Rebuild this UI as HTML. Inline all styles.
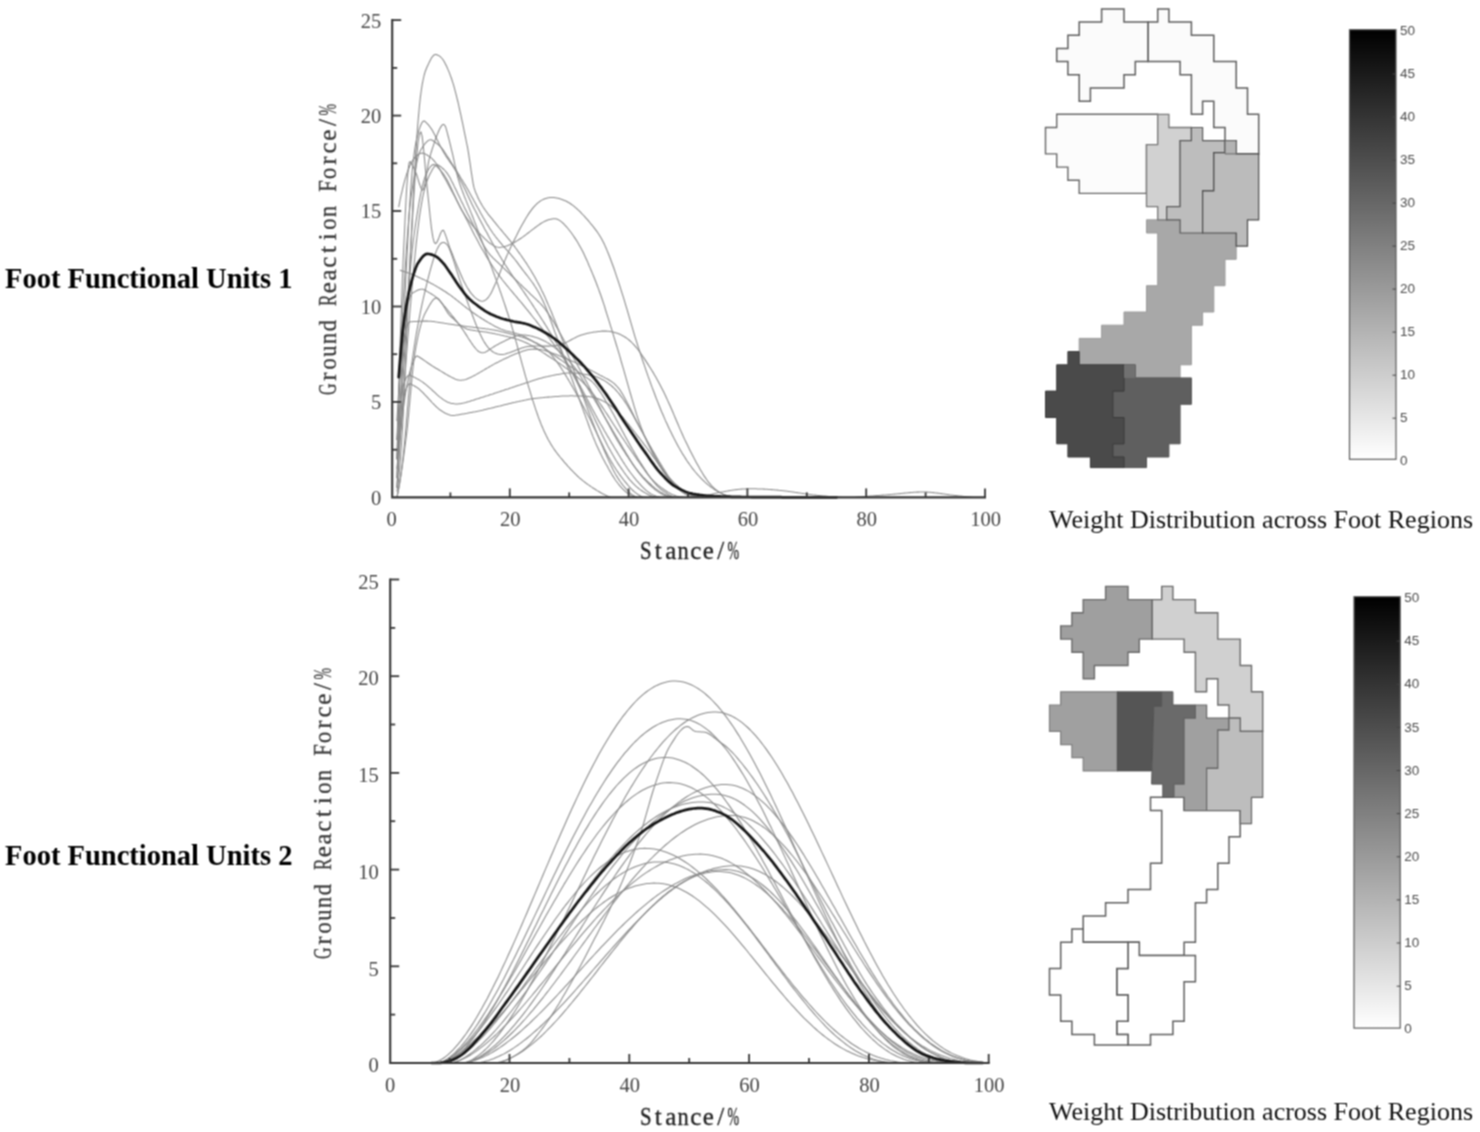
<!DOCTYPE html>
<html><head><meta charset="utf-8"><title>Foot Functional Units</title>
<style>html,body{margin:0;padding:0;background:#fff}#fig{width:1480px;height:1132px;overflow:hidden}svg{display:block}</style></head>
<body>
<div id="fig">
<svg width="1480" height="1132" viewBox="0 0 1480 1132">
<defs><linearGradient id="cb" x1="0" y1="0" x2="0" y2="1"><stop offset="0" stop-color="#000"/><stop offset="1" stop-color="#fff"/></linearGradient><filter id="bl" x="0" y="0" width="1480" height="1132" filterUnits="userSpaceOnUse" color-interpolation-filters="sRGB"><feConvolveMatrix order="3" kernelMatrix="1 2 1 2 4 2 1 2 1" divisor="16" edgeMode="duplicate" preserveAlpha="true"/></filter></defs>
<g filter="url(#bl)">
<rect width="1480" height="1132" fill="#fff"/>
<text x="5" y="287.5" font-family="'Liberation Serif','Noto Serif CJK SC',serif" font-weight="bold" font-size="28.5" fill="#000">Foot Functional Units 1</text>
<text x="5" y="865" font-family="'Liberation Serif','Noto Serif CJK SC',serif" font-weight="bold" font-size="28.5" fill="#000">Foot Functional Units 2</text>
<g fill="none" stroke="#888888" stroke-width="1.05" stroke-linejoin="round">
<path d="M396.9,491.7 L397.9,485.0 L398.8,477.0 L399.8,467.6 L400.7,456.2 L401.6,442.7 L402.6,426.7 L403.5,408.0 L404.5,387.4 L405.4,365.6 L406.3,343.3 L407.3,321.2 L408.2,300.0 L409.2,280.4 L410.1,261.0 L411.0,241.8 L412.0,222.9 L412.9,204.4 L413.9,186.7 L414.8,169.8 L415.7,154.0 L416.7,139.5 L417.6,126.5 L418.6,115.1 L419.5,105.3 L420.4,96.9 L421.4,89.8 L422.3,83.9 L423.3,79.0 L424.2,75.0 L425.1,71.8 L426.1,69.2 L427.0,67.0 L428.0,64.9 L428.9,62.9 L429.9,61.0 L430.8,59.2 L431.7,57.6 L432.7,56.3 L433.6,55.3 L434.6,54.7 L435.5,54.4 L436.4,54.6 L437.4,55.0 L438.3,55.4 L439.3,55.9 L440.2,56.6 L441.1,57.5 L442.1,58.5 L443.0,59.7 L444.0,61.2 L444.9,63.0 L445.8,64.8 L446.8,66.8 L447.7,68.9 L448.7,71.1 L449.6,73.4 L450.5,75.9 L451.5,78.5 L452.4,81.4 L453.4,84.4 L454.3,87.7 L455.2,91.1 L456.2,94.8 L457.1,98.6 L458.1,102.5 L459.0,106.6 L459.9,110.8 L460.9,115.2 L461.8,119.6 L462.8,124.1 L463.7,128.6 L464.6,133.2 L465.6,137.9 L466.5,142.5 L467.5,147.2 L468.4,152.3 L469.3,158.3 L470.3,164.8 L471.2,171.4 L472.2,177.7 L473.1,183.3 L474.0,187.7 L475.0,190.6 L475.9,193.0 L476.9,195.1 L477.8,197.2 L478.7,199.2 L479.7,201.0 L480.6,202.8 L481.6,204.4 L482.5,206.0 L483.4,207.5 L484.4,208.9 L485.3,210.3 L486.3,211.6 L487.2,212.8 L488.1,214.1 L489.1,215.3 L490.0,216.4 L491.0,217.6 L491.9,218.7 L492.9,219.9 L493.8,221.1 L494.7,222.2 L495.7,223.4 L496.6,224.6 L497.6,225.7 L498.5,226.9 L499.4,228.0 L500.4,229.1 L501.3,230.2 L502.3,231.4 L503.2,232.5 L504.1,233.6 L505.1,234.7 L506.0,235.8 L507.0,236.9 L507.9,238.1 L508.8,239.2 L509.8,240.4 L510.7,241.5 L511.7,242.7 L512.6,243.9 L513.5,245.2 L514.5,246.4 L515.4,247.7 L516.4,249.0 L517.3,250.3 L518.2,251.6 L519.2,252.9 L520.1,254.2 L521.1,255.5 L522.0,256.9 L522.9,258.2 L523.9,259.6 L524.8,261.0 L525.8,262.4 L526.7,263.8 L527.6,265.3 L528.6,266.8 L529.5,268.3 L530.5,269.8 L531.4,271.3 L532.3,272.9 L533.3,274.5 L534.2,276.1 L535.2,277.8 L536.1,279.5 L537.0,281.2 L538.0,282.9 L538.9,284.7 L539.9,286.6 L540.8,288.4 L541.7,290.4 L542.7,292.3 L543.6,294.3 L544.6,296.3 L545.5,298.4 L546.4,300.5 L547.4,302.7 L548.3,304.9 L549.3,307.1 L550.2,309.3 L551.2,311.5 L552.1,313.8 L553.0,316.1 L554.0,318.4 L554.9,320.7 L555.9,323.1 L556.8,325.5 L557.7,327.9 L558.7,330.3 L559.6,332.7 L560.6,335.1 L561.5,337.6 L562.4,340.1 L563.4,342.5 L564.3,345.0 L565.3,347.5 L566.2,350.0 L567.1,352.5 L568.1,355.0 L569.0,357.6 L570.0,360.1 L570.9,362.6 L571.8,365.2 L572.8,367.8 L573.7,370.3 L574.7,372.9 L575.6,375.5 L576.5,378.2 L577.5,380.8 L578.4,383.4 L579.4,386.0 L580.3,388.7 L581.2,391.3 L582.2,393.9 L583.1,396.5 L584.1,399.1 L585.0,401.7 L585.9,404.3 L586.9,406.9 L587.8,409.5 L588.8,412.0 L589.7,414.5 L590.6,417.1 L591.6,419.5 L592.5,422.0 L593.5,424.4 L594.4,426.8 L595.3,429.2 L596.3,431.5 L597.2,433.9 L598.2,436.2 L599.1,438.4 L600.0,440.7 L601.0,442.9 L601.9,445.1 L602.9,447.3 L603.8,449.5 L604.7,451.6 L605.7,453.7 L606.6,455.9 L607.6,457.9 L608.5,460.0 L609.4,462.1 L610.4,464.1 L611.3,466.1 L612.3,468.1 L613.2,469.9 L614.2,471.7 L615.1,473.4 L616.0,475.0 L617.0,476.6 L617.9,478.1 L618.9,479.6 L619.8,481.0 L620.7,482.3 L621.7,483.6 L622.6,484.8 L623.6,486.0 L624.5,487.1 L625.4,488.2 L626.4,489.3 L627.3,490.3 L628.3,491.3 L629.2,492.3 L630.1,493.1 L631.1,493.9 L632.0,494.6 L633.0,495.2 L633.9,495.8 L634.8,496.2 L635.8,496.6 L636.7,496.9 L637.7,497.2 L638.6,497.3 L639.5,497.4 L640.5,497.4"/>
<path d="M396.9,478.3 L397.9,455.0 L399.0,432.1 L400.0,409.5 L401.0,387.0 L402.0,364.6 L403.0,342.1 L404.0,319.8 L405.0,297.9 L406.0,276.6 L407.0,255.8 L408.0,235.6 L409.0,216.3 L410.1,199.2 L411.1,184.6 L412.1,172.4 L413.1,162.2 L414.1,153.8 L415.1,147.0 L416.1,141.4 L417.1,137.0 L418.1,133.3 L419.1,129.9 L420.1,126.8 L421.2,124.3 L422.2,122.3 L423.2,121.2 L424.2,120.9 L425.2,121.7 L426.2,122.6 L427.2,123.6 L428.2,124.7 L429.2,125.9 L430.2,127.2 L431.2,128.6 L432.3,130.3 L433.3,132.2 L434.3,134.1 L435.3,136.1 L436.3,138.1 L437.3,140.1 L438.3,142.1 L439.3,144.2 L440.3,146.2 L441.3,148.1 L442.4,150.0 L443.4,151.9 L444.4,153.6 L445.4,155.3 L446.4,156.9 L447.4,158.3 L448.4,159.8 L449.4,161.2 L450.4,162.6 L451.4,164.0 L452.4,165.5 L453.5,167.1 L454.5,168.7 L455.5,170.5 L456.5,172.3 L457.5,174.2 L458.5,176.2 L459.5,178.2 L460.5,180.2 L461.5,182.3 L462.5,184.3 L463.5,186.4 L464.6,188.5 L465.6,190.6 L466.6,192.8 L467.6,194.9 L468.6,197.0 L469.6,199.2 L470.6,201.3 L471.6,203.4 L472.6,205.5 L473.6,207.6 L474.6,209.6 L475.7,211.6 L476.7,213.6 L477.7,215.5 L478.7,217.5 L479.7,219.4 L480.7,221.3 L481.7,223.2 L482.7,225.1 L483.7,227.0 L484.7,228.9 L485.7,230.7 L486.8,232.6 L487.8,234.5 L488.8,236.4 L489.8,238.2 L490.8,240.1 L491.8,241.9 L492.8,243.7 L493.8,245.5 L494.8,247.3 L495.8,249.1 L496.8,250.9 L497.9,252.6 L498.9,254.4 L499.9,256.1 L500.9,257.7 L501.9,259.4 L502.9,261.1 L503.9,262.7 L504.9,264.3 L505.9,265.8 L506.9,267.4 L507.9,268.9 L509.0,270.5 L510.0,272.0 L511.0,273.5 L512.0,275.0 L513.0,276.5 L514.0,277.9 L515.0,279.4 L516.0,280.8 L517.0,282.3 L518.0,283.8 L519.0,285.2 L520.1,286.6 L521.1,288.1 L522.1,289.5 L523.1,291.0 L524.1,292.4 L525.1,293.9 L526.1,295.4 L527.1,296.8 L528.1,298.3 L529.1,299.8 L530.1,301.3 L531.2,302.8 L532.2,304.4 L533.2,305.9 L534.2,307.5 L535.2,309.0 L536.2,310.6 L537.2,312.1 L538.2,313.7 L539.2,315.2 L540.2,316.8 L541.2,318.4 L542.3,320.0 L543.3,321.5 L544.3,323.1 L545.3,324.7 L546.3,326.3 L547.3,327.9 L548.3,329.6 L549.3,331.2 L550.3,332.8 L551.3,334.5 L552.3,336.2 L553.4,337.9 L554.4,339.6 L555.4,341.3 L556.4,343.0 L557.4,344.8 L558.4,346.6 L559.4,348.4 L560.4,350.2 L561.4,352.1 L562.4,353.9 L563.4,355.8 L564.5,357.7 L565.5,359.6 L566.5,361.6 L567.5,363.5 L568.5,365.5 L569.5,367.5 L570.5,369.4 L571.5,371.4 L572.5,373.4 L573.5,375.4 L574.5,377.4 L575.6,379.5 L576.6,381.5 L577.6,383.5 L578.6,385.5 L579.6,387.5 L580.6,389.5 L581.6,391.6 L582.6,393.6 L583.6,395.6 L584.6,397.7 L585.6,399.8 L586.7,401.9 L587.7,404.0 L588.7,406.2 L589.7,408.3 L590.7,410.4 L591.7,412.6 L592.7,414.7 L593.7,416.9 L594.7,419.0 L595.7,421.2 L596.7,423.3 L597.8,425.5 L598.8,427.6 L599.8,429.7 L600.8,431.8 L601.8,433.9 L602.8,436.0 L603.8,438.1 L604.8,440.1 L605.8,442.1 L606.8,444.1 L607.8,446.0 L608.9,447.9 L609.9,449.7 L610.9,451.6 L611.9,453.3 L612.9,455.1 L613.9,456.8 L614.9,458.5 L615.9,460.2 L616.9,461.8 L617.9,463.4 L618.9,464.9 L620.0,466.5 L621.0,467.9 L622.0,469.4 L623.0,470.8 L624.0,472.3 L625.0,473.6 L626.0,475.0 L627.0,476.3 L628.0,477.6 L629.0,478.9 L630.0,480.1 L631.1,481.2 L632.1,482.3 L633.1,483.4 L634.1,484.4 L635.1,485.4 L636.1,486.3 L637.1,487.2 L638.1,488.0 L639.1,488.8 L640.1,489.6 L641.1,490.3 L642.2,491.0 L643.2,491.7 L644.2,492.3 L645.2,492.9 L646.2,493.5 L647.2,494.0 L648.2,494.5 L649.2,495.0 L650.2,495.4 L651.2,495.8 L652.2,496.2 L653.3,496.5 L654.3,496.8 L655.3,497.0 L656.3,497.2 L657.3,497.3 L658.3,497.4"/>
<path d="M396.9,459.2 L397.8,426.6 L398.6,395.9 L399.4,367.2 L400.2,340.5 L401.1,315.7 L401.9,292.9 L402.7,272.1 L403.5,252.8 L404.4,234.0 L405.2,216.3 L406.0,200.2 L406.8,186.2 L407.7,174.9 L408.5,166.7 L409.3,162.1 L410.2,161.6 L411.0,162.8 L411.8,164.1 L412.6,165.6 L413.5,167.2 L414.3,169.0 L415.1,170.9 L415.9,172.8 L416.8,175.0 L417.6,177.6 L418.4,180.3 L419.2,183.0 L420.1,185.6 L420.9,187.7 L421.7,189.3 L422.5,190.1 L423.4,189.4 L424.2,186.9 L425.0,183.2 L425.8,178.5 L426.7,173.4 L427.5,168.2 L428.3,163.4 L429.1,159.4 L430.0,156.4 L430.8,153.7 L431.6,151.0 L432.4,148.4 L433.3,145.8 L434.1,143.3 L434.9,140.8 L435.7,138.5 L436.6,136.2 L437.4,134.1 L438.2,132.2 L439.0,130.3 L439.9,128.6 L440.7,127.1 L441.5,125.8 L442.4,124.8 L443.2,124.4 L444.0,124.5 L444.8,125.4 L445.7,127.1 L446.5,129.8 L447.3,132.9 L448.1,136.0 L449.0,139.3 L449.8,142.6 L450.6,145.9 L451.4,149.3 L452.3,152.8 L453.1,156.4 L453.9,160.2 L454.7,164.0 L455.6,167.7 L456.4,171.4 L457.2,174.9 L458.0,178.1 L458.9,181.0 L459.7,183.6 L460.5,186.0 L461.3,188.3 L462.2,190.6 L463.0,192.8 L463.8,194.9 L464.6,197.0 L465.5,199.1 L466.3,201.1 L467.1,203.1 L467.9,205.1 L468.8,207.1 L469.6,209.1 L470.4,211.1 L471.2,213.1 L472.1,215.2 L472.9,217.3 L473.7,219.4 L474.5,221.6 L475.4,223.8 L476.2,226.0 L477.0,228.2 L477.9,230.4 L478.7,232.6 L479.5,234.8 L480.3,237.0 L481.2,239.2 L482.0,241.5 L482.8,243.7 L483.6,245.9 L484.5,248.1 L485.3,250.3 L486.1,252.5 L486.9,254.7 L487.8,256.9 L488.6,259.2 L489.4,261.4 L490.2,263.6 L491.1,265.8 L491.9,268.1 L492.7,270.3 L493.5,272.6 L494.4,274.8 L495.2,277.1 L496.0,279.4 L496.8,281.7 L497.7,284.0 L498.5,286.3 L499.3,288.7 L500.1,291.0 L501.0,293.4 L501.8,295.8 L502.6,298.2 L503.4,300.6 L504.3,303.1 L505.1,305.5 L505.9,308.0 L506.7,310.5 L507.6,313.0 L508.4,315.5 L509.2,318.1 L510.1,320.7 L510.9,323.3 L511.7,326.0 L512.5,328.8 L513.4,331.7 L514.2,334.7 L515.0,337.6 L515.8,340.7 L516.7,343.7 L517.5,346.8 L518.3,349.9 L519.1,353.0 L520.0,356.1 L520.8,359.2 L521.6,362.2 L522.4,365.2 L523.3,368.2 L524.1,371.2 L524.9,374.1 L525.7,376.9 L526.6,379.8 L527.4,382.6 L528.2,385.4 L529.0,388.1 L529.9,390.9 L530.7,393.6 L531.5,396.3 L532.3,399.0 L533.2,401.6 L534.0,404.2 L534.8,406.7 L535.6,409.2 L536.5,411.6 L537.3,414.0 L538.1,416.3 L538.9,418.6 L539.8,420.8 L540.6,422.9 L541.4,425.0 L542.3,427.0 L543.1,428.9 L543.9,430.8 L544.7,432.6 L545.6,434.3 L546.4,436.0 L547.2,437.6 L548.0,439.2 L548.9,440.7 L549.7,442.1 L550.5,443.5 L551.3,444.9 L552.2,446.2 L553.0,447.5 L553.8,448.7 L554.6,449.9 L555.5,451.1 L556.3,452.2 L557.1,453.3 L557.9,454.4 L558.8,455.4 L559.6,456.5 L560.4,457.5 L561.2,458.4 L562.1,459.4 L562.9,460.4 L563.7,461.4 L564.5,462.3 L565.4,463.3 L566.2,464.2 L567.0,465.1 L567.8,466.1 L568.7,467.0 L569.5,467.9 L570.3,468.8 L571.1,469.7 L572.0,470.5 L572.8,471.4 L573.6,472.2 L574.5,473.1 L575.3,473.9 L576.1,474.7 L576.9,475.5 L577.8,476.3 L578.6,477.0 L579.4,477.8 L580.2,478.5 L581.1,479.2 L581.9,479.9 L582.7,480.6 L583.5,481.2 L584.4,481.9 L585.2,482.5 L586.0,483.1 L586.8,483.7 L587.7,484.3 L588.5,484.9 L589.3,485.4 L590.1,486.0 L591.0,486.6 L591.8,487.1 L592.6,487.7 L593.4,488.2 L594.3,488.8 L595.1,489.3 L595.9,489.8 L596.7,490.4 L597.6,490.9 L598.4,491.3 L599.2,491.8 L600.0,492.3 L600.9,492.8 L601.7,493.2 L602.5,493.7 L603.3,494.1 L604.2,494.5 L605.0,494.9 L605.8,495.3 L606.7,495.7 L607.5,496.1 L608.3,496.4 L609.1,496.8 L610.0,497.1 L610.8,497.4"/>
<path d="M396.9,487.9 L398.3,464.1 L399.6,440.6 L400.9,417.2 L402.3,393.8 L403.6,370.4 L404.9,347.2 L406.3,324.2 L407.6,301.5 L408.9,278.8 L410.2,256.3 L411.6,233.8 L412.9,211.5 L414.2,190.1 L415.6,170.7 L416.9,154.2 L418.2,141.5 L419.6,133.8 L420.9,131.8 L422.2,136.6 L423.5,148.2 L424.9,163.1 L426.2,178.1 L427.5,191.1 L428.9,204.5 L430.2,217.3 L431.5,228.6 L432.9,237.4 L434.2,242.3 L435.5,243.7 L436.8,242.5 L438.2,239.6 L439.5,236.1 L440.8,232.7 L442.2,230.5 L443.5,230.3 L444.8,233.1 L446.2,236.9 L447.5,241.0 L448.8,244.9 L450.1,248.6 L451.5,252.0 L452.8,255.3 L454.1,258.6 L455.5,261.9 L456.8,265.2 L458.1,268.3 L459.5,271.5 L460.8,274.5 L462.1,277.5 L463.4,280.4 L464.8,283.0 L466.1,285.5 L467.4,287.8 L468.8,289.9 L470.1,291.9 L471.4,293.6 L472.8,295.2 L474.1,296.6 L475.4,297.8 L476.8,298.9 L478.1,299.8 L479.4,300.5 L480.7,301.0 L482.1,301.2 L483.4,301.0 L484.7,300.5 L486.1,299.6 L487.4,298.4 L488.7,296.8 L490.1,294.8 L491.4,292.4 L492.7,289.7 L494.0,286.8 L495.4,283.8 L496.7,280.6 L498.0,277.4 L499.4,274.1 L500.7,270.8 L502.0,267.4 L503.4,264.1 L504.7,260.9 L506.0,257.7 L507.3,254.6 L508.7,251.6 L510.0,248.8 L511.3,246.1 L512.7,243.3 L514.0,240.6 L515.3,237.9 L516.7,235.3 L518.0,232.6 L519.3,230.1 L520.6,227.6 L522.0,225.1 L523.3,222.7 L524.6,220.4 L526.0,218.1 L527.3,216.0 L528.6,213.9 L530.0,211.9 L531.3,210.1 L532.6,208.4 L533.9,206.8 L535.3,205.3 L536.6,204.0 L537.9,202.9 L539.3,201.8 L540.6,200.9 L541.9,200.1 L543.3,199.4 L544.6,198.8 L545.9,198.4 L547.3,198.0 L548.6,197.8 L549.9,197.6 L551.2,197.5 L552.6,197.5 L553.9,197.6 L555.2,197.8 L556.6,198.0 L557.9,198.3 L559.2,198.6 L560.6,199.0 L561.9,199.4 L563.2,199.9 L564.5,200.5 L565.9,201.1 L567.2,201.7 L568.5,202.5 L569.9,203.3 L571.2,204.2 L572.5,205.1 L573.9,206.2 L575.2,207.3 L576.5,208.4 L577.8,209.7 L579.2,210.9 L580.5,212.2 L581.8,213.6 L583.2,215.0 L584.5,216.4 L585.8,217.9 L587.2,219.4 L588.5,220.9 L589.8,222.5 L591.1,224.1 L592.5,225.7 L593.8,227.4 L595.1,229.1 L596.5,230.9 L597.8,232.8 L599.1,234.8 L600.5,237.0 L601.8,239.3 L603.1,241.8 L604.5,244.6 L605.8,247.5 L607.1,250.6 L608.4,253.8 L609.8,257.2 L611.1,260.7 L612.4,264.3 L613.8,268.0 L615.1,271.9 L616.4,275.8 L617.8,279.8 L619.1,283.8 L620.4,287.9 L621.7,292.1 L623.1,296.4 L624.4,300.7 L625.7,305.1 L627.1,309.6 L628.4,314.2 L629.7,318.7 L631.1,323.3 L632.4,327.8 L633.7,332.3 L635.0,336.8 L636.4,341.1 L637.7,345.3 L639.0,349.4 L640.4,353.5 L641.7,357.5 L643.0,361.5 L644.4,365.4 L645.7,369.3 L647.0,373.1 L648.3,376.9 L649.7,380.6 L651.0,384.3 L652.3,387.9 L653.7,391.5 L655.0,395.0 L656.3,398.5 L657.7,401.9 L659.0,405.2 L660.3,408.5 L661.6,411.7 L663.0,414.8 L664.3,417.9 L665.6,420.9 L667.0,423.8 L668.3,426.7 L669.6,429.5 L671.0,432.2 L672.3,434.9 L673.6,437.6 L675.0,440.2 L676.3,442.7 L677.6,445.2 L678.9,447.6 L680.3,449.9 L681.6,452.2 L682.9,454.4 L684.3,456.5 L685.6,458.6 L686.9,460.7 L688.3,462.6 L689.6,464.5 L690.9,466.3 L692.2,468.1 L693.6,469.8 L694.9,471.5 L696.2,473.0 L697.6,474.6 L698.9,476.0 L700.2,477.4 L701.6,478.8 L702.9,480.1 L704.2,481.4 L705.5,482.6 L706.9,483.8 L708.2,484.9 L709.5,485.9 L710.9,487.0 L712.2,487.9 L713.5,488.8 L714.9,489.7 L716.2,490.5 L717.5,491.3 L718.8,492.0 L720.2,492.7 L721.5,493.3 L722.8,493.9 L724.2,494.4 L725.5,494.9 L726.8,495.4 L728.2,495.8 L729.5,496.2 L730.8,496.5 L732.1,496.8 L733.5,497.0 L734.8,497.2 L736.1,497.3 L737.5,497.4 L738.8,497.4 L740.1,497.4 L741.5,497.4"/>
<path d="M396.9,478.3 L398.1,451.4 L399.3,426.3 L400.5,403.2 L401.7,382.2 L402.9,363.4 L404.1,346.1 L405.3,329.5 L406.5,313.7 L407.7,298.8 L408.9,284.7 L410.1,271.6 L411.3,259.5 L412.4,248.4 L413.6,238.5 L414.8,229.7 L416.0,221.6 L417.2,213.8 L418.4,206.5 L419.6,199.7 L420.8,193.5 L422.0,187.8 L423.2,182.9 L424.4,178.7 L425.6,175.2 L426.8,172.7 L427.9,170.5 L429.1,168.5 L430.3,166.8 L431.5,165.5 L432.7,164.7 L433.9,164.4 L435.1,164.9 L436.3,165.9 L437.5,167.1 L438.7,168.3 L439.9,169.6 L441.1,171.0 L442.3,172.5 L443.5,174.1 L444.6,175.8 L445.8,177.7 L447.0,179.8 L448.2,182.0 L449.4,184.4 L450.6,186.9 L451.8,189.4 L453.0,192.1 L454.2,194.7 L455.4,197.3 L456.6,200.0 L457.8,202.5 L459.0,204.9 L460.1,207.3 L461.3,209.5 L462.5,211.5 L463.7,213.4 L464.9,215.2 L466.1,217.0 L467.3,218.7 L468.5,220.3 L469.7,221.9 L470.9,223.4 L472.1,224.9 L473.3,226.4 L474.5,227.8 L475.7,229.2 L476.8,230.5 L478.0,231.8 L479.2,233.1 L480.4,234.3 L481.6,235.5 L482.8,236.7 L484.0,237.9 L485.2,239.1 L486.4,240.2 L487.6,241.3 L488.8,242.3 L490.0,243.3 L491.2,244.1 L492.3,244.9 L493.5,245.6 L494.7,246.2 L495.9,246.7 L497.1,247.1 L498.3,247.3 L499.5,247.4 L500.7,247.3 L501.9,247.1 L503.1,246.9 L504.3,246.6 L505.5,246.3 L506.7,245.9 L507.9,245.5 L509.0,245.0 L510.2,244.5 L511.4,243.9 L512.6,243.3 L513.8,242.7 L515.0,242.0 L516.2,241.3 L517.4,240.6 L518.6,239.8 L519.8,239.0 L521.0,238.3 L522.2,237.4 L523.4,236.6 L524.5,235.7 L525.7,234.9 L526.9,233.9 L528.1,233.0 L529.3,232.1 L530.5,231.2 L531.7,230.2 L532.9,229.3 L534.1,228.4 L535.3,227.5 L536.5,226.6 L537.7,225.7 L538.9,224.9 L540.1,224.0 L541.2,223.3 L542.4,222.6 L543.6,221.9 L544.8,221.3 L546.0,220.8 L547.2,220.3 L548.4,219.8 L549.6,219.5 L550.8,219.2 L552.0,218.9 L553.2,218.7 L554.4,218.7 L555.6,218.8 L556.7,219.0 L557.9,219.5 L559.1,220.1 L560.3,220.9 L561.5,221.8 L562.7,222.9 L563.9,224.0 L565.1,225.3 L566.3,226.6 L567.5,228.0 L568.7,229.5 L569.9,231.0 L571.1,232.5 L572.3,234.2 L573.4,235.8 L574.6,237.6 L575.8,239.4 L577.0,241.3 L578.2,243.3 L579.4,245.4 L580.6,247.5 L581.8,249.8 L583.0,252.1 L584.2,254.6 L585.4,257.2 L586.6,259.8 L587.8,262.4 L588.9,265.2 L590.1,267.9 L591.3,270.7 L592.5,273.6 L593.7,276.5 L594.9,279.5 L596.1,282.5 L597.3,285.7 L598.5,288.9 L599.7,292.2 L600.9,295.5 L602.1,299.0 L603.3,302.6 L604.5,306.2 L605.6,310.0 L606.8,313.8 L608.0,317.6 L609.2,321.4 L610.4,325.3 L611.6,329.2 L612.8,333.1 L614.0,337.1 L615.2,341.0 L616.4,345.0 L617.6,348.9 L618.8,352.9 L620.0,356.9 L621.1,361.0 L622.3,365.1 L623.5,369.2 L624.7,373.4 L625.9,377.6 L627.1,381.9 L628.3,386.1 L629.5,390.3 L630.7,394.5 L631.9,398.7 L633.1,402.7 L634.3,406.8 L635.5,410.7 L636.6,414.4 L637.8,418.1 L639.0,421.5 L640.2,424.9 L641.4,428.1 L642.6,431.2 L643.8,434.2 L645.0,437.0 L646.2,439.8 L647.4,442.5 L648.6,445.1 L649.8,447.6 L651.0,450.0 L652.2,452.4 L653.3,454.7 L654.5,456.9 L655.7,459.1 L656.9,461.3 L658.1,463.4 L659.3,465.4 L660.5,467.3 L661.7,469.2 L662.9,471.1 L664.1,472.8 L665.3,474.5 L666.5,476.1 L667.7,477.6 L668.8,479.1 L670.0,480.4 L671.2,481.7 L672.4,482.8 L673.6,483.9 L674.8,484.9 L676.0,485.8 L677.2,486.7 L678.4,487.5 L679.6,488.4 L680.8,489.2 L682.0,489.9 L683.2,490.6 L684.4,491.3 L685.5,492.0 L686.7,492.6 L687.9,493.2 L689.1,493.7 L690.3,494.2 L691.5,494.7 L692.7,495.1 L693.9,495.5 L695.1,495.8 L696.3,496.1 L697.5,496.4 L698.7,496.7 L699.9,496.9 L701.0,497.1 L702.2,497.3 L703.4,497.4 L704.6,497.4 L705.8,497.4"/>
<path d="M396.9,459.2 L397.9,430.1 L398.8,402.7 L399.7,377.1 L400.7,353.5 L401.6,332.2 L402.5,313.3 L403.4,296.6 L404.4,280.9 L405.3,266.0 L406.2,252.0 L407.2,239.1 L408.1,227.2 L409.0,216.5 L409.9,206.9 L410.9,198.7 L411.8,191.9 L412.7,185.8 L413.7,179.9 L414.6,174.3 L415.5,169.1 L416.4,164.3 L417.4,160.0 L418.3,156.2 L419.2,153.2 L420.2,150.9 L421.1,149.4 L422.0,148.0 L422.9,146.6 L423.9,145.3 L424.8,144.0 L425.7,142.9 L426.7,141.9 L427.6,141.0 L428.5,140.4 L429.4,139.9 L430.4,139.7 L431.3,139.8 L432.2,140.2 L433.2,140.8 L434.1,141.5 L435.0,142.2 L436.0,142.8 L436.9,143.5 L437.8,144.3 L438.7,145.1 L439.7,146.0 L440.6,146.9 L441.5,147.9 L442.5,149.1 L443.4,150.3 L444.3,151.6 L445.2,153.1 L446.2,154.5 L447.1,156.0 L448.0,157.4 L449.0,158.9 L449.9,160.3 L450.8,161.8 L451.7,163.2 L452.7,164.7 L453.6,166.2 L454.5,167.7 L455.5,169.1 L456.4,170.6 L457.3,172.1 L458.2,173.6 L459.2,175.1 L460.1,176.7 L461.0,178.2 L462.0,179.7 L462.9,181.3 L463.8,182.8 L464.7,184.4 L465.7,185.9 L466.6,187.5 L467.5,189.1 L468.5,190.8 L469.4,192.4 L470.3,194.1 L471.2,195.7 L472.2,197.4 L473.1,199.1 L474.0,200.8 L475.0,202.5 L475.9,204.2 L476.8,205.9 L477.7,207.6 L478.7,209.3 L479.6,211.0 L480.5,212.7 L481.5,214.4 L482.4,216.0 L483.3,217.7 L484.3,219.3 L485.2,220.9 L486.1,222.5 L487.0,224.1 L488.0,225.6 L488.9,227.1 L489.8,228.6 L490.8,230.0 L491.7,231.3 L492.6,232.7 L493.5,234.0 L494.5,235.2 L495.4,236.5 L496.3,237.7 L497.3,238.8 L498.2,240.0 L499.1,241.1 L500.0,242.2 L501.0,243.3 L501.9,244.4 L502.8,245.5 L503.8,246.5 L504.7,247.6 L505.6,248.6 L506.5,249.7 L507.5,250.7 L508.4,251.8 L509.3,252.8 L510.3,253.9 L511.2,255.0 L512.1,256.1 L513.0,257.2 L514.0,258.3 L514.9,259.5 L515.8,260.7 L516.8,261.9 L517.7,263.1 L518.6,264.4 L519.5,265.7 L520.5,266.9 L521.4,268.1 L522.3,269.4 L523.3,270.6 L524.2,271.8 L525.1,272.9 L526.0,274.1 L527.0,275.3 L527.9,276.5 L528.8,277.7 L529.8,279.0 L530.7,280.2 L531.6,281.5 L532.6,282.8 L533.5,284.1 L534.4,285.5 L535.3,287.0 L536.3,288.4 L537.2,290.0 L538.1,291.5 L539.1,293.2 L540.0,294.9 L540.9,296.7 L541.8,298.5 L542.8,300.5 L543.7,302.5 L544.6,304.6 L545.6,306.8 L546.5,309.1 L547.4,311.5 L548.3,313.9 L549.3,316.5 L550.2,319.1 L551.1,321.6 L552.1,324.2 L553.0,326.7 L553.9,329.3 L554.8,331.9 L555.8,334.4 L556.7,337.0 L557.6,339.5 L558.6,342.1 L559.5,344.7 L560.4,347.2 L561.3,349.8 L562.3,352.3 L563.2,354.9 L564.1,357.4 L565.1,360.0 L566.0,362.6 L566.9,365.1 L567.8,367.7 L568.8,370.2 L569.7,372.8 L570.6,375.4 L571.6,377.9 L572.5,380.5 L573.4,383.0 L574.3,385.6 L575.3,388.1 L576.2,390.7 L577.1,393.3 L578.1,395.8 L579.0,398.4 L579.9,400.9 L580.9,403.5 L581.8,406.1 L582.7,408.6 L583.6,411.2 L584.6,413.7 L585.5,416.3 L586.4,418.9 L587.4,421.4 L588.3,424.0 L589.2,426.5 L590.1,429.1 L591.1,431.6 L592.0,434.0 L592.9,436.4 L593.9,438.7 L594.8,440.9 L595.7,443.1 L596.6,445.2 L597.6,447.3 L598.5,449.3 L599.4,451.3 L600.4,453.2 L601.3,455.1 L602.2,456.9 L603.1,458.7 L604.1,460.5 L605.0,462.2 L605.9,463.9 L606.9,465.6 L607.8,467.3 L608.7,469.0 L609.6,470.6 L610.6,472.2 L611.5,473.8 L612.4,475.4 L613.4,476.9 L614.3,478.3 L615.2,479.7 L616.1,481.0 L617.1,482.3 L618.0,483.5 L618.9,484.6 L619.9,485.8 L620.8,486.8 L621.7,487.9 L622.6,488.8 L623.6,489.8 L624.5,490.7 L625.4,491.5 L626.4,492.3 L627.3,493.0 L628.2,493.7 L629.2,494.4 L630.1,494.9 L631.0,495.4 L631.9,495.9 L632.9,496.3 L633.8,496.6 L634.7,496.9 L635.7,497.1 L636.6,497.3 L637.5,497.4"/>
<path d="M398.7,207.2 L399.7,201.9 L400.7,196.9 L401.8,192.3 L402.8,187.9 L403.8,183.8 L404.8,180.1 L405.8,176.8 L406.8,173.7 L407.8,170.9 L408.9,168.2 L409.9,165.8 L410.9,163.6 L411.9,161.7 L412.9,160.0 L413.9,158.6 L414.9,157.4 L416.0,156.4 L417.0,155.5 L418.0,154.7 L419.0,154.1 L420.0,153.6 L421.0,153.3 L422.0,153.1 L423.1,153.2 L424.1,153.4 L425.1,153.9 L426.1,154.5 L427.1,155.0 L428.1,155.7 L429.1,156.4 L430.1,157.1 L431.2,157.9 L432.2,158.8 L433.2,159.8 L434.2,160.9 L435.2,162.2 L436.2,163.5 L437.2,165.0 L438.3,166.7 L439.3,168.5 L440.3,170.3 L441.3,172.1 L442.3,173.9 L443.3,175.7 L444.3,177.5 L445.4,179.3 L446.4,181.1 L447.4,183.0 L448.4,184.8 L449.4,186.7 L450.4,188.5 L451.4,190.4 L452.4,192.3 L453.5,194.2 L454.5,196.1 L455.5,198.0 L456.5,199.9 L457.5,201.8 L458.5,203.8 L459.5,205.7 L460.6,207.7 L461.6,209.7 L462.6,211.6 L463.6,213.6 L464.6,215.6 L465.6,217.6 L466.6,219.6 L467.7,221.6 L468.7,223.6 L469.7,225.6 L470.7,227.5 L471.7,229.5 L472.7,231.5 L473.7,233.4 L474.7,235.4 L475.8,237.3 L476.8,239.2 L477.8,241.1 L478.8,243.0 L479.8,244.9 L480.8,246.7 L481.8,248.6 L482.9,250.3 L483.9,252.1 L484.9,253.8 L485.9,255.6 L486.9,257.2 L487.9,258.9 L488.9,260.5 L490.0,262.1 L491.0,263.7 L492.0,265.2 L493.0,266.8 L494.0,268.3 L495.0,269.7 L496.0,271.2 L497.1,272.6 L498.1,274.0 L499.1,275.4 L500.1,276.8 L501.1,278.1 L502.1,279.5 L503.1,280.8 L504.1,282.0 L505.2,283.3 L506.2,284.6 L507.2,285.8 L508.2,287.0 L509.2,288.3 L510.2,289.5 L511.2,290.7 L512.3,291.9 L513.3,293.1 L514.3,294.3 L515.3,295.5 L516.3,296.7 L517.3,297.9 L518.3,299.1 L519.4,300.3 L520.4,301.5 L521.4,302.7 L522.4,303.9 L523.4,305.1 L524.4,306.4 L525.4,307.6 L526.4,308.9 L527.5,310.1 L528.5,311.4 L529.5,312.7 L530.5,313.9 L531.5,315.2 L532.5,316.5 L533.5,317.8 L534.6,319.0 L535.6,320.3 L536.6,321.6 L537.6,322.9 L538.6,324.2 L539.6,325.5 L540.6,326.8 L541.7,328.1 L542.7,329.4 L543.7,330.7 L544.7,332.1 L545.7,333.4 L546.7,334.7 L547.7,336.0 L548.7,337.4 L549.8,338.7 L550.8,340.1 L551.8,341.4 L552.8,342.8 L553.8,344.2 L554.8,345.6 L555.8,347.0 L556.9,348.4 L557.9,349.9 L558.9,351.3 L559.9,352.8 L560.9,354.3 L561.9,355.8 L562.9,357.4 L564.0,358.9 L565.0,360.5 L566.0,362.1 L567.0,363.7 L568.0,365.3 L569.0,366.9 L570.0,368.6 L571.1,370.2 L572.1,371.9 L573.1,373.6 L574.1,375.3 L575.1,377.1 L576.1,378.8 L577.1,380.6 L578.1,382.4 L579.2,384.2 L580.2,386.1 L581.2,388.0 L582.2,389.8 L583.2,391.7 L584.2,393.6 L585.2,395.5 L586.3,397.5 L587.3,399.4 L588.3,401.3 L589.3,403.2 L590.3,405.2 L591.3,407.1 L592.3,409.0 L593.4,410.9 L594.4,412.8 L595.4,414.7 L596.4,416.5 L597.4,418.4 L598.4,420.2 L599.4,422.0 L600.4,423.8 L601.5,425.6 L602.5,427.3 L603.5,429.1 L604.5,430.9 L605.5,432.6 L606.5,434.3 L607.5,436.1 L608.6,437.8 L609.6,439.5 L610.6,441.2 L611.6,442.9 L612.6,444.6 L613.6,446.3 L614.6,448.0 L615.7,449.7 L616.7,451.4 L617.7,453.0 L618.7,454.7 L619.7,456.3 L620.7,458.0 L621.7,459.6 L622.7,461.3 L623.8,462.9 L624.8,464.5 L625.8,466.0 L626.8,467.5 L627.8,469.0 L628.8,470.4 L629.8,471.8 L630.9,473.2 L631.9,474.5 L632.9,475.8 L633.9,477.1 L634.9,478.3 L635.9,479.6 L636.9,480.8 L638.0,481.9 L639.0,483.1 L640.0,484.2 L641.0,485.3 L642.0,486.4 L643.0,487.4 L644.0,488.4 L645.1,489.4 L646.1,490.3 L647.1,491.1 L648.1,491.9 L649.1,492.6 L650.1,493.3 L651.1,493.9 L652.1,494.4 L653.2,494.9 L654.2,495.4 L655.2,495.8 L656.2,496.2 L657.2,496.5 L658.2,496.8 L659.2,497.0 L660.3,497.2 L661.3,497.4"/>
<path d="M396.9,487.9 L398.0,471.8 L399.1,456.2 L400.1,441.0 L401.2,426.1 L402.3,411.5 L403.3,397.1 L404.4,382.8 L405.5,368.8 L406.5,354.8 L407.6,341.0 L408.7,327.5 L409.7,314.3 L410.8,301.5 L411.9,289.0 L412.9,277.1 L414.0,265.6 L415.1,254.7 L416.1,244.4 L417.2,234.7 L418.3,225.7 L419.3,217.6 L420.4,210.4 L421.5,203.9 L422.5,198.2 L423.6,193.2 L424.7,188.7 L425.7,184.9 L426.8,181.5 L427.9,178.7 L428.9,176.2 L430.0,174.0 L431.1,172.0 L432.1,170.0 L433.2,168.3 L434.3,166.8 L435.3,165.7 L436.4,165.0 L437.5,164.8 L438.5,165.2 L439.6,166.0 L440.7,166.7 L441.7,167.6 L442.8,168.5 L443.9,169.5 L444.9,170.5 L446.0,171.8 L447.1,173.1 L448.1,174.7 L449.2,176.4 L450.3,178.3 L451.3,180.4 L452.4,182.5 L453.5,184.7 L454.5,186.9 L455.6,189.1 L456.7,191.3 L457.7,193.5 L458.8,195.7 L459.9,198.0 L460.9,200.2 L462.0,202.4 L463.1,204.6 L464.1,206.8 L465.2,209.0 L466.3,211.1 L467.3,213.2 L468.4,215.2 L469.5,217.2 L470.5,219.3 L471.6,221.5 L472.7,223.6 L473.7,225.8 L474.8,228.0 L475.9,230.1 L476.9,232.3 L478.0,234.5 L479.1,236.6 L480.1,238.7 L481.2,240.7 L482.3,242.7 L483.3,244.6 L484.4,246.5 L485.5,248.3 L486.5,249.9 L487.6,251.5 L488.7,253.0 L489.7,254.4 L490.8,255.6 L491.9,256.7 L492.9,257.8 L494.0,258.8 L495.1,259.8 L496.1,260.9 L497.2,261.9 L498.3,262.9 L499.3,263.9 L500.4,265.0 L501.5,266.0 L502.5,267.0 L503.6,268.1 L504.7,269.1 L505.7,270.1 L506.8,271.1 L507.9,272.2 L508.9,273.2 L510.0,274.2 L511.0,275.3 L512.1,276.3 L513.2,277.3 L514.2,278.3 L515.3,279.4 L516.4,280.4 L517.4,281.4 L518.5,282.4 L519.6,283.5 L520.6,284.5 L521.7,285.5 L522.8,286.6 L523.8,287.6 L524.9,288.6 L526.0,289.6 L527.0,290.7 L528.1,291.7 L529.2,292.7 L530.2,293.8 L531.3,294.8 L532.4,295.8 L533.4,296.8 L534.5,297.9 L535.6,298.9 L536.6,299.9 L537.7,301.0 L538.8,302.0 L539.8,303.0 L540.9,304.1 L542.0,305.3 L543.0,306.5 L544.1,307.8 L545.2,309.2 L546.2,310.6 L547.3,312.1 L548.4,313.7 L549.4,315.3 L550.5,316.9 L551.6,318.6 L552.6,320.4 L553.7,322.1 L554.8,323.9 L555.8,325.7 L556.9,327.6 L558.0,329.5 L559.0,331.4 L560.1,333.3 L561.2,335.2 L562.2,337.1 L563.3,339.0 L564.4,341.0 L565.4,342.9 L566.5,344.8 L567.6,346.8 L568.6,348.7 L569.7,350.7 L570.8,352.6 L571.8,354.6 L572.9,356.5 L574.0,358.5 L575.0,360.5 L576.1,362.4 L577.2,364.4 L578.2,366.4 L579.3,368.4 L580.4,370.4 L581.4,372.4 L582.5,374.4 L583.6,376.4 L584.6,378.4 L585.7,380.4 L586.8,382.4 L587.8,384.4 L588.9,386.4 L590.0,388.5 L591.0,390.5 L592.1,392.6 L593.2,394.6 L594.2,396.7 L595.3,398.8 L596.4,400.8 L597.4,402.9 L598.5,405.0 L599.6,407.1 L600.6,409.2 L601.7,411.2 L602.8,413.3 L603.8,415.4 L604.9,417.4 L606.0,419.5 L607.0,421.5 L608.1,423.6 L609.2,425.6 L610.2,427.6 L611.3,429.6 L612.4,431.6 L613.4,433.6 L614.5,435.5 L615.6,437.3 L616.6,439.2 L617.7,441.0 L618.8,442.8 L619.8,444.5 L620.9,446.3 L622.0,448.0 L623.0,449.7 L624.1,451.3 L625.2,453.0 L626.2,454.6 L627.3,456.2 L628.4,457.8 L629.4,459.4 L630.5,461.0 L631.6,462.5 L632.6,464.1 L633.7,465.6 L634.8,467.2 L635.8,468.7 L636.9,470.1 L638.0,471.6 L639.0,473.0 L640.1,474.3 L641.2,475.6 L642.2,476.9 L643.3,478.1 L644.4,479.3 L645.4,480.5 L646.5,481.6 L647.6,482.7 L648.6,483.8 L649.7,484.8 L650.8,485.8 L651.8,486.8 L652.9,487.7 L654.0,488.6 L655.0,489.5 L656.1,490.4 L657.2,491.2 L658.2,491.9 L659.3,492.6 L660.4,493.3 L661.4,493.8 L662.5,494.4 L663.6,494.9 L664.6,495.3 L665.7,495.7 L666.8,496.1 L667.8,496.4 L668.9,496.7 L670.0,496.9 L671.0,497.1 L672.1,497.3 L673.2,497.4"/>
<path d="M396.9,497.4 L398.2,491.1 L399.6,483.6 L400.9,474.9 L402.2,465.0 L403.5,453.9 L404.8,440.4 L406.1,425.3 L407.4,409.4 L408.7,393.8 L410.0,379.5 L411.3,367.4 L412.6,357.8 L413.9,349.0 L415.2,340.7 L416.5,332.8 L417.9,325.3 L419.2,318.3 L420.5,311.7 L421.8,305.4 L423.1,299.5 L424.4,293.9 L425.7,288.4 L427.0,283.0 L428.3,277.7 L429.6,272.7 L430.9,267.8 L432.2,263.3 L433.5,259.0 L434.9,255.0 L436.2,251.4 L437.5,248.4 L438.8,246.0 L440.1,244.2 L441.4,243.0 L442.7,242.5 L444.0,242.6 L445.3,243.1 L446.6,244.1 L447.9,245.8 L449.2,248.2 L450.5,251.5 L451.8,255.3 L453.2,259.3 L454.5,263.4 L455.8,267.5 L457.1,271.6 L458.4,275.7 L459.7,279.8 L461.0,283.7 L462.3,287.5 L463.6,291.1 L464.9,294.8 L466.2,298.4 L467.5,302.0 L468.8,305.6 L470.1,309.2 L471.5,312.7 L472.8,316.2 L474.1,319.6 L475.4,323.0 L476.7,326.2 L478.0,329.4 L479.3,332.3 L480.6,335.1 L481.9,337.7 L483.2,340.2 L484.5,342.4 L485.8,344.4 L487.1,346.2 L488.4,347.8 L489.8,349.2 L491.1,350.4 L492.4,351.5 L493.7,352.4 L495.0,353.1 L496.3,353.6 L497.6,354.1 L498.9,354.3 L500.2,354.5 L501.5,354.5 L502.8,354.4 L504.1,354.2 L505.4,353.9 L506.7,353.5 L508.1,353.1 L509.4,352.7 L510.7,352.2 L512.0,351.7 L513.3,351.2 L514.6,350.7 L515.9,350.2 L517.2,349.7 L518.5,349.2 L519.8,348.7 L521.1,348.2 L522.4,347.8 L523.7,347.4 L525.1,347.1 L526.4,346.8 L527.7,346.6 L529.0,346.4 L530.3,346.3 L531.6,346.2 L532.9,346.1 L534.2,346.1 L535.5,346.0 L536.8,346.0 L538.1,346.0 L539.4,346.0 L540.7,346.1 L542.0,346.1 L543.4,346.1 L544.7,346.1 L546.0,346.1 L547.3,346.1 L548.6,346.1 L549.9,346.1 L551.2,346.0 L552.5,345.9 L553.8,345.8 L555.1,345.7 L556.4,345.5 L557.7,345.3 L559.0,345.0 L560.3,344.7 L561.7,344.3 L563.0,343.8 L564.3,343.3 L565.6,342.7 L566.9,342.1 L568.2,341.4 L569.5,340.7 L570.8,340.0 L572.1,339.3 L573.4,338.6 L574.7,337.9 L576.0,337.3 L577.3,336.6 L578.6,336.1 L580.0,335.5 L581.3,335.1 L582.6,334.7 L583.9,334.3 L585.2,333.9 L586.5,333.6 L587.8,333.3 L589.1,333.0 L590.4,332.7 L591.7,332.5 L593.0,332.2 L594.3,332.0 L595.6,331.9 L597.0,331.7 L598.3,331.5 L599.6,331.4 L600.9,331.2 L602.2,331.1 L603.5,331.1 L604.8,331.1 L606.1,331.1 L607.4,331.2 L608.7,331.3 L610.0,331.5 L611.3,331.7 L612.6,332.0 L613.9,332.3 L615.3,332.7 L616.6,333.1 L617.9,333.6 L619.2,334.1 L620.5,334.6 L621.8,335.3 L623.1,335.9 L624.4,336.7 L625.7,337.5 L627.0,338.4 L628.3,339.4 L629.6,340.5 L630.9,341.7 L632.2,343.0 L633.6,344.4 L634.9,345.8 L636.2,347.4 L637.5,349.0 L638.8,350.7 L640.1,352.5 L641.4,354.3 L642.7,356.2 L644.0,358.1 L645.3,360.1 L646.6,362.1 L647.9,364.1 L649.2,366.2 L650.5,368.3 L651.9,370.5 L653.2,372.6 L654.5,374.9 L655.8,377.1 L657.1,379.4 L658.4,381.8 L659.7,384.2 L661.0,386.7 L662.3,389.2 L663.6,391.8 L664.9,394.5 L666.2,397.3 L667.5,400.1 L668.8,403.0 L670.2,406.0 L671.5,409.0 L672.8,412.0 L674.1,415.1 L675.4,418.2 L676.7,421.3 L678.0,424.3 L679.3,427.4 L680.6,430.4 L681.9,433.3 L683.2,436.3 L684.5,439.1 L685.8,441.8 L687.2,444.6 L688.5,447.2 L689.8,449.9 L691.1,452.5 L692.4,455.0 L693.7,457.6 L695.0,460.0 L696.3,462.4 L697.6,464.8 L698.9,467.1 L700.2,469.4 L701.5,471.6 L702.8,473.8 L704.1,475.9 L705.5,477.9 L706.8,479.8 L708.1,481.6 L709.4,483.2 L710.7,484.7 L712.0,486.1 L713.3,487.4 L714.6,488.6 L715.9,489.7 L717.2,490.7 L718.5,491.6 L719.8,492.5 L721.1,493.3 L722.4,494.0 L723.8,494.7 L725.1,495.3 L726.4,495.8 L727.7,496.3 L729.0,496.7 L730.3,497.0 L731.6,497.2 L732.9,497.3 L734.2,497.4 L735.5,497.4"/>
<path d="M396.9,459.2 L398.1,444.4 L399.3,430.9 L400.4,419.1 L401.6,409.5 L402.8,402.4 L404.0,397.1 L405.1,392.5 L406.3,388.7 L407.5,385.8 L408.6,384.1 L409.8,383.7 L411.0,384.3 L412.1,384.8 L413.3,385.4 L414.5,386.0 L415.7,386.7 L416.8,387.4 L418.0,388.2 L419.2,389.1 L420.3,390.2 L421.5,391.3 L422.7,392.4 L423.8,393.6 L425.0,394.9 L426.2,396.1 L427.4,397.4 L428.5,398.7 L429.7,399.9 L430.9,401.2 L432.0,402.5 L433.2,403.7 L434.4,404.9 L435.5,406.0 L436.7,407.1 L437.9,408.1 L439.0,409.1 L440.2,410.0 L441.4,410.8 L442.6,411.6 L443.7,412.3 L444.9,413.0 L446.1,413.6 L447.2,414.1 L448.4,414.6 L449.6,414.9 L450.7,415.2 L451.9,415.4 L453.1,415.5 L454.3,415.4 L455.4,415.3 L456.6,415.1 L457.8,414.9 L458.9,414.7 L460.1,414.5 L461.3,414.3 L462.4,414.1 L463.6,413.9 L464.8,413.7 L465.9,413.5 L467.1,413.3 L468.3,413.0 L469.5,412.8 L470.6,412.6 L471.8,412.4 L473.0,412.1 L474.1,411.9 L475.3,411.7 L476.5,411.4 L477.6,411.2 L478.8,410.9 L480.0,410.7 L481.2,410.4 L482.3,410.2 L483.5,409.9 L484.7,409.6 L485.8,409.4 L487.0,409.1 L488.2,408.8 L489.3,408.5 L490.5,408.3 L491.7,408.0 L492.9,407.7 L494.0,407.4 L495.2,407.1 L496.4,406.8 L497.5,406.5 L498.7,406.2 L499.9,406.0 L501.0,405.7 L502.2,405.4 L503.4,405.1 L504.5,404.8 L505.7,404.5 L506.9,404.2 L508.1,403.9 L509.2,403.6 L510.4,403.4 L511.6,403.1 L512.7,402.8 L513.9,402.5 L515.1,402.3 L516.2,402.0 L517.4,401.7 L518.6,401.5 L519.8,401.2 L520.9,400.9 L522.1,400.7 L523.3,400.4 L524.4,400.2 L525.6,400.0 L526.8,399.7 L527.9,399.5 L529.1,399.3 L530.3,399.1 L531.5,399.0 L532.6,398.8 L533.8,398.6 L535.0,398.5 L536.1,398.3 L537.3,398.2 L538.5,398.0 L539.6,397.9 L540.8,397.8 L542.0,397.7 L543.1,397.6 L544.3,397.4 L545.5,397.3 L546.7,397.2 L547.8,397.1 L549.0,397.1 L550.2,397.0 L551.3,396.9 L552.5,396.8 L553.7,396.7 L554.8,396.6 L556.0,396.5 L557.2,396.5 L558.4,396.4 L559.5,396.3 L560.7,396.2 L561.9,396.1 L563.0,396.0 L564.2,396.0 L565.4,395.9 L566.5,395.9 L567.7,395.9 L568.9,395.9 L570.0,395.8 L571.2,395.8 L572.4,395.8 L573.6,395.9 L574.7,395.9 L575.9,395.9 L577.1,395.9 L578.2,396.0 L579.4,396.0 L580.6,396.0 L581.7,396.1 L582.9,396.1 L584.1,396.2 L585.3,396.2 L586.4,396.3 L587.6,396.4 L588.8,396.5 L589.9,396.7 L591.1,396.9 L592.3,397.1 L593.4,397.4 L594.6,397.7 L595.8,398.1 L597.0,398.4 L598.1,398.8 L599.3,399.3 L600.5,399.8 L601.6,400.3 L602.8,400.9 L604.0,401.5 L605.1,402.1 L606.3,402.8 L607.5,403.5 L608.6,404.3 L609.8,405.1 L611.0,406.0 L612.2,406.9 L613.3,407.9 L614.5,408.9 L615.7,410.0 L616.8,411.1 L618.0,412.2 L619.2,413.4 L620.3,414.7 L621.5,416.0 L622.7,417.3 L623.9,418.7 L625.0,420.1 L626.2,421.5 L627.4,423.0 L628.5,424.4 L629.7,425.9 L630.9,427.3 L632.0,428.8 L633.2,430.3 L634.4,431.8 L635.5,433.3 L636.7,434.8 L637.9,436.3 L639.1,437.8 L640.2,439.3 L641.4,440.8 L642.6,442.4 L643.7,443.9 L644.9,445.4 L646.1,447.0 L647.2,448.5 L648.4,450.1 L649.6,451.7 L650.8,453.3 L651.9,454.9 L653.1,456.6 L654.3,458.2 L655.4,459.8 L656.6,461.4 L657.8,463.0 L658.9,464.7 L660.1,466.3 L661.3,467.8 L662.5,469.4 L663.6,471.0 L664.8,472.5 L666.0,474.0 L667.1,475.5 L668.3,476.8 L669.5,478.2 L670.6,479.4 L671.8,480.6 L673.0,481.8 L674.1,482.9 L675.3,484.0 L676.5,485.0 L677.7,486.0 L678.8,487.0 L680.0,487.9 L681.2,488.8 L682.3,489.7 L683.5,490.6 L684.7,491.4 L685.8,492.2 L687.0,493.0 L688.2,493.7 L689.4,494.3 L690.5,494.8 L691.7,495.4 L692.9,495.8 L694.0,496.2 L695.2,496.5 L696.4,496.8 L697.5,497.1 L698.7,497.3 L699.9,497.4"/>
<path d="M396.9,440.1 L398.1,425.8 L399.3,412.7 L400.4,401.5 L401.6,392.8 L402.8,387.0 L404.0,383.4 L405.1,380.3 L406.3,377.8 L407.5,376.1 L408.6,375.2 L409.8,375.1 L411.0,375.7 L412.1,376.3 L413.3,376.8 L414.5,377.4 L415.7,378.0 L416.8,378.6 L418.0,379.2 L419.2,379.9 L420.3,380.6 L421.5,381.4 L422.7,382.1 L423.8,383.0 L425.0,383.9 L426.2,384.8 L427.4,385.8 L428.5,386.8 L429.7,387.9 L430.9,388.9 L432.0,390.0 L433.2,391.1 L434.4,392.2 L435.5,393.2 L436.7,394.3 L437.9,395.3 L439.0,396.3 L440.2,397.3 L441.4,398.2 L442.6,399.1 L443.7,399.9 L444.9,400.6 L446.1,401.3 L447.2,401.9 L448.4,402.4 L449.6,402.8 L450.7,403.2 L451.9,403.4 L453.1,403.6 L454.3,403.8 L455.4,403.9 L456.6,403.9 L457.8,403.9 L458.9,403.8 L460.1,403.7 L461.3,403.5 L462.4,403.3 L463.6,403.1 L464.8,402.8 L465.9,402.5 L467.1,402.1 L468.3,401.7 L469.5,401.4 L470.6,401.0 L471.8,400.6 L473.0,400.3 L474.1,399.9 L475.3,399.5 L476.5,399.1 L477.6,398.8 L478.8,398.4 L480.0,398.0 L481.2,397.6 L482.3,397.3 L483.5,396.9 L484.7,396.5 L485.8,396.1 L487.0,395.8 L488.2,395.4 L489.3,395.0 L490.5,394.6 L491.7,394.3 L492.9,393.9 L494.0,393.5 L495.2,393.1 L496.4,392.7 L497.5,392.3 L498.7,392.0 L499.9,391.6 L501.0,391.2 L502.2,390.8 L503.4,390.4 L504.5,390.0 L505.7,389.6 L506.9,389.2 L508.1,388.9 L509.2,388.5 L510.4,388.1 L511.6,387.7 L512.7,387.3 L513.9,386.9 L515.1,386.5 L516.2,386.1 L517.4,385.7 L518.6,385.3 L519.8,385.0 L520.9,384.6 L522.1,384.2 L523.3,383.8 L524.4,383.4 L525.6,383.0 L526.8,382.6 L527.9,382.2 L529.1,381.9 L530.3,381.5 L531.5,381.1 L532.6,380.7 L533.8,380.3 L535.0,379.9 L536.1,379.6 L537.3,379.2 L538.5,378.8 L539.6,378.5 L540.8,378.2 L542.0,377.9 L543.1,377.6 L544.3,377.3 L545.5,377.0 L546.7,376.7 L547.8,376.5 L549.0,376.2 L550.2,375.9 L551.3,375.7 L552.5,375.5 L553.7,375.2 L554.8,375.0 L556.0,374.8 L557.2,374.6 L558.4,374.4 L559.5,374.2 L560.7,374.0 L561.9,373.8 L563.0,373.6 L564.2,373.4 L565.4,373.3 L566.5,373.1 L567.7,373.0 L568.9,372.9 L570.0,372.9 L571.2,372.9 L572.4,372.9 L573.6,372.9 L574.7,373.0 L575.9,373.1 L577.1,373.2 L578.2,373.3 L579.4,373.4 L580.6,373.6 L581.7,373.8 L582.9,374.0 L584.1,374.2 L585.3,374.4 L586.4,374.6 L587.6,374.8 L588.8,375.0 L589.9,375.2 L591.1,375.4 L592.3,375.7 L593.4,376.0 L594.6,376.3 L595.8,376.7 L597.0,377.1 L598.1,377.6 L599.3,378.1 L600.5,378.6 L601.6,379.2 L602.8,379.8 L604.0,380.4 L605.1,381.1 L606.3,381.9 L607.5,382.7 L608.6,383.6 L609.8,384.5 L611.0,385.4 L612.2,386.5 L613.3,387.5 L614.5,388.7 L615.7,389.9 L616.8,391.2 L618.0,392.5 L619.2,393.9 L620.3,395.4 L621.5,396.9 L622.7,398.5 L623.9,400.2 L625.0,401.9 L626.2,403.7 L627.4,405.5 L628.5,407.5 L629.7,409.4 L630.9,411.5 L632.0,413.5 L633.2,415.6 L634.4,417.7 L635.5,419.8 L636.7,421.9 L637.9,424.0 L639.1,426.2 L640.2,428.3 L641.4,430.4 L642.6,432.6 L643.7,434.7 L644.9,436.8 L646.1,438.9 L647.2,441.0 L648.4,443.1 L649.6,445.2 L650.8,447.2 L651.9,449.2 L653.1,451.2 L654.3,453.3 L655.4,455.3 L656.6,457.3 L657.8,459.2 L658.9,461.2 L660.1,463.1 L661.3,465.1 L662.5,467.0 L663.6,468.9 L664.8,470.7 L666.0,472.6 L667.1,474.4 L668.3,476.1 L669.5,477.7 L670.6,479.2 L671.8,480.6 L673.0,481.9 L674.1,483.2 L675.3,484.3 L676.5,485.4 L677.7,486.4 L678.8,487.3 L680.0,488.2 L681.2,489.1 L682.3,489.9 L683.5,490.7 L684.7,491.4 L685.8,492.2 L687.0,492.9 L688.2,493.6 L689.4,494.2 L690.5,494.7 L691.7,495.2 L692.9,495.7 L694.0,496.1 L695.2,496.5 L696.4,496.8 L697.5,497.1 L698.7,497.3 L699.9,497.4"/>
<path d="M396.9,468.8 L398.1,455.8 L399.2,443.8 L400.4,432.6 L401.5,422.4 L402.7,413.1 L403.8,404.6 L405.0,396.8 L406.1,389.7 L407.3,383.3 L408.4,377.8 L409.6,373.0 L410.7,369.1 L411.8,365.4 L413.0,362.1 L414.1,359.3 L415.3,357.3 L416.4,356.1 L417.6,356.1 L418.7,356.7 L419.9,357.5 L421.0,358.2 L422.2,359.0 L423.3,359.8 L424.5,360.6 L425.6,361.4 L426.8,362.2 L427.9,363.0 L429.0,363.8 L430.2,364.5 L431.3,365.3 L432.5,366.1 L433.6,366.8 L434.8,367.5 L435.9,368.2 L437.1,368.8 L438.2,369.5 L439.4,370.2 L440.5,370.9 L441.7,371.6 L442.8,372.3 L444.0,373.0 L445.1,373.7 L446.2,374.4 L447.4,375.0 L448.5,375.7 L449.7,376.3 L450.8,376.9 L452.0,377.5 L453.1,378.1 L454.3,378.6 L455.4,379.2 L456.6,379.6 L457.7,379.9 L458.9,380.1 L460.0,380.2 L461.2,380.2 L462.3,380.1 L463.4,379.9 L464.6,379.7 L465.7,379.4 L466.9,379.0 L468.0,378.5 L469.2,378.1 L470.3,377.5 L471.5,377.0 L472.6,376.4 L473.8,375.8 L474.9,375.2 L476.1,374.6 L477.2,373.9 L478.4,373.3 L479.5,372.6 L480.7,371.9 L481.8,371.3 L482.9,370.6 L484.1,369.9 L485.2,369.2 L486.4,368.5 L487.5,367.9 L488.7,367.2 L489.8,366.5 L491.0,365.9 L492.1,365.2 L493.3,364.6 L494.4,363.9 L495.6,363.3 L496.7,362.7 L497.9,362.2 L499.0,361.6 L500.1,361.0 L501.3,360.5 L502.4,359.9 L503.6,359.3 L504.7,358.8 L505.9,358.2 L507.0,357.7 L508.2,357.2 L509.3,356.6 L510.5,356.1 L511.6,355.6 L512.8,355.1 L513.9,354.6 L515.1,354.1 L516.2,353.6 L517.3,353.2 L518.5,352.7 L519.6,352.3 L520.8,351.9 L521.9,351.5 L523.1,351.1 L524.2,350.7 L525.4,350.4 L526.5,350.1 L527.7,349.8 L528.8,349.6 L530.0,349.4 L531.1,349.2 L532.3,349.2 L533.4,349.1 L534.5,349.1 L535.7,349.1 L536.8,349.2 L538.0,349.3 L539.1,349.4 L540.3,349.6 L541.4,349.8 L542.6,350.1 L543.7,350.3 L544.9,350.6 L546.0,351.0 L547.2,351.3 L548.3,351.7 L549.5,352.1 L550.6,352.5 L551.7,352.9 L552.9,353.3 L554.0,353.7 L555.2,354.1 L556.3,354.6 L557.5,355.0 L558.6,355.4 L559.8,355.9 L560.9,356.3 L562.1,356.8 L563.2,357.3 L564.4,357.7 L565.5,358.2 L566.7,358.7 L567.8,359.2 L568.9,359.7 L570.1,360.2 L571.2,360.7 L572.4,361.2 L573.5,361.7 L574.7,362.2 L575.8,362.7 L577.0,363.3 L578.1,363.8 L579.3,364.4 L580.4,364.9 L581.6,365.5 L582.7,366.1 L583.9,366.6 L585.0,367.2 L586.1,367.8 L587.3,368.4 L588.4,369.0 L589.6,369.6 L590.7,370.2 L591.9,370.8 L593.0,371.4 L594.2,372.0 L595.3,372.6 L596.5,373.3 L597.6,373.9 L598.8,374.5 L599.9,375.1 L601.1,375.7 L602.2,376.3 L603.3,376.9 L604.5,377.5 L605.6,378.1 L606.8,378.7 L607.9,379.3 L609.1,380.0 L610.2,380.7 L611.4,381.4 L612.5,382.3 L613.7,383.2 L614.8,384.2 L616.0,385.3 L617.1,386.5 L618.3,387.9 L619.4,389.3 L620.6,390.9 L621.7,392.7 L622.8,394.6 L624.0,396.7 L625.1,398.7 L626.3,400.9 L627.4,403.1 L628.6,405.3 L629.7,407.5 L630.9,409.8 L632.0,412.1 L633.2,414.4 L634.3,416.7 L635.5,418.9 L636.6,421.2 L637.8,423.5 L638.9,425.7 L640.0,427.8 L641.2,430.0 L642.3,432.1 L643.5,434.3 L644.6,436.4 L645.8,438.6 L646.9,440.7 L648.1,442.9 L649.2,445.0 L650.4,447.1 L651.5,449.3 L652.7,451.4 L653.8,453.5 L655.0,455.6 L656.1,457.7 L657.2,459.8 L658.4,461.9 L659.5,464.0 L660.7,466.0 L661.8,468.0 L663.0,469.9 L664.1,471.7 L665.3,473.4 L666.4,475.0 L667.6,476.6 L668.7,478.1 L669.9,479.6 L671.0,481.0 L672.2,482.3 L673.3,483.6 L674.4,484.9 L675.6,486.1 L676.7,487.3 L677.9,488.4 L679.0,489.5 L680.2,490.5 L681.3,491.5 L682.5,492.3 L683.6,493.1 L684.8,493.8 L685.9,494.5 L687.1,495.1 L688.2,495.6 L689.4,496.1 L690.5,496.5 L691.6,496.8 L692.8,497.2 L693.9,497.4"/>
<path d="M396.9,440.1 L398.0,414.4 L399.1,390.7 L400.2,369.8 L401.3,352.5 L402.4,339.4 L403.5,330.7 L404.6,323.1 L405.7,316.2 L406.7,310.1 L407.8,304.8 L408.9,300.4 L410.0,297.0 L411.1,294.6 L412.2,293.3 L413.3,292.6 L414.4,292.0 L415.5,291.4 L416.5,290.8 L417.6,290.3 L418.7,289.8 L419.8,289.4 L420.9,289.2 L422.0,289.2 L423.1,289.3 L424.2,289.7 L425.3,290.3 L426.4,291.0 L427.4,291.6 L428.5,292.2 L429.6,292.9 L430.7,293.5 L431.8,294.2 L432.9,294.9 L434.0,295.6 L435.1,296.4 L436.2,297.3 L437.2,298.3 L438.3,299.3 L439.4,300.5 L440.5,301.7 L441.6,302.9 L442.7,304.2 L443.8,305.5 L444.9,306.7 L446.0,308.0 L447.1,309.3 L448.1,310.7 L449.2,312.0 L450.3,313.3 L451.4,314.7 L452.5,316.1 L453.6,317.4 L454.7,318.8 L455.8,320.2 L456.9,321.6 L457.9,323.0 L459.0,324.5 L460.1,325.9 L461.2,327.4 L462.3,328.9 L463.4,330.5 L464.5,332.2 L465.6,333.9 L466.7,335.6 L467.7,337.3 L468.8,339.0 L469.9,340.6 L471.0,342.3 L472.1,343.9 L473.2,345.5 L474.3,346.9 L475.4,348.3 L476.5,349.5 L477.6,350.6 L478.6,351.5 L479.7,352.1 L480.8,352.6 L481.9,352.8 L483.0,352.8 L484.1,352.6 L485.2,352.2 L486.3,351.6 L487.4,351.0 L488.4,350.3 L489.5,349.6 L490.6,348.9 L491.7,348.1 L492.8,347.4 L493.9,346.7 L495.0,346.0 L496.1,345.4 L497.2,344.8 L498.3,344.2 L499.3,343.6 L500.4,343.1 L501.5,342.5 L502.6,342.0 L503.7,341.4 L504.8,340.9 L505.9,340.3 L507.0,339.8 L508.1,339.3 L509.1,338.8 L510.2,338.3 L511.3,337.8 L512.4,337.4 L513.5,336.9 L514.6,336.5 L515.7,336.1 L516.8,335.8 L517.9,335.5 L519.0,335.3 L520.0,335.1 L521.1,335.0 L522.2,335.0 L523.3,335.0 L524.4,335.0 L525.5,335.1 L526.6,335.2 L527.7,335.4 L528.8,335.5 L529.8,335.8 L530.9,336.0 L532.0,336.3 L533.1,336.6 L534.2,336.9 L535.3,337.2 L536.4,337.6 L537.5,337.9 L538.6,338.3 L539.6,338.8 L540.7,339.2 L541.8,339.7 L542.9,340.2 L544.0,340.8 L545.1,341.3 L546.2,341.9 L547.3,342.6 L548.4,343.2 L549.5,343.9 L550.5,344.6 L551.6,345.4 L552.7,346.1 L553.8,346.9 L554.9,347.8 L556.0,348.6 L557.1,349.5 L558.2,350.4 L559.3,351.4 L560.3,352.4 L561.4,353.4 L562.5,354.4 L563.6,355.4 L564.7,356.5 L565.8,357.5 L566.9,358.6 L568.0,359.8 L569.1,360.9 L570.2,362.1 L571.2,363.4 L572.3,364.6 L573.4,366.0 L574.5,367.4 L575.6,368.8 L576.7,370.3 L577.8,371.9 L578.9,373.6 L580.0,375.3 L581.0,377.1 L582.1,378.9 L583.2,380.8 L584.3,382.6 L585.4,384.4 L586.5,386.3 L587.6,388.1 L588.7,389.9 L589.8,391.8 L590.9,393.6 L591.9,395.5 L593.0,397.3 L594.1,399.1 L595.2,401.0 L596.3,402.8 L597.4,404.6 L598.5,406.5 L599.6,408.3 L600.7,410.2 L601.7,412.0 L602.8,413.8 L603.9,415.7 L605.0,417.5 L606.1,419.4 L607.2,421.2 L608.3,423.0 L609.4,424.9 L610.5,426.7 L611.5,428.5 L612.6,430.4 L613.7,432.2 L614.8,434.1 L615.9,435.9 L617.0,437.7 L618.1,439.6 L619.2,441.4 L620.3,443.2 L621.4,445.1 L622.4,446.9 L623.5,448.8 L624.6,450.6 L625.7,452.4 L626.8,454.3 L627.9,456.1 L629.0,457.9 L630.1,459.7 L631.2,461.5 L632.2,463.1 L633.3,464.7 L634.4,466.3 L635.5,467.8 L636.6,469.2 L637.7,470.6 L638.8,472.0 L639.9,473.3 L641.0,474.5 L642.1,475.8 L643.1,477.0 L644.2,478.1 L645.3,479.2 L646.4,480.3 L647.5,481.4 L648.6,482.5 L649.7,483.5 L650.8,484.5 L651.9,485.5 L652.9,486.5 L654.0,487.4 L655.1,488.3 L656.2,489.1 L657.3,489.9 L658.4,490.7 L659.5,491.4 L660.6,492.1 L661.7,492.7 L662.7,493.3 L663.8,493.9 L664.9,494.4 L666.0,494.9 L667.1,495.3 L668.2,495.8 L669.3,496.1 L670.4,496.5 L671.5,496.8 L672.6,497.1 L673.6,497.3 L674.7,497.4 L675.8,497.4 L676.9,497.4 L678.0,497.4 L679.1,497.4"/>
<path d="M399.9,270.2 L401.0,270.5 L402.0,270.9 L403.1,271.2 L404.2,271.5 L405.2,271.9 L406.3,272.3 L407.4,272.6 L408.4,273.0 L409.5,273.4 L410.6,273.8 L411.6,274.2 L412.7,274.7 L413.8,275.1 L414.8,275.5 L415.9,276.0 L417.0,276.5 L418.0,276.9 L419.1,277.4 L420.2,277.9 L421.2,278.4 L422.3,278.9 L423.4,279.4 L424.4,279.9 L425.5,280.5 L426.6,281.0 L427.6,281.5 L428.7,282.1 L429.8,282.6 L430.8,283.2 L431.9,283.8 L433.0,284.3 L434.0,284.9 L435.1,285.5 L436.2,286.1 L437.2,286.8 L438.3,287.4 L439.4,288.0 L440.4,288.7 L441.5,289.3 L442.6,290.0 L443.6,290.7 L444.7,291.3 L445.8,292.0 L446.8,292.7 L447.9,293.5 L449.0,294.2 L450.0,294.9 L451.1,295.7 L452.2,296.5 L453.2,297.3 L454.3,298.1 L455.4,299.0 L456.4,299.8 L457.5,300.7 L458.6,301.5 L459.6,302.4 L460.7,303.2 L461.8,304.1 L462.8,304.9 L463.9,305.8 L465.0,306.6 L466.0,307.5 L467.1,308.3 L468.2,309.1 L469.2,309.9 L470.3,310.7 L471.4,311.5 L472.4,312.3 L473.5,313.0 L474.6,313.7 L475.6,314.5 L476.7,315.2 L477.8,315.9 L478.8,316.6 L479.9,317.3 L481.0,318.0 L482.0,318.7 L483.1,319.3 L484.2,320.0 L485.2,320.7 L486.3,321.3 L487.4,322.0 L488.4,322.6 L489.5,323.2 L490.6,323.8 L491.6,324.4 L492.7,325.0 L493.8,325.6 L494.8,326.2 L495.9,326.8 L497.0,327.3 L498.0,327.8 L499.1,328.3 L500.2,328.8 L501.2,329.2 L502.3,329.6 L503.4,330.0 L504.4,330.3 L505.5,330.7 L506.6,331.0 L507.6,331.2 L508.7,331.5 L509.8,331.8 L510.8,332.1 L511.9,332.3 L513.0,332.6 L514.0,332.9 L515.1,333.1 L516.2,333.4 L517.2,333.8 L518.3,334.1 L519.4,334.5 L520.4,334.8 L521.5,335.3 L522.6,335.7 L523.6,336.2 L524.7,336.7 L525.8,337.3 L526.8,337.9 L527.9,338.5 L529.0,339.1 L530.0,339.7 L531.1,340.3 L532.1,340.9 L533.2,341.5 L534.3,342.2 L535.3,342.8 L536.4,343.4 L537.5,344.1 L538.5,344.7 L539.6,345.4 L540.7,346.1 L541.7,346.8 L542.8,347.4 L543.9,348.1 L544.9,348.9 L546.0,349.6 L547.1,350.3 L548.1,351.0 L549.2,351.8 L550.3,352.5 L551.3,353.3 L552.4,354.0 L553.5,354.7 L554.5,355.5 L555.6,356.2 L556.7,357.0 L557.7,357.7 L558.8,358.5 L559.9,359.2 L560.9,359.9 L562.0,360.7 L563.1,361.4 L564.1,362.2 L565.2,362.9 L566.3,363.6 L567.3,364.4 L568.4,365.1 L569.5,365.9 L570.5,366.6 L571.6,367.3 L572.7,368.1 L573.7,368.8 L574.8,369.5 L575.9,370.3 L576.9,371.0 L578.0,371.7 L579.1,372.5 L580.1,373.2 L581.2,373.9 L582.3,374.7 L583.3,375.4 L584.4,376.1 L585.5,376.9 L586.5,377.6 L587.6,378.3 L588.7,379.1 L589.7,379.8 L590.8,380.6 L591.9,381.5 L592.9,382.5 L594.0,383.6 L595.1,384.8 L596.1,386.2 L597.2,387.5 L598.3,389.0 L599.3,390.6 L600.4,392.2 L601.5,393.8 L602.5,395.5 L603.6,397.3 L604.7,399.1 L605.7,400.9 L606.8,402.7 L607.9,404.5 L608.9,406.4 L610.0,408.2 L611.1,410.1 L612.1,411.9 L613.2,413.8 L614.3,415.8 L615.3,417.7 L616.4,419.7 L617.5,421.7 L618.5,423.7 L619.6,425.7 L620.7,427.7 L621.7,429.7 L622.8,431.7 L623.9,433.7 L624.9,435.7 L626.0,437.7 L627.1,439.7 L628.1,441.6 L629.2,443.6 L630.3,445.5 L631.3,447.3 L632.4,449.2 L633.5,451.0 L634.5,452.8 L635.6,454.7 L636.7,456.4 L637.7,458.2 L638.8,460.0 L639.9,461.7 L640.9,463.4 L642.0,465.1 L643.1,466.8 L644.1,468.4 L645.2,470.0 L646.3,471.6 L647.3,473.2 L648.4,474.8 L649.5,476.3 L650.5,477.7 L651.6,479.2 L652.7,480.6 L653.7,482.0 L654.8,483.2 L655.9,484.4 L656.9,485.6 L658.0,486.6 L659.1,487.6 L660.1,488.6 L661.2,489.5 L662.3,490.4 L663.3,491.2 L664.4,491.9 L665.5,492.6 L666.5,493.3 L667.6,494.0 L668.7,494.6 L669.7,495.2 L670.8,495.8 L671.9,496.3 L672.9,496.7 L674.0,497.1 L675.1,497.3 L676.1,497.4"/>
<path d="M396.9,421.0 L397.9,404.6 L398.8,389.3 L399.8,375.5 L400.7,363.4 L401.7,353.5 L402.7,346.1 L403.6,340.7 L404.6,336.0 L405.5,331.8 L406.5,328.2 L407.4,325.4 L408.4,323.3 L409.3,322.1 L410.3,321.8 L411.2,321.7 L412.2,321.7 L413.1,321.6 L414.1,321.5 L415.0,321.5 L416.0,321.4 L416.9,321.4 L417.9,321.3 L418.8,321.3 L419.8,321.2 L420.7,321.2 L421.7,321.2 L422.6,321.1 L423.6,321.1 L424.5,321.1 L425.5,321.1 L426.4,321.1 L427.4,321.1 L428.3,321.2 L429.3,321.2 L430.3,321.3 L431.2,321.3 L432.2,321.4 L433.1,321.5 L434.1,321.6 L435.0,321.8 L436.0,321.9 L436.9,322.1 L437.9,322.2 L438.8,322.4 L439.8,322.5 L440.7,322.7 L441.7,322.8 L442.6,323.0 L443.6,323.1 L444.5,323.3 L445.5,323.4 L446.4,323.6 L447.4,323.7 L448.3,323.9 L449.3,324.0 L450.2,324.2 L451.2,324.3 L452.1,324.5 L453.1,324.6 L454.0,324.7 L455.0,324.9 L456.0,325.0 L456.9,325.2 L457.9,325.3 L458.8,325.4 L459.8,325.6 L460.7,325.7 L461.7,325.8 L462.6,326.0 L463.6,326.1 L464.5,326.2 L465.5,326.3 L466.4,326.4 L467.4,326.6 L468.3,326.7 L469.3,326.8 L470.2,326.9 L471.2,327.0 L472.1,327.1 L473.1,327.2 L474.0,327.4 L475.0,327.5 L475.9,327.6 L476.9,327.7 L477.8,327.8 L478.8,327.9 L479.7,328.1 L480.7,328.2 L481.6,328.3 L482.6,328.4 L483.6,328.5 L484.5,328.6 L485.5,328.8 L486.4,328.9 L487.4,329.0 L488.3,329.1 L489.3,329.3 L490.2,329.4 L491.2,329.6 L492.1,329.7 L493.1,329.9 L494.0,330.0 L495.0,330.2 L495.9,330.4 L496.9,330.6 L497.8,330.8 L498.8,331.0 L499.7,331.2 L500.7,331.5 L501.6,331.7 L502.6,331.9 L503.5,332.1 L504.5,332.4 L505.4,332.6 L506.4,332.9 L507.3,333.1 L508.3,333.4 L509.2,333.6 L510.2,333.9 L511.2,334.1 L512.1,334.4 L513.1,334.6 L514.0,334.8 L515.0,335.1 L515.9,335.3 L516.9,335.6 L517.8,335.8 L518.8,336.1 L519.7,336.4 L520.7,336.7 L521.6,337.0 L522.6,337.3 L523.5,337.6 L524.5,338.0 L525.4,338.3 L526.4,338.7 L527.3,339.0 L528.3,339.4 L529.2,339.8 L530.2,340.2 L531.1,340.6 L532.1,341.0 L533.0,341.5 L534.0,341.9 L534.9,342.4 L535.9,342.8 L536.9,343.3 L537.8,343.8 L538.8,344.3 L539.7,344.8 L540.7,345.3 L541.6,345.9 L542.6,346.6 L543.5,347.3 L544.5,348.1 L545.4,348.9 L546.4,349.7 L547.3,350.6 L548.3,351.5 L549.2,352.5 L550.2,353.5 L551.1,354.6 L552.1,355.7 L553.0,356.8 L554.0,358.0 L554.9,359.3 L555.9,360.5 L556.8,361.8 L557.8,363.1 L558.7,364.5 L559.7,365.9 L560.6,367.3 L561.6,368.8 L562.5,370.3 L563.5,371.8 L564.5,373.3 L565.4,374.9 L566.4,376.4 L567.3,378.0 L568.3,379.6 L569.2,381.2 L570.2,382.8 L571.1,384.5 L572.1,386.1 L573.0,387.8 L574.0,389.4 L574.9,391.1 L575.9,392.8 L576.8,394.5 L577.8,396.2 L578.7,398.0 L579.7,399.7 L580.6,401.4 L581.6,403.2 L582.5,405.0 L583.5,406.7 L584.4,408.5 L585.4,410.3 L586.3,412.1 L587.3,413.9 L588.2,415.8 L589.2,417.6 L590.2,419.5 L591.1,421.4 L592.1,423.4 L593.0,425.3 L594.0,427.3 L594.9,429.3 L595.9,431.2 L596.8,433.2 L597.8,435.2 L598.7,437.2 L599.7,439.2 L600.6,441.1 L601.6,443.1 L602.5,445.0 L603.5,447.0 L604.4,448.9 L605.4,450.7 L606.3,452.6 L607.3,454.4 L608.2,456.2 L609.2,457.9 L610.1,459.6 L611.1,461.3 L612.0,462.9 L613.0,464.5 L613.9,466.0 L614.9,467.5 L615.8,469.0 L616.8,470.5 L617.8,471.9 L618.7,473.2 L619.7,474.6 L620.6,475.9 L621.6,477.2 L622.5,478.4 L623.5,479.7 L624.4,480.9 L625.4,482.1 L626.3,483.2 L627.3,484.4 L628.2,485.5 L629.2,486.6 L630.1,487.7 L631.1,488.6 L632.0,489.6 L633.0,490.5 L633.9,491.3 L634.9,492.1 L635.8,492.9 L636.8,493.6 L637.7,494.3 L638.7,494.9 L639.6,495.5 L640.6,496.0 L641.5,496.5 L642.5,497.0 L643.5,497.4"/>
<path d="M396.9,497.4 L398.1,491.8 L399.2,485.6 L400.3,478.9 L401.4,471.8 L402.5,464.4 L403.6,456.6 L404.7,448.5 L405.8,440.2 L407.0,430.9 L408.1,420.1 L409.2,408.3 L410.3,396.1 L411.4,384.1 L412.5,372.7 L413.6,362.7 L414.7,354.4 L415.8,347.6 L417.0,341.4 L418.1,336.0 L419.2,331.1 L420.3,326.8 L421.4,322.9 L422.5,319.6 L423.6,316.6 L424.7,314.0 L425.9,311.7 L427.0,309.7 L428.1,307.8 L429.2,305.8 L430.3,303.9 L431.4,302.2 L432.5,300.6 L433.6,299.4 L434.8,298.5 L435.9,298.0 L437.0,298.0 L438.1,298.5 L439.2,299.6 L440.3,301.0 L441.4,302.6 L442.5,304.3 L443.7,306.2 L444.8,308.1 L445.9,310.0 L447.0,311.7 L448.1,313.4 L449.2,314.8 L450.3,316.0 L451.4,317.0 L452.6,318.0 L453.7,319.0 L454.8,320.1 L455.9,321.1 L457.0,322.2 L458.1,323.2 L459.2,324.1 L460.3,325.0 L461.5,325.9 L462.6,326.7 L463.7,327.4 L464.8,328.1 L465.9,328.6 L467.0,329.1 L468.1,329.4 L469.2,329.6 L470.4,329.9 L471.5,330.1 L472.6,330.3 L473.7,330.5 L474.8,330.6 L475.9,330.8 L477.0,330.9 L478.1,331.1 L479.3,331.2 L480.4,331.4 L481.5,331.5 L482.6,331.7 L483.7,331.8 L484.8,332.0 L485.9,332.1 L487.0,332.3 L488.1,332.5 L489.3,332.7 L490.4,332.9 L491.5,333.1 L492.6,333.4 L493.7,333.6 L494.8,333.8 L495.9,334.1 L497.0,334.3 L498.2,334.6 L499.3,334.8 L500.4,335.0 L501.5,335.3 L502.6,335.5 L503.7,335.7 L504.8,336.0 L505.9,336.2 L507.1,336.5 L508.2,336.8 L509.3,337.0 L510.4,337.3 L511.5,337.6 L512.6,337.9 L513.7,338.2 L514.8,338.5 L516.0,338.9 L517.1,339.2 L518.2,339.6 L519.3,340.0 L520.4,340.4 L521.5,340.8 L522.6,341.2 L523.7,341.7 L524.9,342.2 L526.0,342.7 L527.1,343.2 L528.2,343.8 L529.3,344.4 L530.4,345.0 L531.5,345.6 L532.6,346.2 L533.8,346.8 L534.9,347.5 L536.0,348.2 L537.1,348.8 L538.2,349.5 L539.3,350.2 L540.4,350.9 L541.5,351.6 L542.7,352.4 L543.8,353.1 L544.9,353.8 L546.0,354.5 L547.1,355.3 L548.2,356.0 L549.3,356.7 L550.4,357.4 L551.6,358.2 L552.7,358.9 L553.8,359.6 L554.9,360.3 L556.0,361.1 L557.1,361.8 L558.2,362.6 L559.3,363.3 L560.5,364.1 L561.6,364.9 L562.7,365.7 L563.8,366.5 L564.9,367.3 L566.0,368.1 L567.1,368.9 L568.2,369.7 L569.3,370.6 L570.5,371.5 L571.6,372.3 L572.7,373.2 L573.8,374.1 L574.9,375.0 L576.0,376.0 L577.1,376.9 L578.2,377.9 L579.4,378.9 L580.5,380.0 L581.6,381.0 L582.7,382.1 L583.8,383.3 L584.9,384.4 L586.0,385.6 L587.1,386.9 L588.3,388.1 L589.4,389.4 L590.5,390.7 L591.6,392.1 L592.7,393.5 L593.8,394.9 L594.9,396.4 L596.0,397.9 L597.2,399.5 L598.3,401.0 L599.4,402.7 L600.5,404.3 L601.6,405.9 L602.7,407.6 L603.8,409.3 L604.9,411.0 L606.1,412.7 L607.2,414.4 L608.3,416.1 L609.4,417.8 L610.5,419.6 L611.6,421.3 L612.7,423.0 L613.8,424.7 L615.0,426.5 L616.1,428.2 L617.2,429.9 L618.3,431.6 L619.4,433.3 L620.5,435.0 L621.6,436.7 L622.7,438.3 L623.9,440.0 L625.0,441.7 L626.1,443.3 L627.2,445.0 L628.3,446.6 L629.4,448.2 L630.5,449.9 L631.6,451.5 L632.8,453.1 L633.9,454.7 L635.0,456.4 L636.1,458.0 L637.2,459.6 L638.3,461.2 L639.4,462.8 L640.5,464.3 L641.6,465.9 L642.8,467.5 L643.9,469.0 L645.0,470.6 L646.1,472.1 L647.2,473.7 L648.3,475.1 L649.4,476.5 L650.5,477.8 L651.7,479.0 L652.8,480.2 L653.9,481.3 L655.0,482.4 L656.1,483.4 L657.2,484.4 L658.3,485.4 L659.4,486.2 L660.6,487.1 L661.7,487.9 L662.8,488.7 L663.9,489.5 L665.0,490.2 L666.1,491.0 L667.2,491.7 L668.3,492.4 L669.5,493.0 L670.6,493.6 L671.7,494.2 L672.8,494.7 L673.9,495.1 L675.0,495.5 L676.1,495.9 L677.2,496.2 L678.4,496.5 L679.5,496.8 L680.6,497.0 L681.7,497.1 L682.8,497.3 L683.9,497.4 L685.0,497.4"/>
<path d="M699.9,497.4 L700.4,497.2 L701.0,497.1 L701.5,496.9 L702.1,496.8 L702.6,496.6 L703.2,496.4 L703.7,496.3 L704.3,496.1 L704.8,496.0 L705.4,495.8 L705.9,495.7 L706.5,495.5 L707.0,495.4 L707.6,495.2 L708.1,495.1 L708.7,495.0 L709.2,494.8 L709.8,494.7 L710.3,494.6 L710.9,494.4 L711.4,494.3 L712.0,494.2 L712.5,494.0 L713.1,493.9 L713.6,493.8 L714.2,493.6 L714.7,493.5 L715.3,493.4 L715.8,493.3 L716.4,493.2 L716.9,493.0 L717.5,492.9 L718.0,492.8 L718.6,492.7 L719.1,492.6 L719.7,492.5 L720.2,492.3 L720.8,492.2 L721.3,492.1 L721.9,492.0 L722.4,491.9 L723.0,491.8 L723.5,491.7 L724.1,491.6 L724.6,491.5 L725.2,491.4 L725.7,491.3 L726.3,491.2 L726.9,491.1 L727.4,491.0 L728.0,490.9 L728.5,490.8 L729.1,490.7 L729.6,490.6 L730.2,490.5 L730.7,490.4 L731.3,490.3 L731.8,490.2 L732.4,490.2 L732.9,490.1 L733.5,490.0 L734.0,489.9 L734.6,489.8 L735.1,489.8 L735.7,489.7 L736.2,489.6 L736.8,489.6 L737.3,489.5 L737.9,489.4 L738.4,489.4 L739.0,489.3 L739.5,489.3 L740.1,489.2 L740.6,489.2 L741.2,489.1 L741.7,489.1 L742.3,489.0 L742.8,489.0 L743.4,489.0 L743.9,488.9 L744.5,488.9 L745.0,488.9 L745.6,488.9 L746.1,488.8 L746.7,488.8 L747.2,488.8 L747.8,488.8 L748.3,488.8 L748.9,488.8 L749.4,488.8 L750.0,488.8 L750.5,488.8 L751.1,488.8 L751.6,488.8 L752.2,488.8 L752.7,488.8 L753.3,488.8 L753.8,488.8 L754.4,488.8 L754.9,488.8 L755.5,488.8 L756.0,488.8 L756.6,488.8 L757.1,488.9 L757.7,488.9 L758.2,488.9 L758.8,488.9 L759.3,488.9 L759.9,488.9 L760.4,489.0 L761.0,489.0 L761.5,489.0 L762.1,489.0 L762.6,489.0 L763.2,489.1 L763.7,489.1 L764.3,489.1 L764.8,489.2 L765.4,489.2 L765.9,489.2 L766.5,489.3 L767.0,489.3 L767.6,489.3 L768.1,489.4 L768.7,489.4 L769.2,489.4 L769.8,489.5 L770.3,489.5 L770.9,489.6 L771.4,489.6 L772.0,489.6 L772.5,489.7 L773.1,489.7 L773.6,489.8 L774.2,489.8 L774.7,489.9 L775.3,489.9 L775.8,490.0 L776.4,490.0 L776.9,490.1 L777.5,490.1 L778.0,490.2 L778.6,490.2 L779.1,490.3 L779.7,490.4 L780.2,490.4 L780.8,490.5 L781.3,490.5 L781.9,490.6 L782.4,490.7 L783.0,490.7 L783.5,490.8 L784.1,490.8 L784.6,490.9 L785.2,491.0 L785.7,491.0 L786.3,491.1 L786.8,491.2 L787.4,491.3 L787.9,491.3 L788.5,491.4 L789.0,491.5 L789.6,491.5 L790.1,491.6 L790.7,491.7 L791.3,491.8 L791.8,491.8 L792.4,491.9 L792.9,492.0 L793.5,492.1 L794.0,492.2 L794.6,492.2 L795.1,492.3 L795.7,492.4 L796.2,492.5 L796.8,492.6 L797.3,492.6 L797.9,492.7 L798.4,492.8 L799.0,492.9 L799.5,493.0 L800.1,493.0 L800.6,493.1 L801.2,493.2 L801.7,493.3 L802.3,493.4 L802.8,493.4 L803.4,493.5 L803.9,493.6 L804.5,493.7 L805.0,493.8 L805.6,493.8 L806.1,493.9 L806.7,494.0 L807.2,494.1 L807.8,494.2 L808.3,494.2 L808.9,494.3 L809.4,494.4 L810.0,494.5 L810.5,494.5 L811.1,494.6 L811.6,494.7 L812.2,494.7 L812.7,494.8 L813.3,494.9 L813.8,494.9 L814.4,495.0 L814.9,495.1 L815.5,495.1 L816.0,495.2 L816.6,495.3 L817.1,495.3 L817.7,495.4 L818.2,495.4 L818.8,495.5 L819.3,495.6 L819.9,495.6 L820.4,495.7 L821.0,495.7 L821.5,495.8 L822.1,495.8 L822.6,495.9 L823.2,495.9 L823.7,496.0 L824.3,496.0 L824.8,496.1 L825.4,496.1 L825.9,496.2 L826.5,496.2 L827.0,496.3 L827.6,496.3 L828.1,496.4 L828.7,496.4 L829.2,496.5 L829.8,496.5 L830.3,496.6 L830.9,496.6 L831.4,496.7 L832.0,496.7 L832.5,496.7 L833.1,496.8 L833.6,496.8 L834.2,496.9 L834.7,496.9 L835.3,497.0 L835.8,497.0 L836.4,497.0 L836.9,497.1 L837.5,497.1 L838.0,497.1 L838.6,497.2 L839.1,497.2 L839.7,497.2 L840.2,497.3 L840.8,497.3 L841.3,497.3 L841.9,497.4 L842.4,497.4"/>
<path d="M854.3,497.4 L854.8,497.4 L855.2,497.3 L855.7,497.3 L856.2,497.2 L856.6,497.2 L857.1,497.2 L857.5,497.1 L858.0,497.1 L858.4,497.1 L858.9,497.0 L859.4,497.0 L859.8,496.9 L860.3,496.9 L860.7,496.9 L861.2,496.8 L861.7,496.8 L862.1,496.7 L862.6,496.7 L863.0,496.7 L863.5,496.6 L864.0,496.6 L864.4,496.6 L864.9,496.5 L865.3,496.5 L865.8,496.4 L866.2,496.4 L866.7,496.4 L867.2,496.3 L867.6,496.3 L868.1,496.3 L868.5,496.2 L869.0,496.2 L869.5,496.2 L869.9,496.1 L870.4,496.1 L870.8,496.0 L871.3,496.0 L871.8,496.0 L872.2,495.9 L872.7,495.9 L873.1,495.9 L873.6,495.8 L874.0,495.8 L874.5,495.8 L875.0,495.7 L875.4,495.7 L875.9,495.6 L876.3,495.6 L876.8,495.6 L877.3,495.5 L877.7,495.5 L878.2,495.5 L878.6,495.4 L879.1,495.4 L879.5,495.4 L880.0,495.3 L880.5,495.3 L880.9,495.3 L881.4,495.2 L881.8,495.2 L882.3,495.1 L882.8,495.1 L883.2,495.1 L883.7,495.0 L884.1,495.0 L884.6,495.0 L885.1,494.9 L885.5,494.9 L886.0,494.9 L886.4,494.8 L886.9,494.8 L887.3,494.7 L887.8,494.7 L888.3,494.7 L888.7,494.6 L889.2,494.6 L889.6,494.6 L890.1,494.5 L890.6,494.5 L891.0,494.4 L891.5,494.4 L891.9,494.4 L892.4,494.3 L892.8,494.3 L893.3,494.2 L893.8,494.2 L894.2,494.2 L894.7,494.1 L895.1,494.1 L895.6,494.0 L896.1,494.0 L896.5,493.9 L897.0,493.9 L897.4,493.8 L897.9,493.8 L898.4,493.7 L898.8,493.7 L899.3,493.7 L899.7,493.6 L900.2,493.6 L900.6,493.5 L901.1,493.5 L901.6,493.4 L902.0,493.4 L902.5,493.3 L902.9,493.3 L903.4,493.2 L903.9,493.2 L904.3,493.1 L904.8,493.1 L905.2,493.0 L905.7,493.0 L906.2,492.9 L906.6,492.9 L907.1,492.9 L907.5,492.8 L908.0,492.8 L908.4,492.7 L908.9,492.7 L909.4,492.6 L909.8,492.6 L910.3,492.6 L910.7,492.5 L911.2,492.5 L911.7,492.5 L912.1,492.4 L912.6,492.4 L913.0,492.4 L913.5,492.3 L913.9,492.3 L914.4,492.3 L914.9,492.2 L915.3,492.2 L915.8,492.2 L916.2,492.2 L916.7,492.1 L917.2,492.1 L917.6,492.1 L918.1,492.1 L918.5,492.1 L919.0,492.1 L919.5,492.0 L919.9,492.0 L920.4,492.0 L920.8,492.0 L921.3,492.0 L921.7,492.0 L922.2,492.0 L922.7,492.0 L923.1,492.0 L923.6,492.0 L924.0,492.0 L924.5,492.0 L925.0,492.0 L925.4,492.0 L925.9,492.1 L926.3,492.1 L926.8,492.1 L927.3,492.1 L927.7,492.2 L928.2,492.2 L928.6,492.2 L929.1,492.2 L929.5,492.3 L930.0,492.3 L930.5,492.3 L930.9,492.4 L931.4,492.4 L931.8,492.5 L932.3,492.5 L932.8,492.6 L933.2,492.6 L933.7,492.6 L934.1,492.7 L934.6,492.8 L935.0,492.8 L935.5,492.9 L936.0,492.9 L936.4,493.0 L936.9,493.0 L937.3,493.1 L937.8,493.1 L938.3,493.2 L938.7,493.3 L939.2,493.3 L939.6,493.4 L940.1,493.4 L940.6,493.5 L941.0,493.6 L941.5,493.6 L941.9,493.7 L942.4,493.8 L942.8,493.8 L943.3,493.9 L943.8,494.0 L944.2,494.0 L944.7,494.1 L945.1,494.2 L945.6,494.2 L946.1,494.3 L946.5,494.4 L947.0,494.4 L947.4,494.5 L947.9,494.6 L948.4,494.6 L948.8,494.7 L949.3,494.7 L949.7,494.8 L950.2,494.9 L950.6,494.9 L951.1,495.0 L951.6,495.0 L952.0,495.1 L952.5,495.2 L952.9,495.2 L953.4,495.3 L953.9,495.3 L954.3,495.4 L954.8,495.4 L955.2,495.5 L955.7,495.5 L956.1,495.6 L956.6,495.6 L957.1,495.7 L957.5,495.7 L958.0,495.8 L958.4,495.8 L958.9,495.9 L959.4,495.9 L959.8,496.0 L960.3,496.0 L960.7,496.1 L961.2,496.1 L961.7,496.2 L962.1,496.2 L962.6,496.3 L963.0,496.3 L963.5,496.4 L963.9,496.4 L964.4,496.5 L964.9,496.5 L965.3,496.6 L965.8,496.6 L966.2,496.7 L966.7,496.7 L967.2,496.8 L967.6,496.8 L968.1,496.9 L968.5,496.9 L969.0,497.0 L969.5,497.0 L969.9,497.1 L970.4,497.1 L970.8,497.2 L971.3,497.2 L971.7,497.3 L972.2,497.3 L972.7,497.4 L973.1,497.4"/>
</g>
<path d="M398.7,377.1 L400.4,355.9 L402.1,337.0 L403.8,321.9 L405.5,310.4 L407.2,300.6 L408.9,292.2 L410.6,285.1 L412.2,278.9 L413.9,273.2 L415.6,268.3 L417.3,264.3 L419.0,261.6 L420.7,259.2 L422.4,257.0 L424.1,255.3 L425.8,254.1 L427.5,253.8 L429.1,254.0 L430.8,254.4 L432.5,254.9 L434.2,255.6 L435.9,256.4 L437.6,257.6 L439.3,259.1 L441.0,260.8 L442.7,262.6 L444.4,264.5 L446.0,266.8 L447.7,269.2 L449.4,271.7 L451.1,274.1 L452.8,276.7 L454.5,279.3 L456.2,282.0 L457.9,284.5 L459.6,287.0 L461.3,289.2 L463.0,291.4 L464.6,293.6 L466.3,295.6 L468.0,297.5 L469.7,299.2 L471.4,300.7 L473.1,302.2 L474.8,303.5 L476.5,304.8 L478.2,306.1 L479.9,307.3 L481.5,308.5 L483.2,309.6 L484.9,310.8 L486.6,311.8 L488.3,312.8 L490.0,313.7 L491.7,314.6 L493.4,315.3 L495.1,316.0 L496.8,316.7 L498.4,317.3 L500.1,317.9 L501.8,318.5 L503.5,319.0 L505.2,319.4 L506.9,319.9 L508.6,320.3 L510.3,320.7 L512.0,321.1 L513.7,321.5 L515.4,321.8 L517.0,322.1 L518.7,322.4 L520.4,322.7 L522.1,323.0 L523.8,323.3 L525.5,323.7 L527.2,324.2 L528.9,324.8 L530.6,325.5 L532.3,326.2 L533.9,326.9 L535.6,327.6 L537.3,328.4 L539.0,329.3 L540.7,330.1 L542.4,331.1 L544.1,332.0 L545.8,333.0 L547.5,334.0 L549.2,335.0 L550.8,336.1 L552.5,337.3 L554.2,338.4 L555.9,339.7 L557.6,341.0 L559.3,342.4 L561.0,343.9 L562.7,345.4 L564.4,346.9 L566.1,348.5 L567.7,350.0 L569.4,351.6 L571.1,353.2 L572.8,354.8 L574.5,356.4 L576.2,358.1 L577.9,359.8 L579.6,361.5 L581.3,363.3 L583.0,365.1 L584.7,366.9 L586.3,368.8 L588.0,370.8 L589.7,372.8 L591.4,374.8 L593.1,376.9 L594.8,379.0 L596.5,381.2 L598.2,383.4 L599.9,385.7 L601.6,387.9 L603.2,390.2 L604.9,392.5 L606.6,394.9 L608.3,397.4 L610.0,399.9 L611.7,402.4 L613.4,405.0 L615.1,407.6 L616.8,410.2 L618.5,412.9 L620.1,415.5 L621.8,418.1 L623.5,420.7 L625.2,423.2 L626.9,425.7 L628.6,428.3 L630.3,430.8 L632.0,433.3 L633.7,435.8 L635.4,438.3 L637.0,440.8 L638.7,443.2 L640.4,445.7 L642.1,448.1 L643.8,450.5 L645.5,452.9 L647.2,455.3 L648.9,457.7 L650.6,460.2 L652.3,462.6 L654.0,464.9 L655.6,467.2 L657.3,469.4 L659.0,471.4 L660.7,473.3 L662.4,475.1 L664.1,476.9 L665.8,478.7 L667.5,480.4 L669.2,482.0 L670.9,483.4 L672.5,484.8 L674.2,485.9 L675.9,486.9 L677.6,487.8 L679.3,488.8 L681.0,489.6 L682.7,490.4 L684.4,491.2 L686.1,491.9 L687.8,492.5 L689.4,493.0 L691.1,493.4 L692.8,493.8 L694.5,494.1 L696.2,494.4 L697.9,494.6 L699.6,494.9 L701.3,495.1 L703.0,495.3 L704.7,495.5 L706.3,495.7 L708.0,495.8 L709.7,496.0 L711.4,496.1 L713.1,496.2 L714.8,496.3 L716.5,496.3 L718.2,496.4 L719.9,496.4 L721.6,496.5 L723.3,496.6 L724.9,496.6 L726.6,496.7 L728.3,496.7 L730.0,496.7 L731.7,496.8 L733.4,496.8 L735.1,496.9 L736.8,496.9 L738.5,496.9 L740.2,496.9 L741.8,497.0 L743.5,497.0 L745.2,497.0 L746.9,497.0 L748.6,497.0 L750.3,497.0 L752.0,497.1 L753.7,497.1 L755.4,497.1 L757.1,497.1 L758.7,497.1 L760.4,497.1 L762.1,497.1 L763.8,497.1 L765.5,497.2 L767.2,497.2 L768.9,497.2 L770.6,497.2 L772.3,497.2 L774.0,497.2 L775.7,497.2 L777.3,497.2 L779.0,497.2 L780.7,497.2 L782.4,497.3 L784.1,497.3 L785.8,497.3 L787.5,497.3 L789.2,497.3 L790.9,497.3 L792.6,497.3 L794.2,497.3 L795.9,497.3 L797.6,497.3 L799.3,497.3 L801.0,497.3 L802.7,497.3 L804.4,497.3 L806.1,497.4 L807.8,497.4 L809.5,497.4 L811.1,497.4 L812.8,497.4 L814.5,497.4 L816.2,497.4 L817.9,497.4 L819.6,497.4 L821.3,497.4 L823.0,497.4 L824.7,497.4 L826.4,497.4 L828.0,497.4 L829.7,497.4 L831.4,497.4 L833.1,497.4 L834.8,497.4 L836.5,497.4" fill="none" stroke="#161616" stroke-width="2.7" stroke-linecap="round" stroke-linejoin="round"/>
<path d="M392.2,19.1 V497.4 H986.0" fill="none" stroke="#363636" stroke-width="2.1"/>
<path d="M392.2,449.7 h5" stroke="#363636" stroke-width="1.8"/>
<path d="M392.2,401.9 h9" stroke="#363636" stroke-width="1.8"/>
<path d="M392.2,354.2 h5" stroke="#363636" stroke-width="1.8"/>
<path d="M392.2,306.5 h9" stroke="#363636" stroke-width="1.8"/>
<path d="M392.2,258.8 h5" stroke="#363636" stroke-width="1.8"/>
<path d="M392.2,211.0 h9" stroke="#363636" stroke-width="1.8"/>
<path d="M392.2,163.3 h5" stroke="#363636" stroke-width="1.8"/>
<path d="M392.2,115.6 h9" stroke="#363636" stroke-width="1.8"/>
<path d="M392.2,67.9 h5" stroke="#363636" stroke-width="1.8"/>
<path d="M392.2,20.1 h9" stroke="#363636" stroke-width="1.8"/>
<path d="M450.4,497.4 v-5" stroke="#363636" stroke-width="1.8"/>
<path d="M509.8,497.4 v-9" stroke="#363636" stroke-width="1.8"/>
<path d="M569.2,497.4 v-5" stroke="#363636" stroke-width="1.8"/>
<path d="M628.6,497.4 v-9" stroke="#363636" stroke-width="1.8"/>
<path d="M688.0,497.4 v-5" stroke="#363636" stroke-width="1.8"/>
<path d="M747.4,497.4 v-9" stroke="#363636" stroke-width="1.8"/>
<path d="M806.8,497.4 v-5" stroke="#363636" stroke-width="1.8"/>
<path d="M866.2,497.4 v-9" stroke="#363636" stroke-width="1.8"/>
<path d="M925.6,497.4 v-5" stroke="#363636" stroke-width="1.8"/>
<path d="M985.0,497.4 v-9" stroke="#363636" stroke-width="1.8"/>
<text x="381.2" y="504.8" text-anchor="end" font-family="'Liberation Serif','Noto Serif CJK SC',serif" font-size="20.5" fill="#444">0</text>
<text x="381.2" y="409.3" text-anchor="end" font-family="'Liberation Serif','Noto Serif CJK SC',serif" font-size="20.5" fill="#444">5</text>
<text x="381.2" y="313.9" text-anchor="end" font-family="'Liberation Serif','Noto Serif CJK SC',serif" font-size="20.5" fill="#444">10</text>
<text x="381.2" y="218.4" text-anchor="end" font-family="'Liberation Serif','Noto Serif CJK SC',serif" font-size="20.5" fill="#444">15</text>
<text x="381.2" y="123.0" text-anchor="end" font-family="'Liberation Serif','Noto Serif CJK SC',serif" font-size="20.5" fill="#444">20</text>
<text x="381.2" y="27.5" text-anchor="end" font-family="'Liberation Serif','Noto Serif CJK SC',serif" font-size="20.5" fill="#444">25</text>
<text x="391.5" y="525.9" text-anchor="middle" font-family="'Liberation Serif','Noto Serif CJK SC',serif" font-size="20.5" fill="#444">0</text>
<text x="510.3" y="525.9" text-anchor="middle" font-family="'Liberation Serif','Noto Serif CJK SC',serif" font-size="20.5" fill="#444">20</text>
<text x="629.1" y="525.9" text-anchor="middle" font-family="'Liberation Serif','Noto Serif CJK SC',serif" font-size="20.5" fill="#444">40</text>
<text x="747.9" y="525.9" text-anchor="middle" font-family="'Liberation Serif','Noto Serif CJK SC',serif" font-size="20.5" fill="#444">60</text>
<text x="866.7" y="525.9" text-anchor="middle" font-family="'Liberation Serif','Noto Serif CJK SC',serif" font-size="20.5" fill="#444">80</text>
<text x="985.5" y="525.9" text-anchor="middle" font-family="'Liberation Serif','Noto Serif CJK SC',serif" font-size="20.5" fill="#444">100</text>
<text transform="translate(335.6,395.5) rotate(-90)" x="6.3 19.0 31.7 44.4 57.1 69.8 82.5 95.2 107.9 120.6 133.3 146.0 158.7 171.4 184.1 196.8 209.5 222.2 234.9 247.6 260.3 273.0 285.7" text-anchor="middle" font-family="'Liberation Serif','Noto Serif CJK SC',serif" font-size="25" fill="#3a3a3a" stroke="#3a3a3a" stroke-width="0.3"><tspan textLength="11.6" lengthAdjust="spacingAndGlyphs">G</tspan>r<tspan textLength="11.2" lengthAdjust="spacingAndGlyphs">o</tspan><tspan textLength="11.2" lengthAdjust="spacingAndGlyphs">u</tspan><tspan textLength="11.2" lengthAdjust="spacingAndGlyphs">n</tspan><tspan textLength="11.2" lengthAdjust="spacingAndGlyphs">d</tspan> <tspan textLength="11.6" lengthAdjust="spacingAndGlyphs">R</tspan>eacti<tspan textLength="11.2" lengthAdjust="spacingAndGlyphs">o</tspan><tspan textLength="11.2" lengthAdjust="spacingAndGlyphs">n</tspan> <tspan textLength="11.6" lengthAdjust="spacingAndGlyphs">F</tspan><tspan textLength="11.2" lengthAdjust="spacingAndGlyphs">o</tspan>rce/<tspan textLength="11.6" lengthAdjust="spacingAndGlyphs">%</tspan></text>
<text x="645.8 658.2 670.8 683.2 695.8 708.2 720.8 733.2" y="559" text-anchor="middle" font-family="'Liberation Serif','Noto Serif CJK SC',serif" font-size="25" fill="#222" stroke="#222" stroke-width="0.3"><tspan textLength="11.6" lengthAdjust="spacingAndGlyphs">S</tspan>ta<tspan textLength="11.2" lengthAdjust="spacingAndGlyphs">n</tspan>ce/<tspan textLength="11.6" lengthAdjust="spacingAndGlyphs">%</tspan></text>
<g fill="none" stroke="#888888" stroke-width="1.05" stroke-linejoin="round">
<path d="M431.6,1063.0 L434.3,1062.6 L436.9,1061.8 L439.6,1060.5 L442.2,1059.0 L444.9,1057.2 L447.5,1055.1 L450.2,1052.7 L452.8,1050.1 L455.5,1047.2 L458.1,1044.2 L460.8,1040.9 L463.4,1037.4 L466.1,1033.8 L468.7,1029.9 L471.4,1025.9 L474.0,1021.7 L476.7,1017.3 L479.3,1012.8 L482.0,1008.1 L484.6,1003.3 L487.3,998.4 L489.9,993.3 L492.6,988.1 L495.2,982.8 L497.9,977.4 L500.5,971.9 L503.1,966.3 L505.8,960.6 L508.4,954.8 L511.1,949.0 L513.7,943.1 L516.4,937.1 L519.0,931.1 L521.7,925.0 L524.3,918.9 L527.0,912.7 L529.6,906.5 L532.3,900.3 L534.9,894.1 L537.6,887.8 L540.2,881.6 L542.9,875.3 L545.5,869.1 L548.2,862.9 L550.8,856.7 L553.5,850.5 L556.1,844.4 L558.8,838.3 L561.4,832.2 L564.1,826.2 L566.7,820.2 L569.4,814.3 L572.0,808.5 L574.7,802.8 L577.3,797.1 L580.0,791.5 L582.6,786.0 L585.3,780.6 L587.9,775.3 L590.6,770.0 L593.2,764.9 L595.9,759.9 L598.5,755.1 L601.2,750.3 L603.8,745.7 L606.5,741.2 L609.1,736.9 L611.8,732.6 L614.4,728.6 L617.0,724.6 L619.7,720.9 L622.3,717.2 L625.0,713.8 L627.6,710.5 L630.3,707.3 L632.9,704.3 L635.6,701.5 L638.2,698.9 L640.9,696.4 L643.5,694.2 L646.2,692.0 L648.8,690.1 L651.5,688.4 L654.1,686.8 L656.8,685.4 L659.4,684.2 L662.1,683.2 L664.7,682.4 L667.4,681.8 L670.0,681.3 L672.7,681.1 L675.3,681.0 L678.0,681.2 L680.6,681.5 L683.3,682.0 L685.9,682.8 L688.6,683.7 L691.2,684.8 L693.9,686.1 L696.5,687.6 L699.2,689.3 L701.8,691.2 L704.5,693.2 L707.1,695.5 L709.8,697.9 L712.4,700.5 L715.1,703.3 L717.7,706.2 L720.4,709.3 L723.0,712.6 L725.7,716.1 L728.3,719.7 L730.9,723.4 L733.6,727.3 L736.2,731.4 L738.9,735.6 L741.5,739.9 L744.2,744.4 L746.8,748.9 L749.5,753.7 L752.1,758.5 L754.8,763.4 L757.4,768.5 L760.1,773.6 L762.7,778.8 L765.4,784.2 L768.0,789.6 L770.7,795.1 L773.3,800.6 L776.0,806.3 L778.6,811.9 L781.3,817.7 L783.9,823.5 L786.6,829.3 L789.2,835.2 L791.9,841.1 L794.5,847.0 L797.2,852.9 L799.8,858.8 L802.5,864.8 L805.1,870.7 L807.8,876.7 L810.4,882.6 L813.1,888.5 L815.7,894.4 L818.4,900.2 L821.0,906.0 L823.7,911.8 L826.3,917.5 L829.0,923.2 L831.6,928.7 L834.3,934.3 L836.9,939.7 L839.6,945.1 L842.2,950.4 L844.8,955.7 L847.5,960.8 L850.1,965.8 L852.8,970.8 L855.4,975.6 L858.1,980.3 L860.7,984.9 L863.4,989.4 L866.0,993.8 L868.7,998.1 L871.3,1002.2 L874.0,1006.2 L876.6,1010.1 L879.3,1013.8 L881.9,1017.4 L884.6,1020.9 L887.2,1024.2 L889.9,1027.4 L892.5,1030.5 L895.2,1033.4 L897.8,1036.2 L900.5,1038.8 L903.1,1041.3 L905.8,1043.6 L908.4,1045.8 L911.1,1047.8 L913.7,1049.7 L916.4,1051.5 L919.0,1053.1 L921.7,1054.6 L924.3,1056.0 L927.0,1057.2 L929.6,1058.3 L932.3,1059.2 L934.9,1060.1 L937.6,1060.8 L940.2,1061.4 L942.9,1061.9 L945.5,1062.3 L948.2,1062.6 L950.8,1062.8 L953.5,1062.9 L956.1,1063.0 L958.8,1063.0"/>
<path d="M461.6,1063.0 L464.2,1062.7 L466.9,1061.9 L469.5,1060.9 L472.2,1059.6 L474.8,1058.0 L477.5,1056.2 L480.1,1054.2 L482.8,1051.9 L485.4,1049.5 L488.1,1046.8 L490.7,1044.0 L493.4,1041.1 L496.0,1037.9 L498.7,1034.6 L501.3,1031.1 L504.0,1027.5 L506.6,1023.8 L509.3,1019.9 L511.9,1015.9 L514.6,1011.7 L517.2,1007.5 L519.9,1003.1 L522.5,998.6 L525.2,994.0 L527.8,989.4 L530.4,984.6 L533.1,979.7 L535.7,974.8 L538.4,969.8 L541.0,964.7 L543.7,959.6 L546.3,954.4 L549.0,949.1 L551.6,943.8 L554.3,938.5 L556.9,933.1 L559.6,927.6 L562.2,922.2 L564.9,916.7 L567.5,911.2 L570.2,905.7 L572.8,900.2 L575.5,894.7 L578.1,889.2 L580.8,883.7 L583.4,878.2 L586.1,872.8 L588.7,867.3 L591.4,861.9 L594.0,856.5 L596.7,851.2 L599.3,845.9 L602.0,840.6 L604.6,835.4 L607.3,830.2 L609.9,825.2 L612.6,820.1 L615.2,815.2 L617.9,810.3 L620.5,805.5 L623.2,800.8 L625.8,796.1 L628.5,791.6 L631.1,787.1 L633.8,782.8 L636.4,778.5 L639.1,774.3 L641.7,770.3 L644.4,766.4 L647.0,762.5 L649.6,758.8 L652.3,755.3 L654.9,751.8 L657.6,748.5 L660.2,745.3 L662.9,742.2 L665.5,739.3 L668.2,736.5 L670.8,733.9 L673.5,731.4 L676.1,729.0 L678.8,726.8 L681.4,724.7 L684.1,722.8 L686.7,721.0 L689.4,719.4 L692.0,718.0 L694.7,716.7 L697.3,715.5 L700.0,714.5 L702.6,713.7 L705.3,713.1 L707.9,712.5 L710.6,712.2 L713.2,712.0 L715.9,712.0 L718.5,712.2 L721.2,712.5 L723.8,713.1 L726.5,713.9 L729.1,714.9 L731.8,716.1 L734.4,717.5 L737.1,719.1 L739.7,720.9 L742.4,722.9 L745.0,725.1 L747.7,727.5 L750.3,730.0 L753.0,732.8 L755.6,735.7 L758.3,738.8 L760.9,742.1 L763.5,745.5 L766.2,749.1 L768.8,752.9 L771.5,756.8 L774.1,760.8 L776.8,765.0 L779.4,769.3 L782.1,773.8 L784.7,778.4 L787.4,783.1 L790.0,787.9 L792.7,792.8 L795.3,797.9 L798.0,803.0 L800.6,808.2 L803.3,813.4 L805.9,818.8 L808.6,824.2 L811.2,829.7 L813.9,835.2 L816.5,840.8 L819.2,846.4 L821.8,852.1 L824.5,857.7 L827.1,863.4 L829.8,869.1 L832.4,874.8 L835.1,880.5 L837.7,886.2 L840.4,891.9 L843.0,897.6 L845.7,903.2 L848.3,908.8 L851.0,914.3 L853.6,919.8 L856.3,925.3 L858.9,930.7 L861.6,936.0 L864.2,941.3 L866.9,946.4 L869.5,951.6 L872.2,956.6 L874.8,961.5 L877.4,966.3 L880.1,971.1 L882.7,975.7 L885.4,980.2 L888.0,984.7 L890.7,989.0 L893.3,993.2 L896.0,997.2 L898.6,1001.2 L901.3,1005.0 L903.9,1008.7 L906.6,1012.3 L909.2,1015.7 L911.9,1019.0 L914.5,1022.2 L917.2,1025.3 L919.8,1028.2 L922.5,1031.0 L925.1,1033.6 L927.8,1036.1 L930.4,1038.5 L933.1,1040.8 L935.7,1042.9 L938.4,1044.9 L941.0,1046.8 L943.7,1048.6 L946.3,1050.2 L949.0,1051.7 L951.6,1053.1 L954.3,1054.4 L956.9,1055.6 L959.6,1056.6 L962.2,1057.6 L964.9,1058.5 L967.5,1059.2 L970.2,1059.9 L972.8,1060.5 L975.5,1061.0 L978.1,1061.5 L980.8,1061.8 L983.4,1062.2 L986.1,1062.4 L988.7,1062.6"/>
<path d="M437.6,1063.0 L440.1,1062.5 L442.7,1061.6 L445.2,1060.2 L447.7,1058.6 L450.3,1056.7 L452.8,1054.6 L455.3,1052.3 L457.8,1049.7 L460.4,1047.0 L462.9,1044.1 L465.4,1041.0 L468.0,1037.8 L470.5,1034.4 L473.0,1030.9 L475.5,1027.2 L478.1,1023.4 L480.6,1019.4 L483.1,1015.4 L485.7,1011.2 L488.2,1006.9 L490.7,1002.6 L493.2,998.1 L495.8,993.5 L498.3,988.9 L500.8,984.2 L503.4,979.4 L505.9,974.5 L508.4,969.6 L510.9,964.6 L513.5,959.6 L516.0,954.5 L518.5,949.3 L521.1,944.2 L523.6,939.0 L526.1,933.7 L528.6,928.5 L531.2,923.2 L533.7,917.9 L536.2,912.6 L538.8,907.3 L541.3,902.0 L543.8,896.7 L546.3,891.4 L548.9,886.1 L551.4,880.8 L553.9,875.6 L556.5,870.3 L559.0,865.1 L561.5,860.0 L564.0,854.9 L566.6,849.8 L569.1,844.7 L571.6,839.8 L574.2,834.8 L576.7,830.0 L579.2,825.2 L581.7,820.4 L584.3,815.7 L586.8,811.1 L589.3,806.6 L591.9,802.2 L594.4,797.8 L596.9,793.6 L599.4,789.4 L602.0,785.3 L604.5,781.3 L607.0,777.4 L609.6,773.6 L612.1,769.9 L614.6,766.4 L617.1,762.9 L619.7,759.6 L622.2,756.3 L624.7,753.2 L627.3,750.3 L629.8,747.4 L632.3,744.7 L634.8,742.0 L637.4,739.6 L639.9,737.2 L642.4,735.0 L645.0,732.9 L647.5,731.0 L650.0,729.2 L652.5,727.5 L655.1,726.0 L657.6,724.6 L660.1,723.4 L662.7,722.3 L665.2,721.4 L667.7,720.6 L670.2,719.9 L672.8,719.4 L675.3,719.0 L677.8,718.8 L680.4,718.7 L682.9,718.9 L685.4,719.2 L687.9,719.6 L690.5,720.3 L693.0,721.2 L695.5,722.3 L698.0,723.5 L700.6,724.9 L703.1,726.6 L705.6,728.4 L708.2,730.3 L710.7,732.5 L713.2,734.8 L715.7,737.3 L718.3,740.0 L720.8,742.8 L723.3,745.9 L725.9,749.0 L728.4,752.3 L730.9,755.8 L733.4,759.4 L736.0,763.2 L738.5,767.1 L741.0,771.1 L743.6,775.3 L746.1,779.6 L748.6,784.0 L751.1,788.5 L753.7,793.1 L756.2,797.9 L758.7,802.7 L761.3,807.6 L763.8,812.6 L766.3,817.7 L768.8,822.9 L771.4,828.1 L773.9,833.4 L776.4,838.8 L779.0,844.2 L781.5,849.6 L784.0,855.1 L786.5,860.6 L789.1,866.1 L791.6,871.7 L794.1,877.2 L796.7,882.8 L799.2,888.4 L801.7,894.0 L804.2,899.5 L806.8,905.0 L809.3,910.6 L811.8,916.0 L814.4,921.5 L816.9,926.9 L819.4,932.2 L821.9,937.5 L824.5,942.8 L827.0,948.0 L829.5,953.1 L832.1,958.1 L834.6,963.0 L837.1,967.9 L839.6,972.7 L842.2,977.4 L844.7,982.0 L847.2,986.4 L849.8,990.8 L852.3,995.1 L854.8,999.2 L857.3,1003.3 L859.9,1007.2 L862.4,1011.0 L864.9,1014.6 L867.5,1018.1 L870.0,1021.5 L872.5,1024.8 L875.0,1027.9 L877.6,1030.9 L880.1,1033.8 L882.6,1036.5 L885.2,1039.1 L887.7,1041.5 L890.2,1043.8 L892.7,1046.0 L895.3,1048.0 L897.8,1049.9 L900.3,1051.6 L902.9,1053.2 L905.4,1054.7 L907.9,1056.0 L910.4,1057.2 L913.0,1058.3 L915.5,1059.3 L918.0,1060.1 L920.6,1060.8 L923.1,1061.4 L925.6,1061.9 L928.1,1062.3 L930.7,1062.6 L933.2,1062.8 L935.7,1062.9 L938.3,1063.0 L940.8,1063.0"/>
<path d="M443.6,1063.0 L446.0,1062.5 L448.5,1061.6 L450.9,1060.3 L453.4,1058.8 L455.8,1056.9 L458.2,1054.9 L460.7,1052.6 L463.1,1050.2 L465.6,1047.5 L468.0,1044.7 L470.4,1041.8 L472.9,1038.6 L475.3,1035.4 L477.7,1031.9 L480.2,1028.4 L482.6,1024.7 L485.1,1020.9 L487.5,1017.0 L489.9,1013.0 L492.4,1008.9 L494.8,1004.7 L497.2,1000.4 L499.7,996.1 L502.1,991.6 L504.6,987.1 L507.0,982.5 L509.4,977.9 L511.9,973.2 L514.3,968.4 L516.8,963.6 L519.2,958.8 L521.6,953.9 L524.1,949.0 L526.5,944.1 L528.9,939.2 L531.4,934.2 L533.8,929.2 L536.3,924.3 L538.7,919.3 L541.1,914.3 L543.6,909.4 L546.0,904.4 L548.5,899.5 L550.9,894.6 L553.3,889.7 L555.8,884.8 L558.2,880.0 L560.6,875.2 L563.1,870.5 L565.5,865.8 L568.0,861.2 L570.4,856.6 L572.8,852.1 L575.3,847.7 L577.7,843.3 L580.1,839.0 L582.6,834.8 L585.0,830.6 L587.5,826.6 L589.9,822.6 L592.3,818.7 L594.8,814.9 L597.2,811.2 L599.7,807.6 L602.1,804.1 L604.5,800.8 L607.0,797.5 L609.4,794.3 L611.8,791.3 L614.3,788.4 L616.7,785.5 L619.2,782.9 L621.6,780.3 L624.0,777.9 L626.5,775.6 L628.9,773.4 L631.3,771.3 L633.8,769.4 L636.2,767.7 L638.7,766.0 L641.1,764.5 L643.5,763.2 L646.0,762.0 L648.4,760.9 L650.9,760.0 L653.3,759.2 L655.7,758.5 L658.2,758.0 L660.6,757.7 L663.0,757.5 L665.5,757.4 L667.9,757.5 L670.4,757.8 L672.8,758.1 L675.2,758.7 L677.7,759.4 L680.1,760.2 L682.5,761.2 L685.0,762.3 L687.4,763.5 L689.9,764.9 L692.3,766.5 L694.7,768.2 L697.2,770.0 L699.6,771.9 L702.1,774.0 L704.5,776.2 L706.9,778.6 L709.4,781.1 L711.8,783.7 L714.2,786.4 L716.7,789.2 L719.1,792.2 L721.6,795.2 L724.0,798.4 L726.4,801.7 L728.9,805.1 L731.3,808.6 L733.7,812.1 L736.2,815.8 L738.6,819.6 L741.1,823.4 L743.5,827.3 L745.9,831.4 L748.4,835.4 L750.8,839.6 L753.3,843.8 L755.7,848.0 L758.1,852.4 L760.6,856.7 L763.0,861.2 L765.4,865.6 L767.9,870.1 L770.3,874.7 L772.8,879.2 L775.2,883.8 L777.6,888.5 L780.1,893.1 L782.5,897.7 L784.9,902.4 L787.4,907.0 L789.8,911.7 L792.3,916.3 L794.7,920.9 L797.1,925.5 L799.6,930.1 L802.0,934.7 L804.5,939.2 L806.9,943.7 L809.3,948.2 L811.8,952.6 L814.2,957.0 L816.6,961.3 L819.1,965.6 L821.5,969.8 L824.0,974.0 L826.4,978.1 L828.8,982.1 L831.3,986.0 L833.7,989.9 L836.2,993.7 L838.6,997.4 L841.0,1001.1 L843.5,1004.6 L845.9,1008.1 L848.3,1011.4 L850.8,1014.7 L853.2,1017.9 L855.7,1020.9 L858.1,1023.9 L860.5,1026.8 L863.0,1029.5 L865.4,1032.2 L867.8,1034.7 L870.3,1037.1 L872.7,1039.5 L875.2,1041.7 L877.6,1043.8 L880.0,1045.8 L882.5,1047.6 L884.9,1049.4 L887.4,1051.0 L889.8,1052.6 L892.2,1054.0 L894.7,1055.3 L897.1,1056.5 L899.5,1057.6 L902.0,1058.5 L904.4,1059.4 L906.9,1060.2 L909.3,1060.8 L911.7,1061.4 L914.2,1061.9 L916.6,1062.3 L919.0,1062.6 L921.5,1062.8 L923.9,1062.9 L926.4,1063.0 L928.8,1063.0"/>
<path d="M437.6,1063.0 L440.1,1062.6 L442.7,1061.7 L445.2,1060.6 L447.7,1059.2 L450.3,1057.5 L452.8,1055.7 L455.3,1053.7 L457.8,1051.4 L460.4,1049.1 L462.9,1046.5 L465.4,1043.8 L468.0,1041.0 L470.5,1038.1 L473.0,1035.0 L475.5,1031.8 L478.1,1028.5 L480.6,1025.1 L483.1,1021.5 L485.7,1017.9 L488.2,1014.2 L490.7,1010.4 L493.2,1006.6 L495.8,1002.6 L498.3,998.6 L500.8,994.5 L503.4,990.4 L505.9,986.2 L508.4,981.9 L510.9,977.6 L513.5,973.3 L516.0,968.9 L518.5,964.5 L521.1,960.1 L523.6,955.6 L526.1,951.1 L528.6,946.6 L531.2,942.1 L533.7,937.6 L536.2,933.1 L538.8,928.6 L541.3,924.1 L543.8,919.6 L546.3,915.1 L548.9,910.6 L551.4,906.2 L553.9,901.8 L556.5,897.4 L559.0,893.0 L561.5,888.7 L564.0,884.4 L566.6,880.2 L569.1,876.0 L571.6,871.9 L574.2,867.8 L576.7,863.8 L579.2,859.9 L581.7,856.0 L584.3,852.2 L586.8,848.4 L589.3,844.8 L591.9,841.2 L594.4,837.7 L596.9,834.3 L599.4,831.0 L602.0,827.7 L604.5,824.6 L607.0,821.6 L609.6,818.6 L612.1,815.8 L614.6,813.0 L617.1,810.4 L619.7,807.9 L622.2,805.5 L624.7,803.1 L627.3,801.0 L629.8,798.9 L632.3,796.9 L634.8,795.1 L637.4,793.4 L639.9,791.8 L642.4,790.3 L645.0,789.0 L647.5,787.8 L650.0,786.7 L652.5,785.7 L655.1,784.9 L657.6,784.2 L660.1,783.6 L662.7,783.1 L665.2,782.8 L667.7,782.6 L670.2,782.6 L672.8,782.7 L675.3,782.9 L677.8,783.3 L680.4,783.8 L682.9,784.4 L685.4,785.2 L687.9,786.2 L690.5,787.3 L693.0,788.5 L695.5,789.9 L698.0,791.4 L700.6,793.0 L703.1,794.8 L705.6,796.7 L708.2,798.7 L710.7,800.8 L713.2,803.1 L715.7,805.5 L718.3,808.1 L720.8,810.7 L723.3,813.4 L725.9,816.3 L728.4,819.3 L730.9,822.3 L733.4,825.5 L736.0,828.8 L738.5,832.2 L741.0,835.6 L743.6,839.1 L746.1,842.8 L748.6,846.5 L751.1,850.2 L753.7,854.1 L756.2,858.0 L758.7,862.0 L761.3,866.0 L763.8,870.1 L766.3,874.2 L768.8,878.4 L771.4,882.6 L773.9,886.9 L776.4,891.1 L779.0,895.4 L781.5,899.8 L784.0,904.1 L786.5,908.5 L789.1,912.8 L791.6,917.2 L794.1,921.6 L796.7,925.9 L799.2,930.3 L801.7,934.6 L804.2,939.0 L806.8,943.3 L809.3,947.5 L811.8,951.8 L814.4,956.0 L816.9,960.1 L819.4,964.2 L821.9,968.3 L824.5,972.3 L827.0,976.3 L829.5,980.2 L832.1,984.0 L834.6,987.8 L837.1,991.5 L839.6,995.1 L842.2,998.7 L844.7,1002.2 L847.2,1005.6 L849.8,1008.9 L852.3,1012.1 L854.8,1015.2 L857.3,1018.3 L859.9,1021.2 L862.4,1024.1 L864.9,1026.8 L867.5,1029.5 L870.0,1032.0 L872.5,1034.5 L875.0,1036.8 L877.6,1039.1 L880.1,1041.2 L882.6,1043.3 L885.2,1045.2 L887.7,1047.0 L890.2,1048.7 L892.7,1050.3 L895.3,1051.8 L897.8,1053.2 L900.3,1054.5 L902.9,1055.7 L905.4,1056.8 L907.9,1057.8 L910.4,1058.7 L913.0,1059.5 L915.5,1060.2 L918.0,1060.8 L920.6,1061.4 L923.1,1061.8 L925.6,1062.2 L928.1,1062.5 L930.7,1062.7 L933.2,1062.8 L935.7,1062.9 L938.3,1063.0 L940.8,1063.0"/>
<path d="M461.6,1063.0 L464.2,1062.8 L466.9,1062.2 L469.5,1061.4 L472.2,1060.5 L474.8,1059.3 L477.5,1057.9 L480.1,1056.4 L482.8,1054.8 L485.4,1053.0 L488.1,1051.0 L490.7,1048.9 L493.4,1046.7 L496.0,1044.4 L498.7,1041.9 L501.3,1039.3 L504.0,1036.6 L506.6,1033.8 L509.3,1030.9 L511.9,1027.9 L514.6,1024.9 L517.2,1021.7 L519.9,1018.4 L522.5,1015.1 L525.2,1011.7 L527.8,1008.2 L530.4,1004.6 L533.1,1000.9 L535.7,997.3 L538.4,993.5 L541.0,989.7 L543.7,985.8 L546.3,981.9 L549.0,977.9 L551.6,973.9 L554.3,969.9 L556.9,965.8 L559.6,961.8 L562.2,957.6 L564.9,953.5 L567.5,949.3 L570.2,945.1 L572.8,941.0 L575.5,936.8 L578.1,932.6 L580.8,928.4 L583.4,924.2 L586.1,920.0 L588.7,915.8 L591.4,911.6 L594.0,907.5 L596.7,903.3 L599.3,899.2 L602.0,895.1 L604.6,891.1 L607.3,887.1 L609.9,883.1 L612.6,879.2 L615.2,875.3 L617.9,871.4 L620.5,867.6 L623.2,863.9 L625.8,860.2 L628.5,856.6 L631.1,853.0 L633.8,849.5 L636.4,846.0 L639.1,842.7 L641.7,839.4 L644.4,836.2 L647.0,833.0 L649.6,830.0 L652.3,827.0 L654.9,824.1 L657.6,821.3 L660.2,818.6 L662.9,815.9 L665.5,813.4 L668.2,811.0 L670.8,808.6 L673.5,806.4 L676.1,804.3 L678.8,802.2 L681.4,800.3 L684.1,798.5 L686.7,796.7 L689.4,795.1 L692.0,793.6 L694.7,792.2 L697.3,791.0 L700.0,789.8 L702.6,788.7 L705.3,787.8 L707.9,787.0 L710.6,786.3 L713.2,785.7 L715.9,785.2 L718.5,784.9 L721.2,784.6 L723.8,784.5 L726.5,784.5 L729.1,784.7 L731.8,785.1 L734.4,785.6 L737.1,786.3 L739.7,787.2 L742.4,788.2 L745.0,789.5 L747.7,790.9 L750.3,792.4 L753.0,794.2 L755.6,796.1 L758.3,798.1 L760.9,800.4 L763.5,802.7 L766.2,805.2 L768.8,807.9 L771.5,810.7 L774.1,813.7 L776.8,816.8 L779.4,820.0 L782.1,823.4 L784.7,826.8 L787.4,830.4 L790.0,834.1 L792.7,837.9 L795.3,841.8 L798.0,845.8 L800.6,849.9 L803.3,854.1 L805.9,858.4 L808.6,862.7 L811.2,867.1 L813.9,871.5 L816.5,876.0 L819.2,880.6 L821.8,885.2 L824.5,889.8 L827.1,894.5 L829.8,899.2 L832.4,903.9 L835.1,908.6 L837.7,913.4 L840.4,918.1 L843.0,922.8 L845.7,927.5 L848.3,932.2 L851.0,936.9 L853.6,941.5 L856.3,946.1 L858.9,950.7 L861.6,955.2 L864.2,959.6 L866.9,964.0 L869.5,968.4 L872.2,972.7 L874.8,976.9 L877.4,981.0 L880.1,985.1 L882.7,989.0 L885.4,992.9 L888.0,996.7 L890.7,1000.4 L893.3,1004.0 L896.0,1007.5 L898.6,1010.9 L901.3,1014.2 L903.9,1017.4 L906.6,1020.5 L909.2,1023.5 L911.9,1026.3 L914.5,1029.1 L917.2,1031.7 L919.8,1034.2 L922.5,1036.6 L925.1,1038.9 L927.8,1041.0 L930.4,1043.1 L933.1,1045.0 L935.7,1046.8 L938.4,1048.5 L941.0,1050.1 L943.7,1051.6 L946.3,1053.0 L949.0,1054.3 L951.6,1055.4 L954.3,1056.5 L956.9,1057.5 L959.6,1058.3 L962.2,1059.1 L964.9,1059.8 L967.5,1060.4 L970.2,1060.9 L972.8,1061.4 L975.5,1061.8 L978.1,1062.1 L980.8,1062.4 L983.4,1062.6 L986.1,1062.7 L988.7,1062.8"/>
<path d="M449.6,1063.0 L452.2,1062.7 L454.8,1062.0 L457.4,1061.1 L460.0,1059.9 L462.5,1058.6 L465.1,1057.1 L467.7,1055.5 L470.3,1053.7 L472.9,1051.8 L475.5,1049.7 L478.1,1047.5 L480.7,1045.3 L483.3,1042.9 L485.8,1040.4 L488.4,1037.8 L491.0,1035.1 L493.6,1032.3 L496.2,1029.5 L498.8,1026.5 L501.4,1023.5 L504.0,1020.4 L506.6,1017.2 L509.1,1014.0 L511.7,1010.7 L514.3,1007.3 L516.9,1003.9 L519.5,1000.4 L522.1,996.9 L524.7,993.4 L527.3,989.8 L529.8,986.1 L532.4,982.4 L535.0,978.7 L537.6,975.0 L540.2,971.2 L542.8,967.4 L545.4,963.6 L548.0,959.7 L550.6,955.9 L553.1,952.0 L555.7,948.1 L558.3,944.3 L560.9,940.4 L563.5,936.5 L566.1,932.6 L568.7,928.7 L571.3,924.9 L573.9,921.0 L576.4,917.2 L579.0,913.4 L581.6,909.6 L584.2,905.8 L586.8,902.0 L589.4,898.3 L592.0,894.6 L594.6,890.9 L597.2,887.3 L599.7,883.7 L602.3,880.2 L604.9,876.7 L607.5,873.2 L610.1,869.8 L612.7,866.4 L615.3,863.1 L617.9,859.9 L620.5,856.7 L623.0,853.5 L625.6,850.5 L628.2,847.5 L630.8,844.5 L633.4,841.6 L636.0,838.8 L638.6,836.1 L641.2,833.4 L643.7,830.8 L646.3,828.3 L648.9,825.9 L651.5,823.5 L654.1,821.2 L656.7,819.1 L659.3,816.9 L661.9,814.9 L664.5,813.0 L667.0,811.1 L669.6,809.4 L672.2,807.7 L674.8,806.2 L677.4,804.7 L680.0,803.3 L682.6,802.0 L685.2,800.8 L687.8,799.7 L690.3,798.7 L692.9,797.8 L695.5,797.0 L698.1,796.3 L700.7,795.7 L703.3,795.2 L705.9,794.8 L708.5,794.5 L711.1,794.3 L713.6,794.2 L716.2,794.2 L718.8,794.4 L721.4,794.7 L724.0,795.2 L726.6,795.9 L729.2,796.7 L731.8,797.8 L734.4,798.9 L736.9,800.3 L739.5,801.8 L742.1,803.5 L744.7,805.3 L747.3,807.3 L749.9,809.4 L752.5,811.7 L755.1,814.1 L757.6,816.7 L760.2,819.4 L762.8,822.3 L765.4,825.3 L768.0,828.4 L770.6,831.6 L773.2,835.0 L775.8,838.4 L778.4,842.0 L780.9,845.7 L783.5,849.5 L786.1,853.4 L788.7,857.4 L791.3,861.4 L793.9,865.6 L796.5,869.8 L799.1,874.1 L801.7,878.4 L804.2,882.8 L806.8,887.3 L809.4,891.8 L812.0,896.3 L814.6,900.9 L817.2,905.5 L819.8,910.1 L822.4,914.7 L825.0,919.4 L827.5,924.0 L830.1,928.7 L832.7,933.3 L835.3,937.9 L837.9,942.5 L840.5,947.1 L843.1,951.7 L845.7,956.2 L848.3,960.6 L850.8,965.1 L853.4,969.4 L856.0,973.7 L858.6,978.0 L861.2,982.2 L863.8,986.3 L866.4,990.3 L869.0,994.3 L871.5,998.1 L874.1,1001.9 L876.7,1005.6 L879.3,1009.1 L881.9,1012.6 L884.5,1016.0 L887.1,1019.3 L889.7,1022.4 L892.3,1025.5 L894.8,1028.4 L897.4,1031.2 L900.0,1033.9 L902.6,1036.5 L905.2,1039.0 L907.8,1041.3 L910.4,1043.5 L913.0,1045.6 L915.6,1047.5 L918.1,1049.4 L920.7,1051.1 L923.3,1052.6 L925.9,1054.1 L928.5,1055.4 L931.1,1056.6 L933.7,1057.7 L936.3,1058.7 L938.9,1059.6 L941.4,1060.3 L944.0,1061.0 L946.6,1061.5 L949.2,1062.0 L951.8,1062.3 L954.4,1062.6 L957.0,1062.8 L959.6,1062.9 L962.2,1063.0 L964.7,1063.0"/>
<path d="M437.6,1063.0 L440.4,1062.6 L443.2,1061.9 L445.9,1060.9 L448.7,1059.6 L451.5,1058.2 L454.2,1056.6 L457.0,1054.8 L459.8,1052.8 L462.5,1050.7 L465.3,1048.5 L468.1,1046.1 L470.9,1043.6 L473.6,1041.0 L476.4,1038.3 L479.2,1035.5 L481.9,1032.6 L484.7,1029.5 L487.5,1026.4 L490.2,1023.2 L493.0,1020.0 L495.8,1016.6 L498.5,1013.2 L501.3,1009.7 L504.1,1006.1 L506.9,1002.5 L509.6,998.8 L512.4,995.1 L515.2,991.3 L517.9,987.5 L520.7,983.6 L523.5,979.7 L526.2,975.8 L529.0,971.8 L531.8,967.8 L534.5,963.8 L537.3,959.8 L540.1,955.8 L542.9,951.7 L545.6,947.7 L548.4,943.6 L551.2,939.5 L553.9,935.5 L556.7,931.4 L559.5,927.4 L562.2,923.4 L565.0,919.4 L567.8,915.4 L570.5,911.4 L573.3,907.5 L576.1,903.6 L578.9,899.7 L581.6,895.9 L584.4,892.1 L587.2,888.3 L589.9,884.6 L592.7,881.0 L595.5,877.4 L598.2,873.8 L601.0,870.3 L603.8,866.9 L606.5,863.5 L609.3,860.2 L612.1,857.0 L614.9,853.9 L617.6,850.8 L620.4,847.8 L623.2,844.8 L625.9,842.0 L628.7,839.2 L631.5,836.5 L634.2,833.9 L637.0,831.4 L639.8,829.0 L642.5,826.7 L645.3,824.5 L648.1,822.3 L650.9,820.3 L653.6,818.4 L656.4,816.5 L659.2,814.8 L661.9,813.2 L664.7,811.7 L667.5,810.3 L670.2,809.0 L673.0,807.8 L675.8,806.7 L678.5,805.7 L681.3,804.8 L684.1,804.1 L686.9,803.4 L689.6,802.9 L692.4,802.5 L695.2,802.2 L697.9,802.0 L700.7,801.9 L703.5,802.0 L706.2,802.2 L709.0,802.6 L711.8,803.1 L714.5,803.8 L717.3,804.6 L720.1,805.6 L722.9,806.8 L725.6,808.1 L728.4,809.6 L731.2,811.2 L733.9,813.0 L736.7,814.9 L739.5,816.9 L742.2,819.1 L745.0,821.4 L747.8,823.9 L750.5,826.5 L753.3,829.2 L756.1,832.0 L758.9,835.0 L761.6,838.1 L764.4,841.3 L767.2,844.6 L769.9,847.9 L772.7,851.4 L775.5,855.0 L778.2,858.7 L781.0,862.4 L783.8,866.3 L786.5,870.2 L789.3,874.1 L792.1,878.1 L794.9,882.2 L797.6,886.4 L800.4,890.5 L803.2,894.8 L805.9,899.0 L808.7,903.3 L811.5,907.6 L814.2,911.9 L817.0,916.3 L819.8,920.6 L822.5,925.0 L825.3,929.3 L828.1,933.7 L830.9,938.0 L833.6,942.3 L836.4,946.6 L839.2,950.8 L841.9,955.1 L844.7,959.2 L847.5,963.4 L850.2,967.5 L853.0,971.5 L855.8,975.5 L858.5,979.4 L861.3,983.3 L864.1,987.0 L866.9,990.8 L869.6,994.4 L872.4,997.9 L875.2,1001.4 L877.9,1004.8 L880.7,1008.1 L883.5,1011.3 L886.2,1014.4 L889.0,1017.5 L891.8,1020.4 L894.5,1023.2 L897.3,1026.0 L900.1,1028.6 L902.9,1031.1 L905.6,1033.5 L908.4,1035.8 L911.2,1038.1 L913.9,1040.2 L916.7,1042.2 L919.5,1044.1 L922.2,1045.9 L925.0,1047.5 L927.8,1049.1 L930.5,1050.6 L933.3,1052.0 L936.1,1053.3 L938.9,1054.5 L941.6,1055.6 L944.4,1056.6 L947.2,1057.5 L949.9,1058.4 L952.7,1059.1 L955.5,1059.8 L958.2,1060.4 L961.0,1060.9 L963.8,1061.3 L966.5,1061.7 L969.3,1062.0 L972.1,1062.3 L974.9,1062.5 L977.6,1062.7 L980.4,1062.8 L983.2,1062.9 L985.9,1063.0 L988.7,1063.0"/>
<path d="M461.6,1063.0 L464.2,1062.8 L466.9,1062.3 L469.5,1061.7 L472.2,1060.8 L474.8,1059.8 L477.5,1058.7 L480.1,1057.4 L482.8,1056.0 L485.4,1054.4 L488.1,1052.7 L490.7,1050.9 L493.4,1049.1 L496.0,1047.0 L498.7,1044.9 L501.3,1042.7 L504.0,1040.4 L506.6,1038.0 L509.3,1035.5 L511.9,1033.0 L514.6,1030.3 L517.2,1027.6 L519.9,1024.8 L522.5,1021.9 L525.2,1019.0 L527.8,1016.0 L530.4,1012.9 L533.1,1009.8 L535.7,1006.6 L538.4,1003.4 L541.0,1000.1 L543.7,996.8 L546.3,993.4 L549.0,990.0 L551.6,986.5 L554.3,983.0 L556.9,979.5 L559.6,976.0 L562.2,972.4 L564.9,968.8 L567.5,965.2 L570.2,961.6 L572.8,958.0 L575.5,954.3 L578.1,950.7 L580.8,947.0 L583.4,943.4 L586.1,939.7 L588.7,936.1 L591.4,932.5 L594.0,928.8 L596.7,925.2 L599.3,921.6 L602.0,918.1 L604.6,914.5 L607.3,911.0 L609.9,907.5 L612.6,904.0 L615.2,900.6 L617.9,897.2 L620.5,893.8 L623.2,890.5 L625.8,887.3 L628.5,884.0 L631.1,880.9 L633.8,877.7 L636.4,874.7 L639.1,871.6 L641.7,868.7 L644.4,865.8 L647.0,863.0 L649.6,860.2 L652.3,857.5 L654.9,854.8 L657.6,852.3 L660.2,849.8 L662.9,847.4 L665.5,845.0 L668.2,842.8 L670.8,840.6 L673.5,838.5 L676.1,836.5 L678.8,834.6 L681.4,832.7 L684.1,831.0 L686.7,829.3 L689.4,827.7 L692.0,826.2 L694.7,824.8 L697.3,823.5 L700.0,822.3 L702.6,821.2 L705.3,820.2 L707.9,819.3 L710.6,818.5 L713.2,817.7 L715.9,817.1 L718.5,816.6 L721.2,816.2 L723.8,815.8 L726.5,815.6 L729.1,815.5 L731.8,815.5 L734.4,815.6 L737.1,815.8 L739.7,816.3 L742.4,816.9 L745.0,817.6 L747.7,818.6 L750.3,819.6 L753.0,820.8 L755.6,822.2 L758.3,823.8 L760.9,825.4 L763.5,827.2 L766.2,829.2 L768.8,831.3 L771.5,833.6 L774.1,835.9 L776.8,838.4 L779.4,841.1 L782.1,843.8 L784.7,846.7 L787.4,849.7 L790.0,852.8 L792.7,856.0 L795.3,859.3 L798.0,862.8 L800.6,866.3 L803.3,869.9 L805.9,873.5 L808.6,877.3 L811.2,881.1 L813.9,885.0 L816.5,889.0 L819.2,893.0 L821.8,897.0 L824.5,901.2 L827.1,905.3 L829.8,909.5 L832.4,913.7 L835.1,917.9 L837.7,922.2 L840.4,926.5 L843.0,930.7 L845.7,935.0 L848.3,939.3 L851.0,943.5 L853.6,947.8 L856.3,952.0 L858.9,956.2 L861.6,960.3 L864.2,964.5 L866.9,968.6 L869.5,972.6 L872.2,976.6 L874.8,980.5 L877.4,984.4 L880.1,988.2 L882.7,991.9 L885.4,995.6 L888.0,999.2 L890.7,1002.7 L893.3,1006.1 L896.0,1009.5 L898.6,1012.7 L901.3,1015.9 L903.9,1018.9 L906.6,1021.9 L909.2,1024.8 L911.9,1027.5 L914.5,1030.2 L917.2,1032.7 L919.8,1035.2 L922.5,1037.5 L925.1,1039.7 L927.8,1041.8 L930.4,1043.8 L933.1,1045.7 L935.7,1047.5 L938.4,1049.2 L941.0,1050.8 L943.7,1052.2 L946.3,1053.6 L949.0,1054.8 L951.6,1056.0 L954.3,1057.0 L956.9,1058.0 L959.6,1058.8 L962.2,1059.6 L964.9,1060.3 L967.5,1060.8 L970.2,1061.3 L972.8,1061.8 L975.5,1062.1 L978.1,1062.4 L980.8,1062.6 L983.4,1062.8 L986.1,1062.9 L988.7,1063.0"/>
<path d="M437.6,1063.0 L440.0,1062.6 L442.4,1061.9 L444.8,1060.9 L447.3,1059.7 L449.7,1058.4 L452.1,1056.8 L454.5,1055.1 L456.9,1053.2 L459.3,1051.2 L461.7,1049.0 L464.1,1046.7 L466.5,1044.3 L468.9,1041.8 L471.3,1039.2 L473.7,1036.5 L476.1,1033.7 L478.6,1030.8 L481.0,1027.9 L483.4,1024.8 L485.8,1021.7 L488.2,1018.5 L490.6,1015.3 L493.0,1011.9 L495.4,1008.6 L497.8,1005.2 L500.2,1001.7 L502.6,998.2 L505.0,994.6 L507.5,991.1 L509.9,987.5 L512.3,983.8 L514.7,980.2 L517.1,976.5 L519.5,972.8 L521.9,969.2 L524.3,965.5 L526.7,961.8 L529.1,958.1 L531.5,954.4 L533.9,950.7 L536.3,947.1 L538.8,943.4 L541.2,939.8 L543.6,936.2 L546.0,932.7 L548.4,929.2 L550.8,925.7 L553.2,922.2 L555.6,918.8 L558.0,915.5 L560.4,912.2 L562.8,908.9 L565.2,905.7 L567.7,902.6 L570.1,899.5 L572.5,896.5 L574.9,893.6 L577.3,890.7 L579.7,887.9 L582.1,885.2 L584.5,882.5 L586.9,880.0 L589.3,877.5 L591.7,875.1 L594.1,872.8 L596.6,870.6 L599.0,868.5 L601.4,866.5 L603.8,864.6 L606.2,862.8 L608.6,861.1 L611.0,859.5 L613.4,858.0 L615.8,856.6 L618.2,855.3 L620.6,854.1 L623.0,853.0 L625.4,852.0 L627.9,851.2 L630.3,850.4 L632.7,849.8 L635.1,849.3 L637.5,848.9 L639.9,848.6 L642.3,848.4 L644.7,848.3 L647.1,848.4 L649.5,848.5 L651.9,848.8 L654.3,849.1 L656.8,849.5 L659.2,850.1 L661.6,850.7 L664.0,851.4 L666.4,852.3 L668.8,853.2 L671.2,854.2 L673.6,855.3 L676.0,856.5 L678.4,857.8 L680.8,859.2 L683.2,860.7 L685.6,862.3 L688.1,863.9 L690.5,865.7 L692.9,867.5 L695.3,869.4 L697.7,871.4 L700.1,873.4 L702.5,875.5 L704.9,877.7 L707.3,880.0 L709.7,882.3 L712.1,884.7 L714.5,887.2 L717.0,889.7 L719.4,892.3 L721.8,895.0 L724.2,897.7 L726.6,900.4 L729.0,903.2 L731.4,906.0 L733.8,908.9 L736.2,911.8 L738.6,914.8 L741.0,917.8 L743.4,920.8 L745.8,923.9 L748.3,926.9 L750.7,930.0 L753.1,933.2 L755.5,936.3 L757.9,939.4 L760.3,942.6 L762.7,945.8 L765.1,948.9 L767.5,952.1 L769.9,955.3 L772.3,958.4 L774.7,961.6 L777.2,964.8 L779.6,967.9 L782.0,971.0 L784.4,974.1 L786.8,977.2 L789.2,980.2 L791.6,983.3 L794.0,986.3 L796.4,989.2 L798.8,992.2 L801.2,995.1 L803.6,997.9 L806.1,1000.7 L808.5,1003.5 L810.9,1006.2 L813.3,1008.9 L815.7,1011.5 L818.1,1014.1 L820.5,1016.6 L822.9,1019.1 L825.3,1021.5 L827.7,1023.8 L830.1,1026.1 L832.5,1028.3 L834.9,1030.5 L837.4,1032.6 L839.8,1034.6 L842.2,1036.5 L844.6,1038.4 L847.0,1040.2 L849.4,1042.0 L851.8,1043.7 L854.2,1045.3 L856.6,1046.8 L859.0,1048.3 L861.4,1049.6 L863.8,1050.9 L866.3,1052.2 L868.7,1053.3 L871.1,1054.4 L873.5,1055.5 L875.9,1056.4 L878.3,1057.3 L880.7,1058.1 L883.1,1058.8 L885.5,1059.5 L887.9,1060.1 L890.3,1060.7 L892.7,1061.1 L895.1,1061.5 L897.6,1061.9 L900.0,1062.2 L902.4,1062.4 L904.8,1062.6 L907.2,1062.8 L909.6,1062.9 L912.0,1063.0 L914.4,1063.0 L916.8,1063.0"/>
<path d="M449.6,1063.0 L452.2,1062.7 L454.7,1062.1 L457.3,1061.4 L459.8,1060.4 L462.4,1059.3 L465.0,1058.1 L467.5,1056.7 L470.1,1055.2 L472.6,1053.6 L475.2,1051.9 L477.7,1050.1 L480.3,1048.2 L482.9,1046.2 L485.4,1044.1 L488.0,1041.9 L490.5,1039.7 L493.1,1037.4 L495.7,1035.0 L498.2,1032.5 L500.8,1030.0 L503.3,1027.4 L505.9,1024.8 L508.4,1022.1 L511.0,1019.4 L513.6,1016.6 L516.1,1013.8 L518.7,1010.9 L521.2,1008.0 L523.8,1005.0 L526.4,1002.0 L528.9,999.0 L531.5,996.0 L534.0,992.9 L536.6,989.8 L539.1,986.7 L541.7,983.6 L544.3,980.5 L546.8,977.4 L549.4,974.2 L551.9,971.0 L554.5,967.9 L557.1,964.7 L559.6,961.6 L562.2,958.4 L564.7,955.3 L567.3,952.1 L569.9,949.0 L572.4,945.9 L575.0,942.8 L577.5,939.8 L580.1,936.7 L582.6,933.7 L585.2,930.7 L587.8,927.7 L590.3,924.8 L592.9,921.9 L595.4,919.0 L598.0,916.2 L600.6,913.4 L603.1,910.7 L605.7,908.0 L608.2,905.3 L610.8,902.7 L613.3,900.2 L615.9,897.7 L618.5,895.2 L621.0,892.8 L623.6,890.5 L626.1,888.2 L628.7,886.0 L631.3,883.9 L633.8,881.8 L636.4,879.8 L638.9,877.8 L641.5,875.9 L644.0,874.1 L646.6,872.4 L649.2,870.7 L651.7,869.1 L654.3,867.6 L656.8,866.2 L659.4,864.8 L662.0,863.5 L664.5,862.3 L667.1,861.2 L669.6,860.1 L672.2,859.2 L674.8,858.3 L677.3,857.5 L679.9,856.8 L682.4,856.1 L685.0,855.6 L687.5,855.1 L690.1,854.8 L692.7,854.5 L695.2,854.3 L697.8,854.2 L700.3,854.1 L702.9,854.2 L705.5,854.4 L708.0,854.7 L710.6,855.2 L713.1,855.7 L715.7,856.4 L718.2,857.2 L720.8,858.1 L723.4,859.1 L725.9,860.3 L728.5,861.5 L731.0,862.9 L733.6,864.4 L736.2,866.0 L738.7,867.7 L741.3,869.5 L743.8,871.3 L746.4,873.3 L748.9,875.4 L751.5,877.6 L754.1,879.9 L756.6,882.3 L759.2,884.7 L761.7,887.3 L764.3,889.9 L766.9,892.6 L769.4,895.3 L772.0,898.2 L774.5,901.1 L777.1,904.0 L779.7,907.1 L782.2,910.2 L784.8,913.3 L787.3,916.5 L789.9,919.7 L792.4,923.0 L795.0,926.3 L797.6,929.6 L800.1,932.9 L802.7,936.3 L805.2,939.7 L807.8,943.2 L810.4,946.6 L812.9,950.0 L815.5,953.5 L818.0,956.9 L820.6,960.4 L823.1,963.8 L825.7,967.2 L828.3,970.6 L830.8,974.0 L833.4,977.4 L835.9,980.7 L838.5,984.0 L841.1,987.3 L843.6,990.5 L846.2,993.7 L848.7,996.9 L851.3,1000.0 L853.8,1003.0 L856.4,1006.0 L859.0,1009.0 L861.5,1011.8 L864.1,1014.6 L866.6,1017.4 L869.2,1020.1 L871.8,1022.7 L874.3,1025.2 L876.9,1027.7 L879.4,1030.1 L882.0,1032.4 L884.6,1034.6 L887.1,1036.8 L889.7,1038.8 L892.2,1040.8 L894.8,1042.7 L897.3,1044.5 L899.9,1046.2 L902.5,1047.9 L905.0,1049.4 L907.6,1050.9 L910.1,1052.2 L912.7,1053.5 L915.3,1054.7 L917.8,1055.8 L920.4,1056.8 L922.9,1057.7 L925.5,1058.6 L928.0,1059.3 L930.6,1060.0 L933.2,1060.6 L935.7,1061.2 L938.3,1061.6 L940.8,1062.0 L943.4,1062.3 L946.0,1062.5 L948.5,1062.7 L951.1,1062.9 L953.6,1062.9 L956.2,1063.0 L958.8,1063.0"/>
<path d="M443.6,1063.0 L445.9,1062.7 L448.2,1062.1 L450.5,1061.3 L452.8,1060.4 L455.0,1059.2 L457.3,1058.0 L459.6,1056.6 L461.9,1055.0 L464.2,1053.4 L466.5,1051.6 L468.8,1049.8 L471.1,1047.9 L473.3,1045.8 L475.6,1043.7 L477.9,1041.5 L480.2,1039.2 L482.5,1036.8 L484.8,1034.4 L487.1,1031.9 L489.4,1029.3 L491.7,1026.7 L493.9,1024.0 L496.2,1021.3 L498.5,1018.5 L500.8,1015.7 L503.1,1012.8 L505.4,1009.9 L507.7,1007.0 L510.0,1004.0 L512.2,1001.0 L514.5,997.9 L516.8,994.9 L519.1,991.8 L521.4,988.7 L523.7,985.6 L526.0,982.4 L528.3,979.3 L530.5,976.1 L532.8,973.0 L535.1,969.8 L537.4,966.6 L539.7,963.5 L542.0,960.3 L544.3,957.2 L546.6,954.1 L548.8,951.0 L551.1,947.9 L553.4,944.8 L555.7,941.8 L558.0,938.7 L560.3,935.7 L562.6,932.8 L564.9,929.8 L567.1,926.9 L569.4,924.1 L571.7,921.3 L574.0,918.5 L576.3,915.8 L578.6,913.1 L580.9,910.4 L583.2,907.8 L585.4,905.3 L587.7,902.8 L590.0,900.4 L592.3,898.0 L594.6,895.7 L596.9,893.5 L599.2,891.3 L601.5,889.2 L603.7,887.2 L606.0,885.2 L608.3,883.3 L610.6,881.5 L612.9,879.7 L615.2,878.0 L617.5,876.4 L619.8,874.9 L622.0,873.5 L624.3,872.1 L626.6,870.8 L628.9,869.6 L631.2,868.5 L633.5,867.5 L635.8,866.5 L638.1,865.7 L640.3,864.9 L642.6,864.2 L644.9,863.6 L647.2,863.1 L649.5,862.7 L651.8,862.3 L654.1,862.1 L656.4,861.9 L658.6,861.9 L660.9,861.9 L663.2,862.0 L665.5,862.2 L667.8,862.6 L670.1,863.0 L672.4,863.5 L674.7,864.1 L676.9,864.8 L679.2,865.6 L681.5,866.5 L683.8,867.5 L686.1,868.6 L688.4,869.8 L690.7,871.1 L693.0,872.5 L695.3,873.9 L697.5,875.5 L699.8,877.1 L702.1,878.8 L704.4,880.6 L706.7,882.5 L709.0,884.4 L711.3,886.5 L713.6,888.6 L715.8,890.7 L718.1,893.0 L720.4,895.3 L722.7,897.7 L725.0,900.1 L727.3,902.6 L729.6,905.2 L731.9,907.8 L734.1,910.5 L736.4,913.2 L738.7,915.9 L741.0,918.7 L743.3,921.6 L745.6,924.5 L747.9,927.4 L750.2,930.3 L752.4,933.3 L754.7,936.3 L757.0,939.4 L759.3,942.4 L761.6,945.5 L763.9,948.6 L766.2,951.7 L768.5,954.8 L770.7,957.9 L773.0,961.0 L775.3,964.1 L777.6,967.2 L779.9,970.3 L782.2,973.4 L784.5,976.5 L786.8,979.5 L789.0,982.6 L791.3,985.6 L793.6,988.6 L795.9,991.5 L798.2,994.5 L800.5,997.4 L802.8,1000.2 L805.1,1003.0 L807.3,1005.8 L809.6,1008.6 L811.9,1011.2 L814.2,1013.9 L816.5,1016.5 L818.8,1019.0 L821.1,1021.5 L823.4,1023.9 L825.6,1026.3 L827.9,1028.6 L830.2,1030.8 L832.5,1033.0 L834.8,1035.1 L837.1,1037.1 L839.4,1039.0 L841.7,1040.9 L843.9,1042.7 L846.2,1044.5 L848.5,1046.1 L850.8,1047.7 L853.1,1049.2 L855.4,1050.7 L857.7,1052.0 L860.0,1053.3 L862.2,1054.5 L864.5,1055.6 L866.8,1056.6 L869.1,1057.6 L871.4,1058.4 L873.7,1059.2 L876.0,1059.9 L878.3,1060.6 L880.5,1061.1 L882.8,1061.6 L885.1,1062.0 L887.4,1062.3 L889.7,1062.6 L892.0,1062.8 L894.3,1062.9 L896.6,1063.0 L898.9,1063.0"/>
<path d="M473.6,1063.0 L476.1,1062.9 L478.6,1062.6 L481.1,1062.3 L483.6,1061.8 L486.1,1061.1 L488.6,1060.4 L491.0,1059.6 L493.5,1058.7 L496.0,1057.6 L498.5,1056.5 L501.0,1055.3 L503.5,1054.1 L506.0,1052.7 L508.5,1051.2 L511.0,1049.7 L513.5,1048.1 L516.0,1046.4 L518.5,1044.7 L521.0,1042.8 L523.5,1040.9 L526.0,1039.0 L528.5,1037.0 L531.0,1034.9 L533.5,1032.7 L536.0,1030.5 L538.5,1028.3 L541.0,1026.0 L543.5,1023.6 L546.0,1021.2 L548.5,1018.8 L551.0,1016.3 L553.5,1013.8 L556.0,1011.2 L558.5,1008.6 L561.0,1005.9 L563.5,1003.3 L566.0,1000.6 L568.5,997.8 L571.0,995.1 L573.5,992.3 L576.0,989.5 L578.5,986.7 L581.0,983.8 L583.5,981.0 L586.0,978.1 L588.5,975.3 L591.0,972.4 L593.5,969.5 L596.0,966.7 L598.5,963.8 L601.0,960.9 L603.5,958.1 L606.0,955.2 L608.5,952.3 L611.0,949.5 L613.5,946.7 L616.0,943.9 L618.5,941.1 L621.0,938.3 L623.5,935.6 L626.0,932.9 L628.5,930.2 L631.0,927.6 L633.5,924.9 L636.0,922.3 L638.5,919.8 L640.9,917.3 L643.4,914.8 L645.9,912.4 L648.4,910.0 L650.9,907.7 L653.4,905.4 L655.9,903.1 L658.4,900.9 L660.9,898.8 L663.4,896.7 L665.9,894.7 L668.4,892.7 L670.9,890.8 L673.4,888.9 L675.9,887.2 L678.4,885.4 L680.9,883.8 L683.4,882.2 L685.9,880.7 L688.4,879.2 L690.9,877.8 L693.4,876.5 L695.9,875.3 L698.4,874.1 L700.9,873.0 L703.4,872.0 L705.9,871.0 L708.4,870.1 L710.9,869.4 L713.4,868.6 L715.9,868.0 L718.4,867.4 L720.9,867.0 L723.4,866.6 L725.9,866.2 L728.4,866.0 L730.9,865.8 L733.4,865.7 L735.9,865.7 L738.4,865.9 L740.9,866.1 L743.4,866.5 L745.9,866.9 L748.4,867.5 L750.9,868.2 L753.4,869.1 L755.9,870.0 L758.4,871.1 L760.9,872.2 L763.4,873.5 L765.9,874.9 L768.4,876.4 L770.9,878.0 L773.4,879.7 L775.9,881.5 L778.4,883.4 L780.9,885.5 L783.4,887.6 L785.9,889.8 L788.4,892.1 L790.8,894.4 L793.3,896.9 L795.8,899.4 L798.3,902.0 L800.8,904.7 L803.3,907.5 L805.8,910.3 L808.3,913.2 L810.8,916.2 L813.3,919.2 L815.8,922.2 L818.3,925.3 L820.8,928.5 L823.3,931.7 L825.8,934.9 L828.3,938.2 L830.8,941.5 L833.3,944.8 L835.8,948.1 L838.3,951.5 L840.8,954.9 L843.3,958.2 L845.8,961.6 L848.3,965.0 L850.8,968.4 L853.3,971.8 L855.8,975.1 L858.3,978.5 L860.8,981.8 L863.3,985.1 L865.8,988.3 L868.3,991.6 L870.8,994.8 L873.3,997.9 L875.8,1001.1 L878.3,1004.1 L880.8,1007.1 L883.3,1010.1 L885.8,1013.0 L888.3,1015.9 L890.8,1018.7 L893.3,1021.4 L895.8,1024.0 L898.3,1026.6 L900.8,1029.1 L903.3,1031.6 L905.8,1033.9 L908.3,1036.2 L910.8,1038.3 L913.3,1040.4 L915.8,1042.4 L918.3,1044.4 L920.8,1046.2 L923.3,1047.9 L925.8,1049.6 L928.3,1051.1 L930.8,1052.6 L933.3,1053.9 L935.8,1055.2 L938.3,1056.3 L940.7,1057.4 L943.2,1058.4 L945.7,1059.2 L948.2,1060.0 L950.7,1060.7 L953.2,1061.3 L955.7,1061.8 L958.2,1062.2 L960.7,1062.5 L963.2,1062.7 L965.7,1062.9 L968.2,1063.0 L970.7,1063.0"/>
<path d="M491.5,1063.0 L493.8,1062.9 L496.1,1062.6 L498.4,1062.2 L500.7,1061.7 L503.0,1061.0 L505.3,1060.3 L507.5,1059.4 L509.8,1058.4 L512.1,1057.3 L514.4,1056.1 L516.7,1054.9 L519.0,1053.5 L521.3,1052.1 L523.6,1050.5 L525.8,1048.9 L528.1,1047.2 L530.4,1045.4 L532.7,1043.6 L535.0,1041.7 L537.3,1039.7 L539.6,1037.6 L541.9,1035.5 L544.1,1033.3 L546.4,1031.0 L548.7,1028.7 L551.0,1026.4 L553.3,1023.9 L555.6,1021.5 L557.9,1019.0 L560.2,1016.4 L562.4,1013.8 L564.7,1011.1 L567.0,1008.5 L569.3,1005.7 L571.6,1003.0 L573.9,1000.2 L576.2,997.4 L578.5,994.6 L580.7,991.7 L583.0,988.9 L585.3,986.0 L587.6,983.1 L589.9,980.2 L592.2,977.2 L594.5,974.3 L596.8,971.4 L599.0,968.4 L601.3,965.5 L603.6,962.6 L605.9,959.7 L608.2,956.8 L610.5,953.9 L612.8,951.0 L615.1,948.1 L617.4,945.3 L619.6,942.5 L621.9,939.7 L624.2,936.9 L626.5,934.2 L628.8,931.4 L631.1,928.8 L633.4,926.1 L635.7,923.5 L637.9,921.0 L640.2,918.5 L642.5,916.0 L644.8,913.6 L647.1,911.2 L649.4,908.9 L651.7,906.7 L654.0,904.5 L656.2,902.3 L658.5,900.2 L660.8,898.2 L663.1,896.2 L665.4,894.3 L667.7,892.5 L670.0,890.7 L672.3,889.1 L674.5,887.4 L676.8,885.9 L679.1,884.4 L681.4,883.0 L683.7,881.7 L686.0,880.4 L688.3,879.3 L690.6,878.2 L692.8,877.2 L695.1,876.2 L697.4,875.4 L699.7,874.6 L702.0,873.9 L704.3,873.3 L706.6,872.8 L708.9,872.4 L711.1,872.1 L713.4,871.8 L715.7,871.6 L718.0,871.5 L720.3,871.5 L722.6,871.7 L724.9,871.9 L727.2,872.2 L729.4,872.6 L731.7,873.1 L734.0,873.7 L736.3,874.5 L738.6,875.3 L740.9,876.2 L743.2,877.3 L745.5,878.4 L747.7,879.6 L750.0,880.9 L752.3,882.4 L754.6,883.9 L756.9,885.5 L759.2,887.1 L761.5,888.9 L763.8,890.8 L766.0,892.7 L768.3,894.7 L770.6,896.8 L772.9,899.0 L775.2,901.3 L777.5,903.6 L779.8,906.0 L782.1,908.4 L784.3,911.0 L786.6,913.5 L788.9,916.2 L791.2,918.9 L793.5,921.6 L795.8,924.4 L798.1,927.2 L800.4,930.1 L802.6,933.0 L804.9,936.0 L807.2,939.0 L809.5,942.0 L811.8,945.0 L814.1,948.1 L816.4,951.1 L818.7,954.2 L820.9,957.3 L823.2,960.4 L825.5,963.6 L827.8,966.7 L830.1,969.8 L832.4,972.9 L834.7,976.0 L837.0,979.1 L839.3,982.2 L841.5,985.2 L843.8,988.2 L846.1,991.2 L848.4,994.2 L850.7,997.2 L853.0,1000.1 L855.3,1003.0 L857.6,1005.8 L859.8,1008.6 L862.1,1011.3 L864.4,1014.0 L866.7,1016.6 L869.0,1019.2 L871.3,1021.7 L873.6,1024.2 L875.9,1026.6 L878.1,1029.0 L880.4,1031.2 L882.7,1033.4 L885.0,1035.6 L887.3,1037.6 L889.6,1039.6 L891.9,1041.5 L894.2,1043.4 L896.4,1045.1 L898.7,1046.8 L901.0,1048.4 L903.3,1049.9 L905.6,1051.3 L907.9,1052.7 L910.2,1053.9 L912.5,1055.1 L914.7,1056.2 L917.0,1057.2 L919.3,1058.1 L921.6,1059.0 L923.9,1059.7 L926.2,1060.4 L928.5,1061.0 L930.8,1061.5 L933.0,1061.9 L935.3,1062.3 L937.6,1062.6 L939.9,1062.8 L942.2,1062.9 L944.5,1063.0 L946.8,1063.0"/>
<path d="M437.6,1063.0 L440.0,1062.7 L442.4,1062.2 L444.8,1061.4 L447.1,1060.5 L449.5,1059.5 L451.9,1058.3 L454.3,1057.0 L456.6,1055.5 L459.0,1054.0 L461.4,1052.3 L463.8,1050.6 L466.2,1048.8 L468.5,1046.9 L470.9,1044.9 L473.3,1042.8 L475.7,1040.7 L478.0,1038.5 L480.4,1036.2 L482.8,1033.9 L485.2,1031.5 L487.6,1029.0 L489.9,1026.5 L492.3,1024.0 L494.7,1021.4 L497.1,1018.7 L499.4,1016.1 L501.8,1013.3 L504.2,1010.6 L506.6,1007.8 L509.0,1005.0 L511.3,1002.2 L513.7,999.3 L516.1,996.5 L518.5,993.6 L520.8,990.7 L523.2,987.8 L525.6,984.9 L528.0,982.0 L530.4,979.1 L532.7,976.2 L535.1,973.3 L537.5,970.4 L539.9,967.5 L542.2,964.6 L544.6,961.7 L547.0,958.9 L549.4,956.1 L551.8,953.3 L554.1,950.5 L556.5,947.8 L558.9,945.0 L561.3,942.4 L563.7,939.7 L566.0,937.1 L568.4,934.5 L570.8,932.0 L573.2,929.5 L575.5,927.1 L577.9,924.7 L580.3,922.3 L582.7,920.0 L585.1,917.8 L587.4,915.6 L589.8,913.5 L592.2,911.4 L594.6,909.4 L596.9,907.5 L599.3,905.6 L601.7,903.8 L604.1,902.0 L606.5,900.4 L608.8,898.8 L611.2,897.2 L613.6,895.8 L616.0,894.4 L618.3,893.1 L620.7,891.9 L623.1,890.7 L625.5,889.6 L627.9,888.6 L630.2,887.7 L632.6,886.9 L635.0,886.1 L637.4,885.5 L639.7,884.9 L642.1,884.4 L644.5,884.0 L646.9,883.6 L649.3,883.4 L651.6,883.2 L654.0,883.1 L656.4,883.2 L658.8,883.3 L661.1,883.5 L663.5,883.8 L665.9,884.3 L668.3,884.8 L670.7,885.4 L673.0,886.2 L675.4,887.0 L677.8,888.0 L680.2,889.1 L682.5,890.2 L684.9,891.5 L687.3,892.8 L689.7,894.3 L692.1,895.8 L694.4,897.4 L696.8,899.1 L699.2,900.9 L701.6,902.8 L703.9,904.8 L706.3,906.8 L708.7,908.9 L711.1,911.1 L713.5,913.4 L715.8,915.7 L718.2,918.1 L720.6,920.6 L723.0,923.1 L725.4,925.6 L727.7,928.2 L730.1,930.9 L732.5,933.6 L734.9,936.3 L737.2,939.1 L739.6,941.9 L742.0,944.8 L744.4,947.7 L746.8,950.5 L749.1,953.5 L751.5,956.4 L753.9,959.3 L756.3,962.3 L758.6,965.2 L761.0,968.2 L763.4,971.1 L765.8,974.1 L768.2,977.0 L770.5,979.9 L772.9,982.8 L775.3,985.7 L777.7,988.6 L780.0,991.4 L782.4,994.2 L784.8,997.0 L787.2,999.8 L789.6,1002.5 L791.9,1005.1 L794.3,1007.7 L796.7,1010.3 L799.1,1012.8 L801.4,1015.3 L803.8,1017.8 L806.2,1020.1 L808.6,1022.4 L811.0,1024.7 L813.3,1026.9 L815.7,1029.0 L818.1,1031.1 L820.5,1033.1 L822.8,1035.0 L825.2,1036.9 L827.6,1038.7 L830.0,1040.4 L832.4,1042.1 L834.7,1043.7 L837.1,1045.2 L839.5,1046.7 L841.9,1048.1 L844.2,1049.4 L846.6,1050.7 L849.0,1051.8 L851.4,1052.9 L853.8,1054.0 L856.1,1055.0 L858.5,1055.9 L860.9,1056.7 L863.3,1057.5 L865.6,1058.2 L868.0,1058.9 L870.4,1059.5 L872.8,1060.0 L875.2,1060.5 L877.5,1060.9 L879.9,1061.3 L882.3,1061.6 L884.7,1061.9 L887.1,1062.2 L889.4,1062.4 L891.8,1062.6 L894.2,1062.7 L896.6,1062.8 L898.9,1062.9 L901.3,1062.9 L903.7,1063.0 L906.1,1063.0 L908.5,1063.0 L910.8,1063.0"/>
<path d="M461.6,1063.0 L464.0,1062.9 L466.4,1062.5 L468.8,1062.1 L471.2,1061.5 L473.6,1060.8 L476.0,1060.0 L478.4,1059.1 L480.8,1058.1 L483.3,1057.1 L485.7,1055.9 L488.1,1054.7 L490.5,1053.4 L492.9,1052.0 L495.3,1050.5 L497.7,1049.0 L500.1,1047.4 L502.5,1045.7 L504.9,1044.0 L507.3,1042.2 L509.7,1040.4 L512.1,1038.5 L514.6,1036.5 L517.0,1034.5 L519.4,1032.5 L521.8,1030.4 L524.2,1028.2 L526.6,1026.0 L529.0,1023.8 L531.4,1021.5 L533.8,1019.2 L536.2,1016.9 L538.6,1014.5 L541.0,1012.1 L543.5,1009.6 L545.9,1007.2 L548.3,1004.7 L550.7,1002.2 L553.1,999.6 L555.5,997.1 L557.9,994.5 L560.3,991.9 L562.7,989.3 L565.1,986.7 L567.5,984.1 L569.9,981.4 L572.3,978.8 L574.8,976.1 L577.2,973.5 L579.6,970.8 L582.0,968.2 L584.4,965.5 L586.8,962.9 L589.2,960.2 L591.6,957.6 L594.0,955.0 L596.4,952.4 L598.8,949.8 L601.2,947.2 L603.7,944.6 L606.1,942.1 L608.5,939.6 L610.9,937.1 L613.3,934.6 L615.7,932.1 L618.1,929.7 L620.5,927.3 L622.9,925.0 L625.3,922.6 L627.7,920.3 L630.1,918.1 L632.6,915.8 L635.0,913.6 L637.4,911.5 L639.8,909.4 L642.2,907.3 L644.6,905.3 L647.0,903.3 L649.4,901.4 L651.8,899.5 L654.2,897.6 L656.6,895.8 L659.0,894.1 L661.4,892.4 L663.9,890.8 L666.3,889.2 L668.7,887.7 L671.1,886.2 L673.5,884.8 L675.9,883.4 L678.3,882.2 L680.7,880.9 L683.1,879.7 L685.5,878.6 L687.9,877.6 L690.3,876.6 L692.8,875.7 L695.2,874.8 L697.6,874.0 L700.0,873.3 L702.4,872.6 L704.8,872.0 L707.2,871.5 L709.6,871.0 L712.0,870.6 L714.4,870.3 L716.8,870.0 L719.2,869.8 L721.6,869.7 L724.1,869.6 L726.5,869.6 L728.9,869.8 L731.3,870.0 L733.7,870.4 L736.1,871.0 L738.5,871.6 L740.9,872.4 L743.3,873.3 L745.7,874.3 L748.1,875.5 L750.5,876.8 L753.0,878.2 L755.4,879.7 L757.8,881.4 L760.2,883.1 L762.6,885.0 L765.0,887.0 L767.4,889.0 L769.8,891.2 L772.2,893.5 L774.6,895.9 L777.0,898.4 L779.4,900.9 L781.8,903.6 L784.3,906.3 L786.7,909.1 L789.1,912.0 L791.5,915.0 L793.9,918.0 L796.3,921.1 L798.7,924.3 L801.1,927.5 L803.5,930.7 L805.9,934.0 L808.3,937.4 L810.7,940.8 L813.2,944.2 L815.6,947.6 L818.0,951.1 L820.4,954.5 L822.8,958.0 L825.2,961.5 L827.6,965.0 L830.0,968.5 L832.4,972.0 L834.8,975.5 L837.2,978.9 L839.6,982.4 L842.1,985.8 L844.5,989.2 L846.9,992.5 L849.3,995.8 L851.7,999.1 L854.1,1002.3 L856.5,1005.5 L858.9,1008.6 L861.3,1011.7 L863.7,1014.7 L866.1,1017.6 L868.5,1020.5 L870.9,1023.3 L873.4,1026.0 L875.8,1028.6 L878.2,1031.2 L880.6,1033.6 L883.0,1036.0 L885.4,1038.3 L887.8,1040.5 L890.2,1042.6 L892.6,1044.6 L895.0,1046.4 L897.4,1048.2 L899.8,1049.9 L902.3,1051.5 L904.7,1053.0 L907.1,1054.4 L909.5,1055.7 L911.9,1056.8 L914.3,1057.9 L916.7,1058.8 L919.1,1059.7 L921.5,1060.4 L923.9,1061.1 L926.3,1061.6 L928.7,1062.1 L931.1,1062.4 L933.6,1062.7 L936.0,1062.9 L938.4,1063.0 L940.8,1063.0"/>
<path d="M497.5,1063.0 L499.3,1062.6 L501.1,1062.2 L502.9,1061.6 L504.7,1060.9 L506.5,1060.2 L508.3,1059.3 L510.1,1058.4 L512.0,1057.4 L513.8,1056.4 L515.6,1055.3 L517.4,1054.1 L519.2,1052.9 L521.0,1051.7 L522.8,1050.5 L524.6,1049.0 L526.4,1047.4 L528.2,1045.7 L530.0,1043.8 L531.8,1041.8 L533.6,1039.6 L535.4,1037.4 L537.2,1035.2 L539.0,1032.8 L540.8,1030.5 L542.6,1028.1 L544.4,1025.7 L546.2,1023.3 L548.0,1020.8 L549.8,1018.1 L551.6,1015.4 L553.4,1012.6 L555.2,1009.7 L557.0,1006.8 L558.9,1003.8 L560.7,1000.7 L562.5,997.6 L564.3,994.5 L566.1,991.4 L567.9,988.3 L569.7,985.2 L571.5,982.0 L573.3,978.8 L575.1,975.6 L576.9,972.3 L578.7,969.0 L580.5,965.7 L582.3,962.3 L584.1,958.9 L585.9,955.5 L587.7,952.0 L589.5,948.6 L591.3,945.1 L593.1,941.6 L594.9,938.1 L596.7,934.7 L598.5,931.2 L600.3,927.7 L602.1,924.2 L604.0,920.7 L605.8,917.1 L607.6,913.5 L609.4,909.9 L611.2,906.1 L613.0,902.3 L614.8,898.4 L616.6,894.5 L618.4,890.4 L620.2,886.3 L622.0,882.1 L623.8,877.8 L625.6,873.4 L627.4,869.0 L629.2,864.4 L631.0,859.8 L632.8,855.0 L634.6,850.2 L636.4,845.2 L638.2,840.1 L640.0,834.9 L641.8,829.4 L643.6,823.5 L645.4,817.2 L647.2,810.8 L649.1,804.4 L650.9,798.0 L652.7,792.0 L654.5,786.3 L656.3,780.9 L658.1,775.6 L659.9,770.3 L661.7,765.1 L663.5,760.1 L665.3,755.5 L667.1,751.3 L668.9,747.8 L670.7,744.8 L672.5,741.9 L674.3,739.1 L676.1,736.3 L677.9,733.8 L679.7,731.5 L681.5,729.6 L683.3,728.0 L685.1,727.0 L686.9,726.5 L688.7,726.8 L690.5,728.1 L692.3,729.7 L694.1,730.9 L696.0,731.4 L697.8,731.7 L699.6,731.8 L701.4,731.9 L703.2,732.1 L705.0,732.3 L706.8,732.8 L708.6,733.7 L710.4,734.8 L712.2,736.1 L714.0,737.5 L715.8,738.9 L717.6,740.4 L719.4,741.7 L721.2,743.0 L723.0,744.2 L724.8,745.5 L726.6,747.0 L728.4,748.6 L730.2,750.3 L732.0,752.1 L733.8,754.0 L735.6,756.0 L737.4,758.1 L739.2,760.3 L741.1,762.5 L742.9,764.8 L744.7,767.1 L746.5,769.4 L748.3,771.8 L750.1,774.2 L751.9,776.6 L753.7,779.1 L755.5,781.7 L757.3,784.3 L759.1,787.0 L760.9,789.7 L762.7,792.5 L764.5,795.3 L766.3,798.1 L768.1,801.0 L769.9,804.0 L771.7,806.9 L773.5,809.9 L775.3,813.0 L777.1,816.0 L778.9,819.1 L780.7,822.3 L782.5,825.5 L784.3,828.8 L786.2,832.2 L788.0,835.6 L789.8,839.1 L791.6,842.6 L793.4,846.2 L795.2,849.8 L797.0,853.4 L798.8,857.0 L800.6,860.7 L802.4,864.3 L804.2,867.9 L806.0,871.5 L807.8,875.0 L809.6,878.5 L811.4,882.0 L813.2,885.5 L815.0,889.1 L816.8,892.6 L818.6,896.2 L820.4,899.7 L822.2,903.3 L824.0,906.8 L825.8,910.4 L827.6,913.9 L829.4,917.4 L831.2,920.9 L833.1,924.3 L834.9,927.7 L836.7,931.1 L838.5,934.5 L840.3,937.8 L842.1,941.1 L843.9,944.4 L845.7,947.8 L847.5,951.1 L849.3,954.4 L851.1,957.7 L852.9,960.9 L854.7,964.2 L856.5,967.3 L858.3,970.5 L860.1,973.6 L861.9,976.6 L863.7,979.5 L865.5,982.4 L867.3,985.2 L869.1,987.9 L870.9,990.6 L872.7,993.2 L874.5,995.8 L876.3,998.4 L878.2,1000.9 L880.0,1003.4 L881.8,1005.8 L883.6,1008.2 L885.4,1010.6 L887.2,1012.9 L889.0,1015.1 L890.8,1017.3 L892.6,1019.4 L894.4,1021.5 L896.2,1023.5 L898.0,1025.4 L899.8,1027.2 L901.6,1029.0 L903.4,1030.8 L905.2,1032.6 L907.0,1034.4 L908.8,1036.1 L910.6,1037.8 L912.4,1039.4 L914.2,1041.0 L916.0,1042.5 L917.8,1044.0 L919.6,1045.4 L921.4,1046.7 L923.2,1048.0 L925.1,1049.2 L926.9,1050.3 L928.7,1051.3 L930.5,1052.3 L932.3,1053.2 L934.1,1054.1 L935.9,1055.0 L937.7,1055.8 L939.5,1056.6 L941.3,1057.4 L943.1,1058.1 L944.9,1058.8 L946.7,1059.4 L948.5,1060.0 L950.3,1060.5 L952.1,1060.9 L953.9,1061.3 L955.7,1061.7 L957.5,1062.0 L959.3,1062.3 L961.1,1062.6 L962.9,1062.8 L964.7,1063.0"/>
</g>
<path d="M431.6,1063.0 L433.8,1063.0 L435.9,1063.0 L438.0,1063.0 L440.1,1062.9 L442.3,1062.6 L444.4,1062.3 L446.5,1061.8 L448.7,1061.3 L450.8,1060.6 L452.9,1059.8 L455.0,1058.8 L457.2,1057.7 L459.3,1056.4 L461.4,1055.0 L463.5,1053.4 L465.7,1051.6 L467.8,1049.7 L469.9,1047.7 L472.1,1045.5 L474.2,1043.1 L476.3,1040.7 L478.4,1038.3 L480.6,1035.8 L482.7,1033.3 L484.8,1030.8 L487.0,1028.2 L489.1,1025.5 L491.2,1022.8 L493.3,1020.0 L495.5,1017.1 L497.6,1014.2 L499.7,1011.2 L501.8,1008.3 L504.0,1005.3 L506.1,1002.4 L508.2,999.5 L510.4,996.5 L512.5,993.5 L514.6,990.5 L516.7,987.6 L518.9,984.6 L521.0,981.5 L523.1,978.5 L525.2,975.5 L527.4,972.4 L529.5,969.4 L531.6,966.4 L533.8,963.3 L535.9,960.3 L538.0,957.2 L540.1,954.2 L542.3,951.2 L544.4,948.2 L546.5,945.2 L548.7,942.2 L550.8,939.2 L552.9,936.2 L555.0,933.2 L557.2,930.3 L559.3,927.3 L561.4,924.4 L563.5,921.4 L565.7,918.5 L567.8,915.6 L569.9,912.6 L572.1,909.7 L574.2,906.9 L576.3,904.0 L578.4,901.2 L580.6,898.5 L582.7,895.7 L584.8,893.0 L587.0,890.3 L589.1,887.6 L591.2,885.0 L593.3,882.3 L595.5,879.7 L597.6,877.0 L599.7,874.5 L601.8,871.9 L604.0,869.5 L606.1,867.0 L608.2,864.6 L610.4,862.3 L612.5,859.9 L614.6,857.6 L616.7,855.3 L618.9,853.1 L621.0,850.9 L623.1,848.7 L625.3,846.6 L627.4,844.6 L629.5,842.6 L631.6,840.7 L633.8,838.8 L635.9,837.0 L638.0,835.3 L640.1,833.6 L642.3,831.9 L644.4,830.3 L646.5,828.7 L648.7,827.3 L650.8,825.8 L652.9,824.5 L655.0,823.2 L657.2,822.0 L659.3,820.8 L661.4,819.7 L663.6,818.6 L665.7,817.5 L667.8,816.5 L669.9,815.5 L672.1,814.5 L674.2,813.7 L676.3,812.8 L678.4,812.1 L680.6,811.4 L682.7,810.7 L684.8,810.1 L687.0,809.6 L689.1,809.2 L691.2,808.8 L693.3,808.5 L695.5,808.3 L697.6,808.1 L699.7,808.1 L701.9,808.1 L704.0,808.3 L706.1,808.6 L708.2,808.9 L710.4,809.4 L712.5,810.0 L714.6,810.6 L716.7,811.4 L718.9,812.2 L721.0,813.1 L723.1,814.1 L725.3,815.2 L727.4,816.5 L729.5,817.8 L731.6,819.3 L733.8,821.0 L735.9,822.7 L738.0,824.5 L740.1,826.4 L742.3,828.4 L744.4,830.4 L746.5,832.5 L748.7,834.7 L750.8,836.9 L752.9,839.2 L755.0,841.5 L757.2,843.8 L759.3,846.2 L761.4,848.6 L763.6,851.0 L765.7,853.5 L767.8,856.1 L769.9,858.7 L772.1,861.3 L774.2,864.1 L776.3,866.9 L778.4,869.7 L780.6,872.6 L782.7,875.5 L784.8,878.4 L787.0,881.3 L789.1,884.3 L791.2,887.3 L793.3,890.3 L795.5,893.3 L797.6,896.4 L799.7,899.5 L801.9,902.7 L804.0,905.8 L806.1,909.0 L808.2,912.1 L810.4,915.3 L812.5,918.5 L814.6,921.7 L816.7,924.8 L818.9,928.0 L821.0,931.2 L823.1,934.4 L825.3,937.6 L827.4,940.8 L829.5,944.1 L831.6,947.3 L833.8,950.6 L835.9,953.8 L838.0,957.1 L840.2,960.4 L842.3,963.6 L844.4,966.9 L846.5,970.1 L848.7,973.4 L850.8,976.6 L852.9,979.8 L855.0,982.9 L857.2,985.9 L859.3,988.9 L861.4,991.9 L863.6,994.8 L865.7,997.7 L867.8,1000.6 L869.9,1003.5 L872.1,1006.3 L874.2,1009.1 L876.3,1011.9 L878.5,1014.5 L880.6,1017.1 L882.7,1019.6 L884.8,1022.0 L887.0,1024.4 L889.1,1026.7 L891.2,1028.9 L893.3,1031.0 L895.5,1033.1 L897.6,1035.2 L899.7,1037.2 L901.9,1039.1 L904.0,1041.0 L906.1,1042.9 L908.2,1044.6 L910.4,1046.3 L912.5,1047.9 L914.6,1049.4 L916.8,1050.8 L918.9,1052.0 L921.0,1053.2 L923.1,1054.2 L925.3,1055.1 L927.4,1055.9 L929.5,1056.6 L931.6,1057.3 L933.8,1058.0 L935.9,1058.6 L938.0,1059.1 L940.2,1059.6 L942.3,1060.1 L944.4,1060.5 L946.5,1060.8 L948.7,1061.1 L950.8,1061.4 L952.9,1061.6 L955.0,1061.8 L957.2,1062.1 L959.3,1062.3 L961.4,1062.5 L963.6,1062.6 L965.7,1062.8 L967.8,1062.9 L969.9,1063.0 L972.1,1063.0 L974.2,1063.0 L976.3,1063.0 L978.5,1063.0 L980.6,1063.0 L982.7,1063.0" fill="none" stroke="#161616" stroke-width="2.7" stroke-linecap="round" stroke-linejoin="round"/>
<path d="M390.2,578.5 V1063.0 H989.7" fill="none" stroke="#363636" stroke-width="2.1"/>
<path d="M390.2,1014.6 h5" stroke="#363636" stroke-width="1.8"/>
<path d="M390.2,966.3 h9" stroke="#363636" stroke-width="1.8"/>
<path d="M390.2,918.0 h5" stroke="#363636" stroke-width="1.8"/>
<path d="M390.2,869.6 h9" stroke="#363636" stroke-width="1.8"/>
<path d="M390.2,821.2 h5" stroke="#363636" stroke-width="1.8"/>
<path d="M390.2,772.9 h9" stroke="#363636" stroke-width="1.8"/>
<path d="M390.2,724.5 h5" stroke="#363636" stroke-width="1.8"/>
<path d="M390.2,676.2 h9" stroke="#363636" stroke-width="1.8"/>
<path d="M390.2,627.9 h5" stroke="#363636" stroke-width="1.8"/>
<path d="M390.2,579.5 h9" stroke="#363636" stroke-width="1.8"/>
<path d="M449.6,1063.0 v-5" stroke="#363636" stroke-width="1.8"/>
<path d="M509.5,1063.0 v-9" stroke="#363636" stroke-width="1.8"/>
<path d="M569.4,1063.0 v-5" stroke="#363636" stroke-width="1.8"/>
<path d="M629.3,1063.0 v-9" stroke="#363636" stroke-width="1.8"/>
<path d="M689.2,1063.0 v-5" stroke="#363636" stroke-width="1.8"/>
<path d="M749.1,1063.0 v-9" stroke="#363636" stroke-width="1.8"/>
<path d="M809.0,1063.0 v-5" stroke="#363636" stroke-width="1.8"/>
<path d="M868.9,1063.0 v-9" stroke="#363636" stroke-width="1.8"/>
<path d="M928.8,1063.0 v-5" stroke="#363636" stroke-width="1.8"/>
<path d="M988.7,1063.0 v-9" stroke="#363636" stroke-width="1.8"/>
<text x="378.7" y="1072.2" text-anchor="end" font-family="'Liberation Serif','Noto Serif CJK SC',serif" font-size="20.5" fill="#444">0</text>
<text x="378.7" y="975.5" text-anchor="end" font-family="'Liberation Serif','Noto Serif CJK SC',serif" font-size="20.5" fill="#444">5</text>
<text x="378.7" y="878.8" text-anchor="end" font-family="'Liberation Serif','Noto Serif CJK SC',serif" font-size="20.5" fill="#444">10</text>
<text x="378.7" y="782.1" text-anchor="end" font-family="'Liberation Serif','Noto Serif CJK SC',serif" font-size="20.5" fill="#444">15</text>
<text x="378.7" y="685.4" text-anchor="end" font-family="'Liberation Serif','Noto Serif CJK SC',serif" font-size="20.5" fill="#444">20</text>
<text x="378.7" y="588.7" text-anchor="end" font-family="'Liberation Serif','Noto Serif CJK SC',serif" font-size="20.5" fill="#444">25</text>
<text x="390.2" y="1091.5" text-anchor="middle" font-family="'Liberation Serif','Noto Serif CJK SC',serif" font-size="20.5" fill="#444">0</text>
<text x="510.0" y="1091.5" text-anchor="middle" font-family="'Liberation Serif','Noto Serif CJK SC',serif" font-size="20.5" fill="#444">20</text>
<text x="629.8" y="1091.5" text-anchor="middle" font-family="'Liberation Serif','Noto Serif CJK SC',serif" font-size="20.5" fill="#444">40</text>
<text x="749.6" y="1091.5" text-anchor="middle" font-family="'Liberation Serif','Noto Serif CJK SC',serif" font-size="20.5" fill="#444">60</text>
<text x="869.4" y="1091.5" text-anchor="middle" font-family="'Liberation Serif','Noto Serif CJK SC',serif" font-size="20.5" fill="#444">80</text>
<text x="989.2" y="1091.5" text-anchor="middle" font-family="'Liberation Serif','Noto Serif CJK SC',serif" font-size="20.5" fill="#444">100</text>
<text transform="translate(331.2,959.5) rotate(-90)" x="6.3 19.0 31.7 44.4 57.1 69.8 82.5 95.2 107.9 120.6 133.3 146.0 158.7 171.4 184.1 196.8 209.5 222.2 234.9 247.6 260.3 273.0 285.7" text-anchor="middle" font-family="'Liberation Serif','Noto Serif CJK SC',serif" font-size="25" fill="#3a3a3a" stroke="#3a3a3a" stroke-width="0.3"><tspan textLength="11.6" lengthAdjust="spacingAndGlyphs">G</tspan>r<tspan textLength="11.2" lengthAdjust="spacingAndGlyphs">o</tspan><tspan textLength="11.2" lengthAdjust="spacingAndGlyphs">u</tspan><tspan textLength="11.2" lengthAdjust="spacingAndGlyphs">n</tspan><tspan textLength="11.2" lengthAdjust="spacingAndGlyphs">d</tspan> <tspan textLength="11.6" lengthAdjust="spacingAndGlyphs">R</tspan>eacti<tspan textLength="11.2" lengthAdjust="spacingAndGlyphs">o</tspan><tspan textLength="11.2" lengthAdjust="spacingAndGlyphs">n</tspan> <tspan textLength="11.6" lengthAdjust="spacingAndGlyphs">F</tspan><tspan textLength="11.2" lengthAdjust="spacingAndGlyphs">o</tspan>rce/<tspan textLength="11.6" lengthAdjust="spacingAndGlyphs">%</tspan></text>
<text x="645.8 658.2 670.8 683.2 695.8 708.2 720.8 733.2" y="1124.5" text-anchor="middle" font-family="'Liberation Serif','Noto Serif CJK SC',serif" font-size="25" fill="#222" stroke="#222" stroke-width="0.3"><tspan textLength="11.6" lengthAdjust="spacingAndGlyphs">S</tspan>ta<tspan textLength="11.2" lengthAdjust="spacingAndGlyphs">n</tspan>ce/<tspan textLength="11.6" lengthAdjust="spacingAndGlyphs">%</tspan></text>
<g>
<polygon points="1146.5,219.8 1180.1,219.8 1180.1,233.0 1236.2,233.0 1236.2,259.3 1225.0,259.3 1225.0,285.7 1213.8,285.7 1213.8,312.0 1202.6,312.0 1202.6,325.2 1191.4,325.2 1191.4,364.8 1180.1,364.8 1180.1,377.9 1135.3,377.9 1135.3,364.8 1079.2,364.8 1079.2,338.4 1101.6,338.4 1101.6,325.2 1124.0,325.2 1124.0,312.0 1146.5,312.0 1146.5,285.7 1157.7,285.7 1157.7,233.0 1146.5,233.0" fill="#a8a8a8" stroke="#9a9a9a" stroke-width="1" stroke-linejoin="miter"/>
<polygon points="1101.6,8.9 1124.0,8.9 1124.0,22.1 1148.2,22.1 1148.2,61.6 1135.3,61.6 1135.3,74.8 1124.0,74.8 1124.0,88.0 1090.4,88.0 1090.4,101.2 1079.2,101.2 1079.2,74.8 1067.9,74.8 1067.9,61.6 1056.7,61.6 1056.7,48.4 1067.9,48.4 1067.9,35.3 1079.2,35.3 1079.2,22.1 1101.6,22.1" fill="#fbfbfb" stroke="#5e5e5e" stroke-width="1.5" stroke-linejoin="miter"/>
<polygon points="1148.2,22.1 1157.7,22.1 1157.7,8.9 1168.9,8.9 1168.9,22.1 1191.4,22.1 1191.4,35.3 1213.8,35.3 1213.8,61.6 1236.2,61.6 1236.2,88.0 1247.5,88.0 1247.5,114.3 1258.7,114.3 1258.7,153.9 1236.2,153.9 1236.2,140.7 1225.0,140.7 1225.0,127.5 1213.8,127.5 1213.8,101.2 1202.6,101.2 1202.6,114.3 1191.4,114.3 1191.4,74.8 1180.1,74.8 1180.1,61.6 1148.2,61.6" fill="#fbfbfb" stroke="#5e5e5e" stroke-width="1.5" stroke-linejoin="miter"/>
<polygon points="1056.7,114.3 1157.7,114.3 1157.7,144.7 1146.5,144.7 1146.5,193.4 1079.2,193.4 1079.2,180.2 1067.9,180.2 1067.9,167.1 1056.7,167.1 1056.7,153.9 1045.5,153.9 1045.5,127.5 1056.7,127.5" fill="#fcfcfc" stroke="#666" stroke-width="1.4" stroke-linejoin="miter"/>
<polygon points="1157.7,114.3 1168.9,114.3 1168.9,127.5 1191.4,127.5 1191.4,140.7 1180.1,140.7 1180.1,206.6 1166.7,206.6 1166.7,219.8 1157.7,219.8 1157.7,206.6 1146.5,206.6 1146.5,144.7 1157.7,144.7" fill="#d1d1d1" stroke="#777" stroke-width="1.3" stroke-linejoin="miter"/>
<polygon points="1191.4,127.5 1202.6,127.5 1202.6,140.7 1225.0,140.7 1225.0,152.6 1213.8,152.6 1213.8,190.8 1202.6,190.8 1202.6,233.0 1180.1,233.0 1180.1,219.8 1166.7,219.8 1166.7,206.6 1180.1,206.6 1180.1,140.7 1191.4,140.7" fill="#bdbdbd" stroke="#5a5a5a" stroke-width="1.2" stroke-linejoin="miter"/>
<polygon points="1225.0,140.7 1236.2,140.7 1236.2,153.9 1258.7,153.9 1258.7,219.8 1247.5,219.8 1247.5,246.1 1236.2,246.1 1236.2,233.0 1202.6,233.0 1202.6,190.8 1213.8,190.8 1213.8,152.6 1225.0,152.6" fill="#bbbbbb" stroke="#4a4a4a" stroke-width="1.2" stroke-linejoin="miter"/>
<polygon points="1124.0,364.8 1135.3,364.8 1135.3,377.9 1191.4,377.9 1191.4,404.3 1180.1,404.3 1180.1,443.8 1168.9,443.8 1168.9,457.0 1146.5,457.0 1146.5,467.6 1124.0,467.6 1124.0,457.0 1112.8,457.0 1112.8,443.8 1124.0,443.8 1124.0,417.5 1112.8,417.5 1112.8,391.1 1124.0,391.1" fill="#5f5f5f" stroke="#555" stroke-width="1" stroke-linejoin="miter"/>
<polygon points="1067.9,351.6 1079.2,351.6 1079.2,364.8 1124.0,364.8 1124.0,391.1 1112.8,391.1 1112.8,417.5 1124.0,417.5 1124.0,443.8 1112.8,443.8 1112.8,457.0 1124.0,457.0 1124.0,467.6 1090.4,467.6 1090.4,457.0 1067.9,457.0 1067.9,443.8 1056.7,443.8 1056.7,417.5 1045.5,417.5 1045.5,391.1 1056.7,391.1 1056.7,364.8 1067.9,364.8" fill="#4a4a4a" stroke="#3a3a3a" stroke-width="1" stroke-linejoin="miter"/>
<polygon points="1124.0,364.8 1135.3,364.8 1135.3,377.9 1124.0,377.9" fill="#717171" stroke="none" stroke-width="0" stroke-linejoin="miter"/>
<polygon points="1225.0,140.7 1236.2,140.7 1236.2,153.9 1225.0,153.9" fill="#b3b3b3" stroke="#666" stroke-width="1" stroke-linejoin="miter"/>
</g>
<g>
<polygon points="1150.5,797.3 1184.1,797.3 1184.1,810.5 1240.2,810.5 1240.2,836.8 1229.0,836.8 1229.0,863.2 1217.8,863.2 1217.8,889.5 1206.6,889.5 1206.6,902.7 1195.4,902.7 1195.4,942.3 1184.1,942.3 1184.1,955.4 1139.3,955.4 1139.3,942.3 1083.2,942.3 1083.2,915.9 1105.6,915.9 1105.6,902.7 1128.0,902.7 1128.0,889.5 1150.5,889.5 1150.5,863.2 1161.7,863.2 1161.7,810.5 1150.5,810.5" fill="#ffffff" stroke="#5e5e5e" stroke-width="1.5" stroke-linejoin="miter"/>
<polygon points="1128.0,942.3 1139.3,942.3 1139.3,955.4 1195.4,955.4 1195.4,981.8 1184.1,981.8 1184.1,1021.3 1172.9,1021.3 1172.9,1034.5 1150.5,1034.5 1150.5,1045.1 1128.0,1045.1 1128.0,1034.5 1116.8,1034.5 1116.8,1021.3 1128.0,1021.3 1128.0,995.0 1116.8,995.0 1116.8,968.6 1128.0,968.6" fill="#ffffff" stroke="#5e5e5e" stroke-width="1.5" stroke-linejoin="miter"/>
<polygon points="1071.9,929.1 1083.2,929.1 1083.2,942.3 1128.0,942.3 1128.0,968.6 1116.8,968.6 1116.8,995.0 1128.0,995.0 1128.0,1021.3 1116.8,1021.3 1116.8,1034.5 1128.0,1034.5 1128.0,1045.1 1094.4,1045.1 1094.4,1034.5 1071.9,1034.5 1071.9,1021.3 1060.7,1021.3 1060.7,995.0 1049.5,995.0 1049.5,968.6 1060.7,968.6 1060.7,942.3 1071.9,942.3" fill="#ffffff" stroke="#5e5e5e" stroke-width="1.5" stroke-linejoin="miter"/>
<polygon points="1105.6,586.4 1128.0,586.4 1128.0,599.6 1152.2,599.6 1152.2,639.1 1139.3,639.1 1139.3,652.3 1128.0,652.3 1128.0,665.5 1094.4,665.5 1094.4,678.7 1083.2,678.7 1083.2,652.3 1071.9,652.3 1071.9,639.1 1060.7,639.1 1060.7,625.9 1071.9,625.9 1071.9,612.8 1083.2,612.8 1083.2,599.6 1105.6,599.6" fill="#9f9f9f" stroke="#6a6a6a" stroke-width="1.4" stroke-linejoin="miter"/>
<polygon points="1152.2,599.6 1161.7,599.6 1161.7,586.4 1172.9,586.4 1172.9,599.6 1195.4,599.6 1195.4,612.8 1217.8,612.8 1217.8,639.1 1240.2,639.1 1240.2,665.5 1251.5,665.5 1251.5,691.8 1262.7,691.8 1262.7,731.4 1240.2,731.4 1240.2,718.2 1229.0,718.2 1229.0,705.0 1217.8,705.0 1217.8,678.7 1206.6,678.7 1206.6,691.8 1195.4,691.8 1195.4,652.3 1184.1,652.3 1184.1,639.1 1152.2,639.1" fill="#d0d0d0" stroke="#6a6a6a" stroke-width="1.4" stroke-linejoin="miter"/>
<polygon points="1060.7,691.8 1117.4,691.8 1117.4,770.9 1083.2,770.9 1083.2,757.7 1071.9,757.7 1071.9,744.6 1060.7,744.6 1060.7,731.4 1049.5,731.4 1049.5,705.0 1060.7,705.0" fill="#a0a0a0" stroke="#7e7e7e" stroke-width="1.2" stroke-linejoin="miter"/>
<polygon points="1117.4,691.8 1161.7,691.8 1161.7,706.3 1153.8,706.3 1151.6,770.9 1117.4,770.9" fill="#555555" stroke="#4e4e4e" stroke-width="1" stroke-linejoin="miter"/>
<polygon points="1161.7,691.8 1172.9,691.8 1172.9,705.0 1195.4,705.0 1195.4,718.2 1184.1,718.2 1184.1,784.1 1174.0,784.1 1174.0,797.3 1162.8,797.3 1162.8,784.1 1151.6,784.1 1153.8,706.3 1161.7,706.3" fill="#6a6a6a" stroke="#555" stroke-width="1" stroke-linejoin="miter"/>
<polygon points="1195.4,705.0 1206.6,705.0 1206.6,718.2 1229.0,718.2 1229.0,730.1 1217.8,730.1 1217.8,768.3 1206.6,768.3 1206.6,810.5 1184.1,810.5 1184.1,797.3 1174.0,797.3 1174.0,784.1 1184.1,784.1 1184.1,718.2 1195.4,718.2" fill="#a0a0a0" stroke="#666" stroke-width="1.2" stroke-linejoin="miter"/>
<polygon points="1229.0,718.2 1240.2,718.2 1240.2,731.4 1262.7,731.4 1262.7,797.3 1251.5,797.3 1251.5,823.6 1240.2,823.6 1240.2,810.5 1206.6,810.5 1206.6,768.3 1217.8,768.3 1217.8,730.1 1229.0,730.1" fill="#bdbdbd" stroke="#666" stroke-width="1.2" stroke-linejoin="miter"/>
</g>
<rect x="1349.5" y="29.7" width="46.5" height="429.6" fill="url(#cb)" stroke="#5a5a5a" stroke-width="1.2"/>
<text x="1400" y="465.3" font-family="'Liberation Sans',sans-serif" font-size="13.5" fill="#4a4a4a">0</text>
<path d="M1396,418.2 h-3.5" stroke="#444" stroke-width="1"/>
<text x="1400" y="422.3" font-family="'Liberation Sans',sans-serif" font-size="13.5" fill="#4a4a4a">5</text>
<path d="M1396,375.2 h-3.5" stroke="#444" stroke-width="1"/>
<text x="1400" y="379.3" font-family="'Liberation Sans',sans-serif" font-size="13.5" fill="#4a4a4a">10</text>
<path d="M1396,332.1 h-3.5" stroke="#444" stroke-width="1"/>
<text x="1400" y="336.2" font-family="'Liberation Sans',sans-serif" font-size="13.5" fill="#4a4a4a">15</text>
<path d="M1396,289.1 h-3.5" stroke="#444" stroke-width="1"/>
<text x="1400" y="293.2" font-family="'Liberation Sans',sans-serif" font-size="13.5" fill="#4a4a4a">20</text>
<path d="M1396,246.1 h-3.5" stroke="#444" stroke-width="1"/>
<text x="1400" y="250.2" font-family="'Liberation Sans',sans-serif" font-size="13.5" fill="#4a4a4a">25</text>
<path d="M1396,203.1 h-3.5" stroke="#444" stroke-width="1"/>
<text x="1400" y="207.2" font-family="'Liberation Sans',sans-serif" font-size="13.5" fill="#4a4a4a">30</text>
<path d="M1396,160.1 h-3.5" stroke="#444" stroke-width="1"/>
<text x="1400" y="164.2" font-family="'Liberation Sans',sans-serif" font-size="13.5" fill="#4a4a4a">35</text>
<path d="M1396,117.0 h-3.5" stroke="#444" stroke-width="1"/>
<text x="1400" y="121.1" font-family="'Liberation Sans',sans-serif" font-size="13.5" fill="#4a4a4a">40</text>
<path d="M1396,74.0 h-3.5" stroke="#444" stroke-width="1"/>
<text x="1400" y="78.1" font-family="'Liberation Sans',sans-serif" font-size="13.5" fill="#4a4a4a">45</text>
<text x="1400" y="35.1" font-family="'Liberation Sans',sans-serif" font-size="13.5" fill="#4a4a4a">50</text>
<rect x="1354" y="596.7" width="46.200000000000045" height="431.39999999999986" fill="url(#cb)" stroke="#5a5a5a" stroke-width="1.2"/>
<text x="1404.2" y="1033.4" font-family="'Liberation Sans',sans-serif" font-size="13.5" fill="#4a4a4a">0</text>
<path d="M1400.2,986.2 h-3.5" stroke="#444" stroke-width="1"/>
<text x="1404.2" y="990.3" font-family="'Liberation Sans',sans-serif" font-size="13.5" fill="#4a4a4a">5</text>
<path d="M1400.2,943.0 h-3.5" stroke="#444" stroke-width="1"/>
<text x="1404.2" y="947.1" font-family="'Liberation Sans',sans-serif" font-size="13.5" fill="#4a4a4a">10</text>
<path d="M1400.2,899.9 h-3.5" stroke="#444" stroke-width="1"/>
<text x="1404.2" y="904.0" font-family="'Liberation Sans',sans-serif" font-size="13.5" fill="#4a4a4a">15</text>
<path d="M1400.2,856.8 h-3.5" stroke="#444" stroke-width="1"/>
<text x="1404.2" y="860.9" font-family="'Liberation Sans',sans-serif" font-size="13.5" fill="#4a4a4a">20</text>
<path d="M1400.2,813.6 h-3.5" stroke="#444" stroke-width="1"/>
<text x="1404.2" y="817.8" font-family="'Liberation Sans',sans-serif" font-size="13.5" fill="#4a4a4a">25</text>
<path d="M1400.2,770.5 h-3.5" stroke="#444" stroke-width="1"/>
<text x="1404.2" y="774.6" font-family="'Liberation Sans',sans-serif" font-size="13.5" fill="#4a4a4a">30</text>
<path d="M1400.2,727.4 h-3.5" stroke="#444" stroke-width="1"/>
<text x="1404.2" y="731.5" font-family="'Liberation Sans',sans-serif" font-size="13.5" fill="#4a4a4a">35</text>
<path d="M1400.2,684.3 h-3.5" stroke="#444" stroke-width="1"/>
<text x="1404.2" y="688.4" font-family="'Liberation Sans',sans-serif" font-size="13.5" fill="#4a4a4a">40</text>
<path d="M1400.2,641.1 h-3.5" stroke="#444" stroke-width="1"/>
<text x="1404.2" y="645.2" font-family="'Liberation Sans',sans-serif" font-size="13.5" fill="#4a4a4a">45</text>
<text x="1404.2" y="602.1" font-family="'Liberation Sans',sans-serif" font-size="13.5" fill="#4a4a4a">50</text>
<text x="1049" y="527.7" font-family="'Liberation Serif','Noto Serif CJK SC',serif" font-size="26" fill="#111">Weight Distribution across Foot Regions</text>
<text x="1049" y="1120.3" font-family="'Liberation Serif','Noto Serif CJK SC',serif" font-size="26" fill="#111">Weight Distribution across Foot Regions</text>
</g>
</svg>
</div>
</body></html>
